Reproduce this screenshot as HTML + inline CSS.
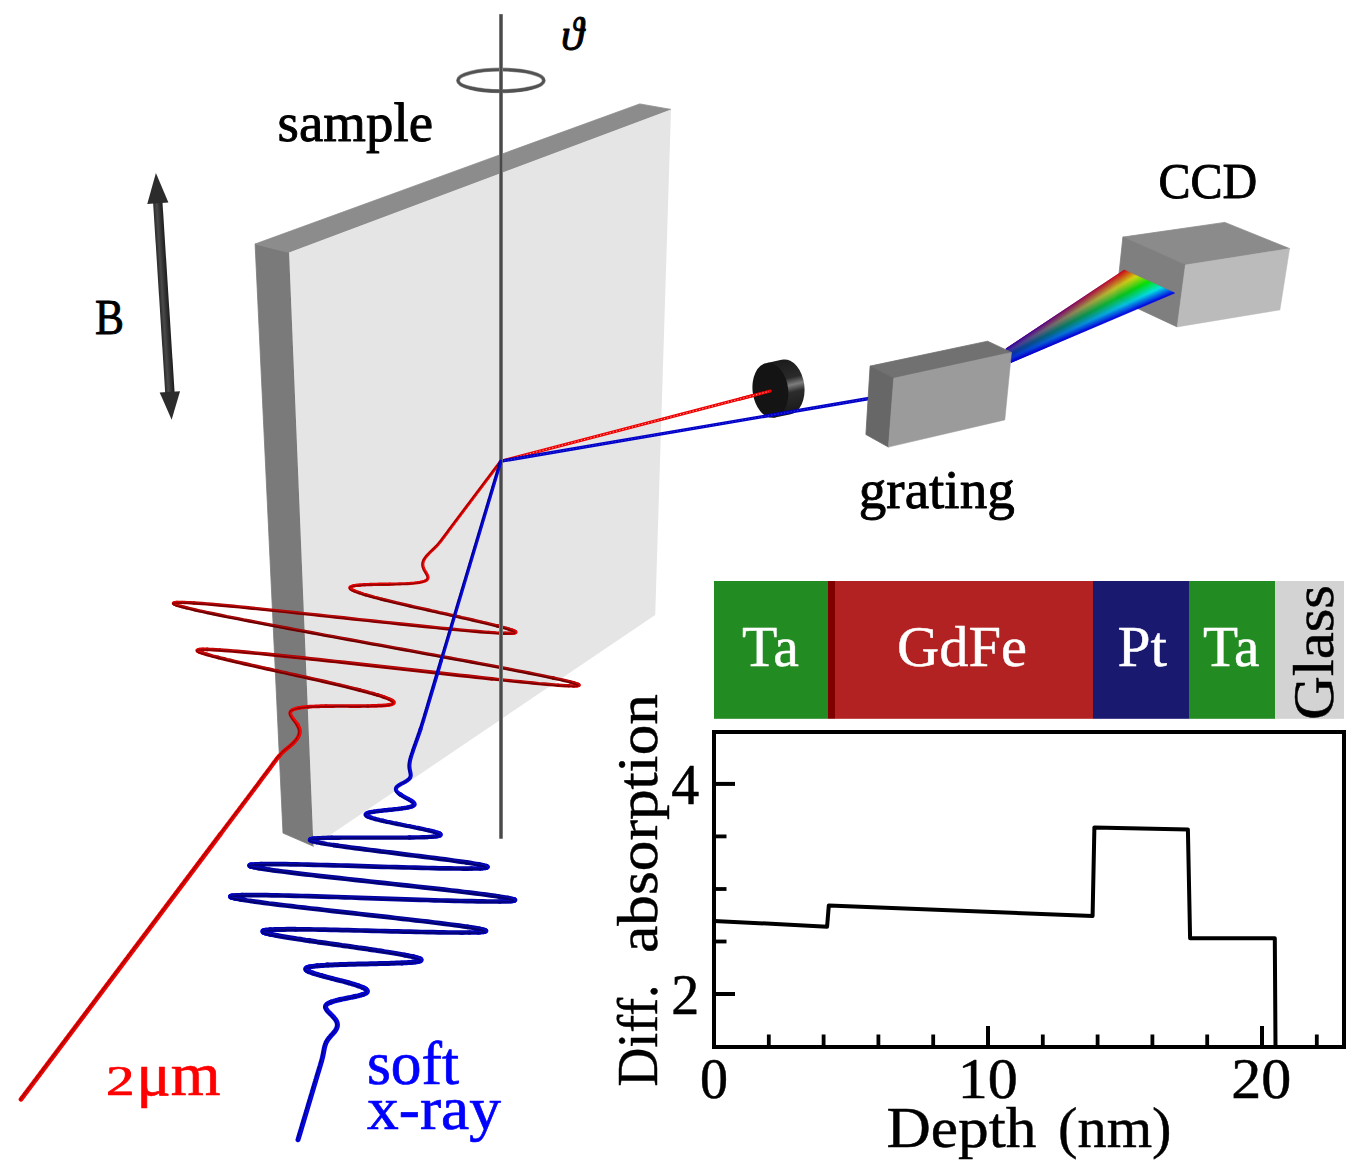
<!DOCTYPE html>
<html><head><meta charset="utf-8"><title>setup</title><style>html,body{margin:0;padding:0;background:#fff}svg{display:block}</style></head><body><svg width="1360" height="1168" viewBox="0 0 1360 1168" font-family="'Liberation Serif', serif">
<defs>
<linearGradient id="rbfade" gradientUnits="userSpaceOnUse" x1="1008" y1="355" x2="1150" y2="282">
<stop offset="0" stop-color="#0a00c8" stop-opacity="0.8"/><stop offset="1" stop-color="#0a00c8" stop-opacity="0"/></linearGradient>
<linearGradient id="rim" gradientUnits="userSpaceOnUse" x1="786" y1="360" x2="799" y2="415">
<stop offset="0" stop-color="#1c1c1c"/><stop offset="0.32" stop-color="#2a2a2a"/><stop offset="0.45" stop-color="#7c7c7c"/><stop offset="0.58" stop-color="#2c2c2c"/><stop offset="1" stop-color="#161616"/></linearGradient>
<linearGradient id="shaft" gradientUnits="userSpaceOnUse" x1="-4.6" y1="0" x2="4.6" y2="0">
<stop offset="0" stop-color="#2a2a2a"/><stop offset="0.35" stop-color="#4a4a4a"/><stop offset="0.7" stop-color="#303030"/><stop offset="1" stop-color="#1e1e1e"/></linearGradient>
<clipPath id="rimclip"><ellipse cx="786.6" cy="386.9" rx="17.8" ry="27.6" transform="rotate(-7 786.6 386.9)"/><polygon points="767,362.9 783.2,359.5 790.8,414.3 773.8,417.7"/></clipPath>
</defs>
<rect width="1360" height="1168" fill="#fff"/>
<polygon points="255.1,244 289.1,252.4 313.5,846.3 283,833.1" fill="#7a7a7a" stroke="#7a7a7a" stroke-width="0.8" stroke-linejoin="round"/>
<polygon points="255.1,244 639.7,103.9 671,109.4 289.1,252.4" fill="#8c8c8c" stroke="#8c8c8c" stroke-width="0.8" stroke-linejoin="round"/>
<polygon points="289.1,252.4 671,109.4 655.2,614.9 313.5,846.3" fill="#e5e5e5"/>
<g fill="none"><ellipse cx="500.9" cy="80.4" rx="42.9" ry="10.8" stroke="#9a9a9a" stroke-width="4"/><ellipse cx="500.9" cy="80.4" rx="42.9" ry="10.8" stroke="#525252" stroke-width="2.8"/></g>
<line x1="501" y1="461.2" x2="770.2" y2="391.1" stroke="#ee0000" stroke-width="3.1" stroke-linecap="round"/><line x1="501" y1="461.2" x2="740" y2="399" stroke="#fff" stroke-opacity="0.7" stroke-width="0.9" stroke-dasharray="1.3 2"/>
<g clip-path="url(#rimclip)"><rect x="740" y="350" width="80" height="80" fill="url(#rim)"/></g>
<ellipse cx="770.4" cy="390.3" rx="17.8" ry="27.6" transform="rotate(-7 770.4 390.3)" fill="#141414"/>
<line x1="740" y1="399" x2="770.2" y2="391.1" stroke="#ee0000" stroke-width="3.1" stroke-linecap="round"/><line x1="740" y1="399" x2="769" y2="391.4" stroke="#fff" stroke-opacity="0.7" stroke-width="0.9" stroke-dasharray="1.3 2"/>
<line x1="501" y1="461.2" x2="869" y2="398.5" stroke="#0000c6" stroke-width="3.3" stroke-linecap="round"/><line x1="501" y1="461.2" x2="869" y2="398.5" stroke="#6a6aff" stroke-opacity="0.55" stroke-width="0.9" stroke-dasharray="1.3 2"/>
<polygon points="1122.9,237.1 1224.8,222.4 1289.6,248.6 1185.4,264.9" fill="#8b8b8b" stroke="#8b8b8b" stroke-width="0.8" stroke-linejoin="round"/>
<polygon points="1122.9,237.1 1185.4,264.9 1177.2,326.9 1116.4,298.5" fill="#7f7f7f" stroke="#7f7f7f" stroke-width="0.8" stroke-linejoin="round"/>
<polygon points="1185.4,264.9 1289.6,248.6 1279.9,309.9 1177.2,326.9" fill="#bbbbbb" stroke="#bbbbbb" stroke-width="0.5" stroke-linejoin="round"/>
<g><polygon points="1005.9,348.8 1124.1,270.1 1125.2,270.6 1006,349.1" fill="#e60a00" stroke="#e60a00" stroke-width="0.6"/><polygon points="1006,349.1 1125.2,270.6 1126.2,271.1 1006.1,349.4" fill="#e61d00" stroke="#e61d00" stroke-width="0.6"/><polygon points="1006.1,349.4 1126.2,271.1 1127.3,271.5 1006.2,349.7" fill="#e63000" stroke="#e63000" stroke-width="0.6"/><polygon points="1006.2,349.7 1127.3,271.5 1128.3,272 1006.3,349.9" fill="#e64300" stroke="#e64300" stroke-width="0.6"/><polygon points="1006.3,349.9 1128.3,272 1129.4,272.5 1006.4,350.2" fill="#e65600" stroke="#e65600" stroke-width="0.6"/><polygon points="1006.4,350.2 1129.4,272.5 1130.4,273 1006.5,350.5" fill="#e66900" stroke="#e66900" stroke-width="0.6"/><polygon points="1006.5,350.5 1130.4,273 1131.5,273.5 1006.6,350.8" fill="#e67c00" stroke="#e67c00" stroke-width="0.6"/><polygon points="1006.6,350.8 1131.5,273.5 1132.5,273.9 1006.7,351.1" fill="#e68f00" stroke="#e68f00" stroke-width="0.6"/><polygon points="1006.7,351.1 1132.5,273.9 1133.6,274.4 1006.8,351.4" fill="#e6a300" stroke="#e6a300" stroke-width="0.6"/><polygon points="1006.8,351.4 1133.6,274.4 1134.6,274.9 1006.9,351.7" fill="#e6b600" stroke="#e6b600" stroke-width="0.6"/><polygon points="1006.9,351.7 1134.6,274.9 1135.7,275.4 1007,351.9" fill="#e6c900" stroke="#e6c900" stroke-width="0.6"/><polygon points="1007,351.9 1135.7,275.4 1136.7,275.9 1007.1,352.2" fill="#e6dc00" stroke="#e6dc00" stroke-width="0.6"/><polygon points="1007.1,352.2 1136.7,275.9 1137.8,276.3 1007.3,352.5" fill="#dce600" stroke="#dce600" stroke-width="0.6"/><polygon points="1007.3,352.5 1137.8,276.3 1138.8,276.8 1007.4,352.8" fill="#c9e600" stroke="#c9e600" stroke-width="0.6"/><polygon points="1007.4,352.8 1138.8,276.8 1139.9,277.3 1007.5,353.1" fill="#b6e600" stroke="#b6e600" stroke-width="0.6"/><polygon points="1007.5,353.1 1139.9,277.3 1140.9,277.8 1007.6,353.4" fill="#a3e600" stroke="#a3e600" stroke-width="0.6"/><polygon points="1007.6,353.4 1140.9,277.8 1142,278.2 1007.7,353.7" fill="#8fe600" stroke="#8fe600" stroke-width="0.6"/><polygon points="1007.7,353.7 1142,278.2 1143,278.7 1007.8,353.9" fill="#7ce600" stroke="#7ce600" stroke-width="0.6"/><polygon points="1007.8,353.9 1143,278.7 1144.1,279.2 1007.9,354.2" fill="#69e600" stroke="#69e600" stroke-width="0.6"/><polygon points="1007.9,354.2 1144.1,279.2 1145.1,279.7 1008,354.5" fill="#56e600" stroke="#56e600" stroke-width="0.6"/><polygon points="1008,354.5 1145.1,279.7 1146.2,280.2 1008.1,354.8" fill="#43e600" stroke="#43e600" stroke-width="0.6"/><polygon points="1008.1,354.8 1146.2,280.2 1147.2,280.6 1008.2,355.1" fill="#30e600" stroke="#30e600" stroke-width="0.6"/><polygon points="1008.2,355.1 1147.2,280.6 1148.3,281.1 1008.3,355.4" fill="#1de600" stroke="#1de600" stroke-width="0.6"/><polygon points="1008.3,355.4 1148.3,281.1 1149.3,281.6 1008.4,355.6" fill="#0ae600" stroke="#0ae600" stroke-width="0.6"/><polygon points="1008.4,355.6 1149.3,281.6 1150.4,282.1 1008.5,355.9" fill="#00e60a" stroke="#00e60a" stroke-width="0.6"/><polygon points="1008.5,355.9 1150.4,282.1 1151.5,282.6 1008.6,356.2" fill="#00e61d" stroke="#00e61d" stroke-width="0.6"/><polygon points="1008.6,356.2 1151.5,282.6 1152.5,283 1008.7,356.5" fill="#00e630" stroke="#00e630" stroke-width="0.6"/><polygon points="1008.7,356.5 1152.5,283 1153.6,283.5 1008.8,356.8" fill="#00e643" stroke="#00e643" stroke-width="0.6"/><polygon points="1008.8,356.8 1153.6,283.5 1154.6,284 1008.9,357.1" fill="#00e656" stroke="#00e656" stroke-width="0.6"/><polygon points="1008.9,357.1 1154.6,284 1155.7,284.5 1009,357.4" fill="#00e669" stroke="#00e669" stroke-width="0.6"/><polygon points="1009,357.4 1155.7,284.5 1156.7,285 1009.1,357.6" fill="#00e67c" stroke="#00e67c" stroke-width="0.6"/><polygon points="1009.1,357.6 1156.7,285 1157.8,285.4 1009.2,357.9" fill="#00e68f" stroke="#00e68f" stroke-width="0.6"/><polygon points="1009.2,357.9 1157.8,285.4 1158.8,285.9 1009.3,358.2" fill="#00e6a3" stroke="#00e6a3" stroke-width="0.6"/><polygon points="1009.3,358.2 1158.8,285.9 1159.9,286.4 1009.4,358.5" fill="#00e6b6" stroke="#00e6b6" stroke-width="0.6"/><polygon points="1009.4,358.5 1159.9,286.4 1160.9,286.9 1009.5,358.8" fill="#00e6c9" stroke="#00e6c9" stroke-width="0.6"/><polygon points="1009.5,358.8 1160.9,286.9 1162,287.4 1009.6,359.1" fill="#00e6dc" stroke="#00e6dc" stroke-width="0.6"/><polygon points="1009.6,359.1 1162,287.4 1163,287.8 1009.8,359.4" fill="#00dce6" stroke="#00dce6" stroke-width="0.6"/><polygon points="1009.8,359.4 1163,287.8 1164.1,288.3 1009.9,359.6" fill="#00c9e6" stroke="#00c9e6" stroke-width="0.6"/><polygon points="1009.9,359.6 1164.1,288.3 1165.1,288.8 1010,359.9" fill="#00b6e6" stroke="#00b6e6" stroke-width="0.6"/><polygon points="1010,359.9 1165.1,288.8 1166.2,289.3 1010.1,360.2" fill="#00a3e6" stroke="#00a3e6" stroke-width="0.6"/><polygon points="1010.1,360.2 1166.2,289.3 1167.2,289.7 1010.2,360.5" fill="#008fe6" stroke="#008fe6" stroke-width="0.6"/><polygon points="1010.2,360.5 1167.2,289.7 1168.3,290.2 1010.3,360.8" fill="#007ce6" stroke="#007ce6" stroke-width="0.6"/><polygon points="1010.3,360.8 1168.3,290.2 1169.3,290.7 1010.4,361.1" fill="#0069e6" stroke="#0069e6" stroke-width="0.6"/><polygon points="1010.4,361.1 1169.3,290.7 1170.4,291.2 1010.5,361.4" fill="#0056e6" stroke="#0056e6" stroke-width="0.6"/><polygon points="1010.5,361.4 1170.4,291.2 1171.4,291.7 1010.6,361.6" fill="#0043e6" stroke="#0043e6" stroke-width="0.6"/><polygon points="1010.6,361.6 1171.4,291.7 1172.5,292.1 1010.7,361.9" fill="#0030e6" stroke="#0030e6" stroke-width="0.6"/><polygon points="1010.7,361.9 1172.5,292.1 1173.5,292.6 1010.8,362.2" fill="#001de6" stroke="#001de6" stroke-width="0.6"/><polygon points="1010.8,362.2 1173.5,292.6 1174.6,293.1 1010.9,362.5" fill="#000ae6" stroke="#000ae6" stroke-width="0.6"/></g><polygon points="1005.9,348.8 1124.1,270.1 1174.6,293.1 1010.9,362.5" fill="url(#rbfade)" stroke="url(#rbfade)" stroke-width="0.9" stroke-linejoin="round"/>
<polygon points="870.1,366.1 987.6,341.2 1011.5,352.4 893.7,378.2" fill="#717171" stroke="#717171" stroke-width="0.8" stroke-linejoin="round"/>
<polygon points="870.1,366.1 893.7,378.2 888.4,447.1 865.9,434.5" fill="#676767" stroke="#676767" stroke-width="0.8" stroke-linejoin="round"/>
<polygon points="893.7,378.2 1011.5,352.4 1004.8,419.9 888.4,447.1" fill="#9b9b9b" stroke="#9b9b9b" stroke-width="0.5" stroke-linejoin="round"/>
<!--waves-->
<g fill="none" stroke-linecap="round" stroke-linejoin="round"><path d="M500.7 461.3 500.5 461.6 500.3 461.8 500.1 462.1 499.9 462.4 499.7 462.6 499.5 462.9 499.3 463.2 499.1 463.4 498.9 463.7 498.7 464 498.5 464.2 498.3 464.5 498.1 464.8 497.9 465 497.7 465.3 497.5 465.6 497.3 465.8 497.1 466.1 496.9 466.4 496.7 466.6 496.5 466.9 496.3 467.2 496.1 467.4 495.9 467.7 495.7 467.9 495.5 468.2 495.3 468.5 495.1 468.7 494.9 469 494.7 469.3 494.5 469.5 494.3 469.8 494.1 470.1 493.9 470.3 493.7 470.6 493.5 470.9 493.3 471.1 493.1 471.4 492.9 471.7 492.7 471.9 492.5 472.2 492.3 472.5 492.1 472.7 491.9 473 491.7 473.3 491.5 473.5 491.3 473.8 491.1 474.1 490.9 474.3 490.7 474.6 490.5 474.9 490.3 475.1 490.1 475.4 489.9 475.7 489.7 475.9 489.5 476.2 489.3 476.5 489.1 476.7 488.9 477 488.7 477.3 488.5 477.5 488.3 477.8 488.1 478.1 487.9 478.3 487.7 478.6 487.5 478.9 487.3 479.1 487.1 479.4 486.9 479.7 486.7 479.9 486.5 480.2 486.3 480.4 486.1 480.7 485.9 481 485.7 481.2 485.5 481.5 485.3 481.8 485.1 482 484.9 482.3 484.7 482.6 484.5 482.8 484.3 483.1 484.1 483.4 483.9 483.6 483.7 483.9 483.5 484.2 483.3 484.4 483.1 484.7 482.9 485 482.7 485.2 482.5 485.5 482.3 485.8 482.1 486 481.9 486.3 481.7 486.6 481.5 486.8 481.3 487.1 481.1 487.4 480.9 487.6 480.7 487.9 480.5 488.2 480.3 488.4 480.1 488.7 479.9 489 479.7 489.2 479.5 489.5 479.3 489.8 479.1 490 478.9 490.3 478.7 490.6 478.5 490.8 478.3 491.1 478.1 491.4 477.9 491.6 477.7 491.9 477.5 492.1 477.3 492.4 477.1 492.7 476.9 492.9 476.7 493.2 476.5 493.5 476.3 493.7 476.1 494 475.9 494.3 475.7 494.5 475.5 494.8 475.3 495.1 475.1 495.3 474.9 495.6 474.7 495.9 474.5 496.1 474.3 496.4 474.1 496.7 473.9 496.9 473.7 497.2 473.5 497.5 473.3 497.7 473.1 498 472.9 498.3 472.7 498.5 472.5 498.8 472.3 499.1 472.1 499.3 471.9 499.6 471.7 499.9 471.5 500.1 471.3 500.4 471.1 500.7 470.9 500.9 470.7 501.2 470.5 501.5 470.3 501.7 470.1 502 469.9 502.3 469.7 502.5 469.5 502.8 469.3 503.1 469.1 503.3 468.9 503.6 468.7 503.9 468.5 504.1 468.3 504.4 468.1 504.6 467.9 504.9 467.7 505.2 467.5 505.4 467.3 505.7 467.1 506 466.9 506.2 466.7 506.5 466.5 506.8 466.3 507 466.1 507.3 465.9 507.6 465.7 507.8 465.5 508.1 465.3 508.4 465.1 508.6 464.9 508.9 464.7 509.2 464.5 509.4 464.3 509.7 464.1 510 463.9 510.2 463.7 510.5 463.5 510.8 463.3 511 463.1 511.3 462.9 511.6 462.7 511.8 462.5 512.1 462.3 512.4 462.1 512.6 461.9 512.9 461.7 513.2 461.5 513.4 461.3 513.7 461.1 514 460.9 514.2 460.7 514.5 460.5 514.8 460.3 515 460.1 515.3 459.9 515.6 459.7 515.8 459.5 516.1 459.3 516.4 459.1 516.6 458.9 516.9 458.7 517.1 458.5 517.4 458.3 517.7 458.1 517.9 457.9 518.2 457.7 518.5 457.5 518.7 457.3 519 457.1 519.3 456.9 519.5 456.7 519.8 456.5 520.1 456.3 520.3 456.1 520.6 455.9 520.9 455.7 521.1 455.5 521.4 455.3 521.7 455.1 521.9 454.9 522.2 454.7 522.5 454.5 522.7 454.3 523 454.1 523.3 453.9 523.5 453.7 523.8 453.5 524.1 453.3 524.3 453.1 524.6 452.9 524.9 452.7 525.1 452.5 525.4 452.3 525.7 452.1 525.9 451.9 526.2 451.7 526.5 451.5 526.7 451.3 527 451.1 527.3 450.9 527.5 450.7 527.8 450.5 528.1 450.3 528.3 450.1 528.6 449.9 528.9 449.7 529.1 449.5 529.4 449.3 529.7 449.1 529.9 448.9 530.2 448.7 530.5 448.5 530.7 448.4 531 448.2 531.2 448 531.5 447.8 531.8 447.6 532 447.4 532.3 447.2 532.6 447 532.8 446.8 533.1 446.6 533.4 446.4 533.6 446.2 533.9 446 534.2 445.8 534.4 445.6 534.7 445.4 535 445.2 535.2 445 535.5 444.8 535.8 444.6 536 444.4 536.3 444.2 536.6 444 536.8 443.8 537.1 443.6 537.4 443.4 537.6 443.2 537.9 443 538.2 442.8 538.4 442.6 538.7 442.4 539 442.2 539.2 442 539.5 441.8 539.8 441.6 540 441.4 540.3 441.2 540.6 441 540.8 440.8 541.1 440.6 541.4 440.4 541.6 440.2 541.9 439.9 542.2 439.7 542.4 439.5 542.7 439.3 542.9 439.1 543.2 438.8 543.5 438.6 543.7 438.4 544 438.1 544.3 437.9 544.5 437.7 544.8 437.4 545 437.2 545.3 437 545.6 436.7 545.8 436.5 546.1 436.2 546.3 436 546.6 435.7 546.8 435.5 547.1 435.2 547.4 434.9 547.6 434.7 547.9 434.4 548.1 434.2 548.4 433.9 548.6 433.6 548.9 433.4 549.2 433.1 549.4 432.8 549.7 432.6 549.9 432.3 550.2 432 550.4 431.8 550.7 431.5 551 431.2 551.2 430.9 551.5 430.7 551.7 430.4 552 430.2 552.2 429.9 552.5 429.6 552.7 429.4 553 429.1 553.3 428.9 553.5 428.6 553.8 428.4 554 428.1 554.3 427.9 554.6 427.7 554.8 427.4 555.1 427.2 555.3 427 555.6 426.7 555.9 426.5 556.1 426.3 556.4 426.1 556.7 425.9 556.9 425.7 557.2 425.5 557.5 425.3 557.7 425.1 558 424.9 558.3 424.7 558.5 424.6 558.8 424.4 559.1 424.2 559.3 424.1 559.6 423.9 559.9 423.8 560.2 423.7 560.4 423.6 560.7 423.4 561 423.3 561.3 423.2 561.6 423.2 561.8 423.1 562.1 423 562.4 423 562.7 422.9 563 422.9 563.3 422.8 563.6 422.8 563.9 422.8 564.1 422.8 564.4 422.8 564.7 422.8 565 422.9 565.3 422.9 565.6 422.9 565.9 423 566.2 423.1 566.5 423.2 566.9 423.3 567.2 423.4 567.5 423.5 567.8 423.6 568.1 423.7 568.4 423.8 568.7 424 569 424.1 569.4 424.3 569.7 424.5 570 424.6 570.3 424.8 570.6 425 571 425.2 571.3 425.4 571.6 425.6 571.9 425.8 572.2 425.9 572.6 426.1 572.9 426.3 573.2 426.5 573.5 426.7 573.9 426.9 574.2 427 574.5 427.2 574.8 427.4 575.1 427.5 575.4 427.6 575.8 427.7 576.1 427.8 576.4 427.9 576.7 428 577 428 577.3 428 577.6 428 577.9 427.9 578.2 427.8 578.4 427.7 578.7 427.6 579 427.4 579.3 427.2 579.5 426.9 579.8 426.6 580 426.3 580.3 425.9 580.5 425.4 580.7 424.9 581 424.4 581.2 423.8 581.4 423.1 581.6 422.4 581.8 421.7 582 420.8 582.1 420 582.3 419 582.5" stroke="#f30000" stroke-width="3.1"/><path d="M354 585.7 353.2 585.9 352.4 586.1 351.8 586.3 351.2 586.5 350.8 586.7 350.4 587 350.2 587.2 350 587.5 350 587.8 350.1 588.1 350.3 588.4 350.6 588.8 351.1 589.1M515.5 631.8 515.8 632.2 515.8 632.5 515.5 632.7 514.9 632.9 514 633.1M174.2 602.8 173.7 603 173.5 603.2 173.6 603.6 174.1 603.9M578.9 684.9 579 685.3 578.7 685.5 578.1 685.7 577 685.9" stroke="#f30000" stroke-width="3.4"/><path d="M198.8 649.7 198 649.9 197.5 650.1 197.3 650.3 197.4 650.6 197.7 651M393.3 701.4 393.6 701.8 393.9 702.1 394 702.4 394 702.7 393.9 703 393.7 703.3 393.4 703.5 393 703.7 392.5 704 392 704.2 391.3 704.4 390.5 704.6 389.7 704.7 388.7 704.9M299.2 707.9 298.3 708 297.5 708.2 296.7 708.4 296 708.6 295.3 708.8 294.7 709 294.1 709.2 293.5 709.4 293.1 709.6 292.6 709.8 292.2 710.1 291.8 710.3 291.5 710.6 291.3 710.8 291 711.1 290.8 711.4 290.6 711.6 290.5 711.9 290.4 712.2 290.4 712.5 290.3 712.8 290.3 713.1 290.3 713.3 290.4 713.6 290.4 714 290.5 714.3 290.6 714.6 290.7 714.9 290.9 715.2 291 715.5 291.2 715.8 291.4 716.2 291.6 716.5 291.8 716.8 292 717.1 292.2 717.5 292.5 717.8 292.7 718.1 292.9 718.4 293.2 718.8 293.4 719.1 293.7 719.4 293.9 719.8 294.2 720.1 294.4 720.4 294.7 720.8 295 721.1 295.2 721.4 295.5 721.8 295.7 722.1 295.9 722.4 296.2 722.7 296.4 723.1 296.6 723.4 296.8 723.7 297.1 724.1 297.3 724.4" stroke="#f30000" stroke-width="3.7"/><path d="M297.3 724.4 297.5 724.7 297.7 725 297.8 725.3 298 725.7 298.2 726 298.3 726.3 298.5 726.6 298.6 726.9 298.8 727.3 298.9 727.6 299 727.9 299.1 728.2 299.2 728.5 299.3 728.8 299.4 729.1 299.5 729.4 299.5 729.7 299.6 730 299.6 730.3 299.6 730.6 299.7 730.9 299.7 731.2 299.7 731.5 299.7 731.8 299.7 732.1 299.6 732.4 299.6 732.7 299.6 733 299.5 733.3 299.5 733.5 299.4 733.8 299.3 734.1 299.2 734.4 299.2 734.7 299.1 735 299 735.2 298.8 735.5 298.7 735.8 298.6 736.1 298.5 736.4 298.3 736.6 298.2 736.9 298 737.2 297.9 737.4 297.7 737.7 297.5 738 297.3 738.3 297.2 738.5 297 738.8 296.8 739.1 296.6 739.3 296.4 739.6 296.2 739.9 295.9 740.1 295.7 740.4 295.5 740.6 295.3 740.9 295 741.2 294.8 741.4 294.6 741.7 294.3 741.9 294.1 742.2 293.8 742.5 293.6 742.7 293.3 743 293.1 743.2 292.8 743.5 292.5 743.7 292.3 744 292 744.3 291.7 744.5 291.4 744.8 291.1 745 290.8 745.3 290.6 745.5 290.3 745.8 290 746 289.7 746.3 289.4 746.5 289.1 746.8 288.8 747 288.5 747.3 288.2 747.5 287.9 747.8 287.6 748 287.3 748.3 287 748.5 286.7 748.8 286.4 749.1 286.1 749.3 285.8 749.6 285.5 749.8 285.2 750.1 284.9 750.3 284.6 750.6 284.3 750.8 284.1 751.1 283.8 751.3 283.5 751.6 283.2 751.8 283 752.1 282.7 752.3 282.4 752.6 282.2 752.9 281.9 753.1 281.6 753.4 281.4 753.6 281.1 753.9 280.9 754.2 280.6 754.4 280.4 754.7 280.1 754.9 279.9 755.2 279.7 755.5 279.4 755.7 279.2 756 279 756.2" stroke="#f30000" stroke-width="4.1"/><path d="M279 756.2 278.8 756.5 278.5 756.8 278.3 757 278.1 757.3 277.9 757.6 277.7 757.8 277.4 758.1 277.2 758.3 277 758.6 276.8 758.9 276.6 759.1 276.4 759.4 276.2 759.7 276 759.9 275.8 760.2 275.6 760.5 275.4 760.7 275.2 761 275 761.3 274.8 761.5 274.6 761.8 274.4 762.1 274.2 762.3 274 762.6 273.8 762.9 273.6 763.1 273.4 763.4 273.2 763.7 273 763.9 272.8 764.2 272.6 764.5 272.4 764.7 272.2 765 272 765.3 271.8 765.5 271.6 765.8 271.4 766.1 271.3 766.3 271.1 766.6 270.9 766.9 270.7 767.1 270.5 767.4 270.3 767.7 270.1 767.9 269.9 768.2 269.7 768.5 269.5 768.7 269.3 769 269.1 769.3 268.9 769.5 268.7 769.8 268.5 770.1 268.3 770.3 268.1 770.6 267.9 770.9 267.7 771.1 267.5 771.4 267.3 771.7 267.1 771.9 266.9 772.2 266.7 772.5 266.5 772.7 266.3 773 266.1 773.3 265.9 773.5 265.7 773.8 265.5 774 265.3 774.3 265.1 774.6 264.9 774.8 264.7 775.1 264.5 775.4 264.3 775.6 264.1 775.9 263.9 776.2 263.7 776.4 263.5 776.7 263.3 777 263.1 777.2 262.9 777.5 262.7 777.8 262.5 778 262.3 778.3 262.1 778.6 261.9 778.8 261.7 779.1 261.5 779.4 261.3 779.6 261.1 779.9 260.9 780.2 260.7 780.4 260.5 780.7 260.3 781 260.1 781.2 259.9 781.5 259.7 781.8 259.6 782 259.4 782.3 259.2 782.6 259 782.8 258.8 783.1 258.6 783.4 258.4 783.6 258.2 783.9 258 784.2 257.8 784.4 257.6 784.7 257.4 785 257.2 785.2 257 785.5 256.8 785.8 256.6 786 256.4 786.3 256.2 786.5 256 786.8 255.8 787.1 255.6 787.3 255.4 787.6 255.2 787.9 255 788.1 254.8 788.4 254.6 788.7 254.4 788.9 254.2 789.2 254 789.5 253.8 789.7 253.6 790 253.4 790.3 253.2 790.5 253 790.8 252.8 791.1 252.6 791.3 252.4 791.6 252.2 791.9 252 792.1 251.8 792.4 251.6 792.7 251.4 792.9 251.2 793.2 251 793.5 250.8 793.7 250.6 794 250.4 794.3 250.2 794.5 250 794.8 249.8 795.1 249.6 795.3 249.4 795.6 249.2 795.9 249 796.1 248.8 796.4 248.6 796.7 248.4 796.9 248.2 797.2 248 797.5 247.8 797.7 247.6 798 247.4 798.3 247.2 798.5 247 798.8 246.8 799 246.6 799.3 246.4 799.6 246.2 799.8 246 800.1 245.8 800.4 245.6 800.6 245.4 800.9 245.2 801.2 245 801.4 244.8 801.7 244.6 802 244.4 802.2 244.2 802.5 244 802.8 243.8 803 243.6 803.3 243.4 803.6 243.2 803.8 243 804.1 242.8 804.4 242.6 804.6 242.4 804.9 242.2 805.2 242 805.4 241.8 805.7 241.6 806 241.4 806.2 241.2 806.5 241 806.8 240.8 807 240.6 807.3 240.4 807.6 240.2 807.8 240 808.1 239.8 808.4 239.6 808.6 239.4 808.9 239.2 809.2 239 809.4 238.8 809.7 238.6 810 238.4 810.2 238.2 810.5 238 810.8 237.8 811 237.6 811.3 237.4 811.5 237.2 811.8 237 812.1 236.8 812.3 236.6 812.6 236.4 812.9 236.2 813.1 236 813.4 235.8 813.7 235.6 813.9 235.4 814.2 235.2 814.5 235 814.7 234.8 815 234.6 815.3 234.4 815.5 234.2 815.8 234 816.1 233.8 816.3 233.6 816.6 233.4 816.9 233.2 817.1 233 817.4 232.8 817.7 232.6 817.9 232.4 818.2 232.2 818.5 232 818.7 231.8 819 231.6 819.3 231.4 819.5 231.2 819.8 231 820.1 230.8 820.3 230.6 820.6 230.4 820.9 230.2 821.1 230 821.4 229.8 821.7 229.6 821.9 229.4 822.2 229.2 822.5 229 822.7 228.8 823 228.6 823.2 228.4 823.5 228.2 823.8 228 824 227.8 824.3 227.6 824.6 227.4 824.8 227.2 825.1 227 825.4 226.8 825.6 226.6 825.9 226.4 826.2 226.2 826.4 226 826.7 225.8 827 225.6 827.2 225.4 827.5 225.2 827.8 225 828 224.8 828.3 224.6 828.6 224.4 828.8 224.2 829.1 224 829.4 223.8 829.6 223.6 829.9 223.4 830.2 223.2 830.4 223 830.7 222.8 831 222.6 831.2 222.4 831.5 222.2 831.8 222 832 221.8 832.3 221.6 832.6 221.4 832.8 221.2 833.1 221 833.4 220.8 833.6 220.6 833.9 220.4 834.2 220.2 834.4" stroke="#f30000" stroke-width="4.4"/><path d="M220.2 834.4 220 834.7 219.8 835 219.6 835.2 219.4 835.5 219.2 835.7 219 836 218.8 836.3 218.6 836.5 218.4 836.8 218.2 837.1 218 837.3 217.8 837.6 217.6 837.9 217.4 838.1 217.2 838.4 217 838.7 216.8 838.9 216.6 839.2 216.4 839.5 216.2 839.7 216 840 215.8 840.3 215.6 840.5 215.4 840.8 215.2 841.1 215 841.3 214.8 841.6 214.6 841.9 214.4 842.1 214.2 842.4 214 842.7 213.8 842.9 213.6 843.2 213.4 843.5 213.2 843.7 213 844 212.8 844.3 212.6 844.5 212.4 844.8 212.2 845.1 212 845.3 211.8 845.6 211.6 845.9 211.4 846.1 211.2 846.4 211 846.7 210.8 846.9 210.6 847.2 210.4 847.5 210.2 847.7 210 848 209.8 848.2 209.6 848.5 209.4 848.8 209.2 849 209 849.3 208.8 849.6 208.6 849.8 208.4 850.1 208.2 850.4 208 850.6 207.8 850.9 207.6 851.2 207.4 851.4 207.2 851.7 207 852 206.8 852.2 206.6 852.5 206.4 852.8 206.2 853 206 853.3 205.8 853.6 205.6 853.8 205.4 854.1 205.2 854.4 205 854.6 204.8 854.9 204.6 855.2 204.4 855.4 204.2 855.7 204 856 203.8 856.2 203.6 856.5 203.4 856.8 203.2 857 203 857.3 202.8 857.6 202.6 857.8 202.4 858.1 202.2 858.4 202 858.6 201.8 858.9 201.6 859.2 201.4 859.4 201.2 859.7 201 860 200.8 860.2 200.6 860.5 200.4 860.7 200.2 861 200 861.3 199.8 861.5 199.6 861.8 199.4 862.1 199.2 862.3 199 862.6 198.8 862.9 198.6 863.1 198.4 863.4 198.2 863.7 198 863.9 197.8 864.2 197.6 864.5 197.4 864.7 197.2 865 197 865.3 196.8 865.5 196.6 865.8 196.4 866.1 196.2 866.3 196 866.6 195.8 866.9 195.6 867.1 195.4 867.4 195.2 867.7 195 867.9 194.8 868.2 194.6 868.5 194.4 868.7 194.2 869 194 869.3 193.8 869.5 193.6 869.8 193.4 870.1 193.2 870.3 193 870.6 192.8 870.9 192.6 871.1 192.4 871.4 192.2 871.7 192 871.9 191.8 872.2 191.6 872.4 191.4 872.7 191.2 873 191 873.2 190.8 873.5 190.6 873.8 190.4 874 190.2 874.3 190 874.6 189.8 874.8 189.6 875.1 189.4 875.4 189.2 875.6 189 875.9 188.8 876.2 188.6 876.4 188.4 876.7 188.2 877 188 877.2 187.8 877.5 187.6 877.8 187.4 878 187.2 878.3 187 878.6 186.8 878.8 186.6 879.1 186.4 879.4 186.2 879.6 186 879.9 185.8 880.2 185.6 880.4 185.4 880.7 185.2 881 185 881.2 184.8 881.5 184.6 881.8 184.4 882 184.2 882.3 184 882.6 183.8 882.8 183.6 883.1 183.4 883.4 183.2 883.6 183 883.9 182.8 884.2 182.6 884.4 182.4 884.7 182.2 884.9 182 885.2 181.8 885.5 181.6 885.7 181.4 886 181.2 886.3 181 886.5 180.8 886.8 180.6 887.1 180.4 887.3 180.2 887.6 180 887.9 179.8 888.1 179.6 888.4 179.4 888.7 179.2 888.9 179 889.2 178.8 889.5 178.6 889.7 178.4 890 178.2 890.3 178 890.5 177.8 890.8 177.6 891.1 177.4 891.3 177.2 891.6 177 891.9 176.8 892.1 176.6 892.4 176.4 892.7 176.2 892.9 176 893.2 175.8 893.5 175.6 893.7 175.4 894 175.2 894.3 175 894.5 174.8 894.8 174.6 895.1 174.4 895.3 174.2 895.6 174 895.9 173.8 896.1 173.6 896.4 173.4 896.7 173.2 896.9 173 897.2 172.8 897.4 172.6 897.7 172.4 898 172.2 898.2 172 898.5 171.8 898.8 171.6 899 171.4 899.3 171.2 899.6 171 899.8 170.8 900.1 170.6 900.4 170.4 900.6 170.2 900.9 170 901.2 169.8 901.4 169.6 901.7 169.4 902 169.2 902.2 169 902.5 168.8 902.8 168.6 903 168.4 903.3 168.2 903.6 168 903.8 167.8 904.1 167.6 904.4 167.4 904.6 167.2 904.9 167 905.2 166.8 905.4 166.6 905.7 166.4 906 166.2 906.2 166 906.5 165.8 906.8 165.6 907 165.4 907.3 165.2 907.6 165 907.8 164.8 908.1 164.6 908.4 164.4 908.6 164.2 908.9 164 909.1 163.8 909.4 163.6 909.7 163.4 909.9 163.2 910.2 163 910.5 162.8 910.7 162.6 911 162.4 911.3 162.2 911.5 162 911.8 161.8 912.1 161.6 912.3 161.4 912.6 161.2 912.9 161 913.1 160.8 913.4 160.6 913.7 160.4 913.9 160.2 914.2 160 914.5 159.8 914.7 159.6 915 159.4 915.3 159.2 915.5 159 915.8 158.8 916.1 158.6 916.3 158.4 916.6 158.2 916.9 158 917.1 157.8 917.4 157.6 917.7 157.4 917.9 157.2 918.2 157 918.5 156.8 918.7 156.6 919 156.4 919.3 156.2 919.5 156 919.8 155.8 920.1 155.6 920.3 155.4 920.6 155.2 920.9 155 921.1 154.8 921.4 154.6 921.6 154.4 921.9 154.2 922.2 154 922.4 153.8 922.7 153.6 923 153.4 923.2 153.2 923.5 153 923.8 152.8 924 152.6 924.3 152.4 924.6 152.2 924.8 152 925.1 151.8 925.4 151.6 925.6 151.4 925.9 151.2 926.2 151 926.4 150.8 926.7 150.6 927 150.4 927.2 150.2 927.5 150 927.8 149.8 928 149.6 928.3 149.4 928.6 149.2 928.8 149 929.1 148.8 929.4 148.6 929.6 148.4 929.9 148.2 930.2 148 930.4 147.8 930.7 147.6 931 147.4 931.2 147.2 931.5 147 931.8 146.8 932 146.6 932.3 146.4 932.6 146.2 932.8 146 933.1 145.8 933.4 145.6 933.6 145.4 933.9 145.2 934.1 145 934.4 144.8 934.7 144.6 934.9 144.4 935.2 144.2 935.5 144 935.7 143.8 936 143.6 936.3 143.4 936.5 143.2 936.8 143 937.1 142.8 937.3 142.6 937.6 142.4 937.9 142.2 938.1 142 938.4 141.8 938.7 141.6 938.9 141.4 939.2 141.2 939.5 141 939.7 140.8 940 140.6 940.3 140.4 940.5 140.2 940.8 140 941.1 139.8 941.3 139.6 941.6 139.4 941.9 139.2 942.1 139 942.4 138.8 942.7 138.6 942.9 138.4 943.2 138.2 943.5 138 943.7 137.8 944 137.6 944.3 137.4 944.5 137.2 944.8 137 945.1 136.8 945.3 136.6 945.6 136.4 945.9 136.2 946.1 136 946.4 135.8 946.6 135.6 946.9 135.4 947.2 135.2 947.4 135 947.7 134.8 948 134.6 948.2 134.4 948.5 134.2 948.8 134 949 133.8 949.3 133.6 949.6 133.4 949.8 133.2 950.1 133 950.4 132.8 950.6 132.6 950.9 132.4 951.2 132.2 951.4 132 951.7 131.8 952 131.6 952.2 131.4 952.5 131.2 952.8 131 953 130.8 953.3 130.6 953.6 130.4 953.8 130.2 954.1 130 954.4 129.8 954.6 129.6 954.9 129.4 955.2 129.2 955.4 129 955.7 128.8 956 128.6 956.2 128.4 956.5 128.2 956.8 128 957 127.8 957.3 127.6 957.6 127.4 957.8 127.2 958.1 127 958.3 126.8 958.6 126.6 958.9 126.4 959.1 126.2 959.4 126 959.7 125.8 959.9 125.6 960.2 125.4 960.5 125.2 960.7 125 961 124.8 961.3 124.6 961.5 124.4 961.8 124.2 962.1 124 962.3 123.8 962.6 123.6 962.9 123.4 963.1 123.2 963.4 123 963.7 122.8 963.9 122.6 964.2 122.4 964.5 122.2 964.7 122 965 121.8 965.3 121.6 965.5 121.4 965.8 121.2 966.1 121 966.3 120.8 966.6 120.6 966.9 120.4 967.1 120.2 967.4 120 967.7 119.8 967.9 119.6 968.2 119.4 968.5 119.2 968.7 119 969 118.8 969.3 118.6 969.5 118.4 969.8 118.2 970.1 118 970.3 117.8 970.6 117.6 970.8 117.4 971.1 117.2 971.4 117 971.6 116.8 971.9 116.6 972.2 116.4 972.4 116.2 972.7 116 973 115.8 973.2 115.6 973.5 115.4 973.8 115.2 974 115 974.3 114.8 974.6 114.6 974.8 114.4 975.1 114.2 975.4 114 975.6 113.8 975.9 113.6 976.2 113.4 976.4 113.2 976.7 113 977 112.8 977.2 112.6 977.5 112.4 977.8 112.2 978 112 978.3 111.8 978.6 111.6 978.8 111.4 979.1 111.2 979.4 111 979.6 110.8 979.9 110.6 980.2 110.4 980.4 110.2 980.7 110 981 109.8 981.2 109.6 981.5 109.4 981.8 109.2 982 109 982.3 108.8 982.6 108.6 982.8 108.4 983.1 108.2 983.3 108 983.6 107.8 983.9 107.6 984.1 107.4 984.4 107.2 984.7 107 984.9 106.8 985.2 106.6 985.5 106.4 985.7 106.2 986 106 986.3 105.8 986.5 105.6 986.8 105.4 987.1 105.2 987.3 105 987.6 104.8 987.9 104.6 988.1 104.4 988.4 104.2 988.7 104 988.9 103.8 989.2 103.6 989.5 103.4 989.7 103.2 990 103 990.3 102.8 990.5 102.6 990.8 102.4 991.1 102.2 991.3 102 991.6 101.8 991.9 101.6 992.1 101.4 992.4 101.2 992.7 101 992.9 100.8 993.2 100.6 993.5 100.4 993.7 100.2 994 100 994.3 99.8 994.5 99.6 994.8 99.4 995 99.2 995.3 99 995.6 98.8 995.8 98.6 996.1 98.4 996.4 98.2 996.6 98 996.9 97.8 997.2 97.6 997.4 97.4 997.7 97.2 998 97 998.2 96.8 998.5 96.6 998.8 96.4 999 96.2 999.3 96 999.6 95.8 999.8 95.6 1000.1 95.4 1000.4 95.2 1000.6 95 1000.9 94.8 1001.2 94.6 1001.4 94.4 1001.7 94.2 1002 94 1002.2 93.8 1002.5 93.6 1002.8 93.4 1003 93.2 1003.3 93 1003.6 92.8 1003.8 92.6 1004.1 92.4 1004.4 92.2 1004.6 92 1004.9 91.8 1005.2 91.6 1005.4 91.4 1005.7 91.2 1006 91 1006.2 90.8 1006.5 90.6 1006.8 90.4 1007 90.2 1007.3 90 1007.5 89.8 1007.8 89.6 1008.1 89.4 1008.3 89.2 1008.6 89 1008.9 88.8 1009.1 88.6 1009.4 88.4 1009.7 88.2 1009.9 88 1010.2 87.8 1010.5 87.6 1010.7 87.4 1011 87.2 1011.3 87 1011.5 86.8 1011.8 86.6 1012.1 86.4 1012.3 86.2 1012.6 86 1012.9 85.8 1013.1 85.6 1013.4 85.4 1013.7 85.2 1013.9 85 1014.2 84.8 1014.5 84.6 1014.7 84.4 1015 84.2 1015.3 84 1015.5 83.8 1015.8 83.6 1016.1 83.4 1016.3 83.2 1016.6 83 1016.9 82.8 1017.1 82.6 1017.4 82.4 1017.7 82.2 1017.9 82 1018.2 81.8 1018.5 81.6 1018.7 81.4 1019 81.2 1019.3 81 1019.5 80.8 1019.8 80.6 1020 80.4 1020.3 80.2 1020.6 80 1020.8 79.8 1021.1 79.6 1021.4 79.4 1021.6 79.2 1021.9 79 1022.2 78.8 1022.4 78.6 1022.7 78.4 1023 78.2 1023.2 78 1023.5 77.8 1023.8 77.6 1024 77.4 1024.3 77.2 1024.6 77 1024.8 76.8 1025.1 76.6 1025.4 76.4 1025.6 76.2 1025.9 76 1026.2 75.8 1026.4 75.6 1026.7 75.4 1027 75.2 1027.2 75 1027.5 74.8 1027.8 74.6 1028 74.4 1028.3 74.2 1028.6 74 1028.8 73.8 1029.1 73.6 1029.4 73.4 1029.6 73.2 1029.9 73 1030.2 72.8 1030.4 72.6 1030.7 72.4 1031 72.2 1031.2 72 1031.5 71.8 1031.8 71.6 1032 71.4 1032.3 71.2 1032.5 71 1032.8 70.8 1033.1 70.6 1033.3 70.4 1033.6 70.2 1033.9 70 1034.1 69.8 1034.4 69.6 1034.7 69.4 1034.9 69.2 1035.2 69 1035.5 68.8 1035.7 68.6 1036 68.4 1036.3 68.2 1036.5 68 1036.8 67.8 1037.1 67.6 1037.3 67.4 1037.6 67.2 1037.9 67 1038.1 66.8 1038.4 66.6 1038.7 66.4 1038.9 66.2 1039.2 66 1039.5 65.8 1039.7 65.6 1040 65.4 1040.3 65.2 1040.5 65 1040.8 64.8 1041.1 64.6 1041.3 64.4 1041.6 64.2 1041.9 64 1042.1 63.8 1042.4 63.6 1042.7 63.4 1042.9 63.2 1043.2 63 1043.5 62.8 1043.7 62.6 1044 62.4 1044.2 62.2 1044.5 62 1044.8 61.8 1045 61.6 1045.3 61.4 1045.6 61.2 1045.8 61 1046.1 60.8 1046.4 60.6 1046.6 60.4 1046.9 60.2 1047.2 60 1047.4 59.8 1047.7 59.6 1048 59.4 1048.2 59.2 1048.5 59 1048.8 58.8 1049 58.6 1049.3 58.4 1049.6 58.2 1049.8 58 1050.1 57.8 1050.4 57.6 1050.6 57.4 1050.9 57.2 1051.2 57 1051.4 56.8 1051.7 56.6 1052 56.4 1052.2 56.2 1052.5 56 1052.8 55.8 1053 55.6 1053.3 55.4 1053.6 55.2 1053.8 55 1054.1 54.8 1054.4 54.6 1054.6 54.4 1054.9 54.2 1055.2 54 1055.4 53.8 1055.7 53.6 1056 53.4 1056.2 53.2 1056.5 53 1056.7 52.8 1057 52.6 1057.3 52.4 1057.5 52.2 1057.8 52 1058.1 51.8 1058.3 51.6 1058.6 51.4 1058.9 51.2 1059.1 51 1059.4 50.8 1059.7 50.6 1059.9 50.4 1060.2 50.2 1060.5 50 1060.7 49.8 1061 49.6 1061.3 49.4 1061.5 49.2 1061.8 49 1062.1 48.8 1062.3 48.6 1062.6 48.4 1062.9 48.2 1063.1 48 1063.4 47.8 1063.7 47.6 1063.9 47.4 1064.2 47.2 1064.5 47 1064.7 46.8 1065 46.6 1065.3 46.4 1065.5 46.2 1065.8 46 1066.1 45.8 1066.3 45.6 1066.6 45.4 1066.9 45.2 1067.1 45 1067.4 44.8 1067.7 44.6 1067.9 44.4 1068.2 44.2 1068.5 44 1068.7 43.8 1069 43.6 1069.2 43.4 1069.5 43.2 1069.8 43 1070 42.8 1070.3 42.6 1070.6 42.4 1070.8 42.2 1071.1 42 1071.4 41.8 1071.6 41.6 1071.9 41.4 1072.2 41.2 1072.4 41 1072.7 40.8 1073 40.6 1073.2 40.4 1073.5 40.2 1073.8 40 1074 39.8 1074.3 39.6 1074.6 39.4 1074.8 39.2 1075.1 39 1075.4 38.8 1075.6 38.6 1075.9 38.4 1076.2 38.2 1076.4 38 1076.7 37.8 1077 37.6 1077.2 37.4 1077.5 37.2 1077.8 37 1078 36.8 1078.3 36.6 1078.6 36.4 1078.8 36.2 1079.1 36 1079.4 35.8 1079.6 35.6 1079.9 35.4 1080.2 35.2 1080.4 35 1080.7 34.8 1080.9 34.6 1081.2 34.4 1081.5 34.2 1081.7 34 1082 33.8 1082.3 33.6 1082.5 33.4 1082.8 33.2 1083.1 33 1083.3 32.8 1083.6 32.6 1083.9 32.4 1084.1 32.2 1084.4 32 1084.7 31.8 1084.9 31.6 1085.2 31.4 1085.5 31.2 1085.7 31 1086 30.8 1086.3 30.6 1086.5 30.4 1086.8 30.2 1087.1 30 1087.3 29.8 1087.6 29.6 1087.9 29.4 1088.1 29.2 1088.4 29 1088.7 28.8 1088.9 28.6 1089.2 28.4 1089.5 28.2 1089.7 28 1090 27.8 1090.3 27.6 1090.5 27.4 1090.8 27.2 1091.1 27 1091.3 26.8 1091.6 26.6 1091.9 26.4 1092.1 26.2 1092.4 26 1092.7 25.8 1092.9 25.6 1093.2 25.4 1093.4 25.2 1093.7 25 1094 24.8 1094.2 24.6 1094.5 24.4 1094.8 24.2 1095 24 1095.3 23.8 1095.6 23.6 1095.8 23.4 1096.1 23.2 1096.4 23 1096.6 22.8 1096.9 22.6 1097.2 22.4 1097.4 22.2 1097.7 22 1098 21.8 1098.2 21.6 1098.5 21.4 1098.8 21.2 1099 21 1099.3" stroke="#f30000" stroke-width="4.7"/><path d="M419 582.5 418 582.6 417 582.8 415.9 582.9 414.7 583 413.5 583.2 412.3 583.3 411 583.4 409.6 583.5" stroke="#e50000" stroke-width="3.1"/><path d="M359.5 585.1 358.2 585.2 357.1 585.3 356 585.4 354.9 585.6 354 585.7M351.1 589.1 351.6 589.5 352.3 589.9 353.1 590.3M515 631.5 515.5 631.8M514 633.1 512.9 633.2 511.4 633.3M176.3 602.5 175.1 602.6 174.2 602.8M174.1 603.9 174.9 604.3M578.3 684.6 578.9 684.9M577 685.9 575.5 685.9" stroke="#e50000" stroke-width="3.4"/><path d="M199.9 649.5 198.8 649.7M197.7 651 198.3 651.4 199.1 651.8M391.7 700.3 392.4 700.7 392.9 701.1 393.3 701.4M388.7 704.9 387.7 705 386.6 705.2 385.4 705.3 384.1 705.4 382.8 705.5M308.3 706.8 307 706.9 305.7 707 304.5 707.1 303.3 707.3 302.2 707.4 301.2 707.5 300.2 707.7 299.2 707.9" stroke="#e50000" stroke-width="3.7"/><path d="M409.6 583.5 408.2 583.6 406.7 583.6 405.2 583.7 403.6 583.8 402 583.8 400.4 583.9 398.7 583.9 397 584 395.2 584 393.5 584.1 391.7 584.1 389.9 584.1" stroke="#d80000" stroke-width="3.1"/><path d="M389.9 584.1 388 584.2 386.2 584.2 384.4 584.2 382.5 584.3 380.7 584.3 378.9 584.3 377.1 584.4 375.3 584.4 373.5 584.4 371.8 584.5 370.1 584.5 368.4 584.6 366.8 584.6 365.2 584.7 363.7 584.8 362.2 584.9 360.8 585 359.5 585.1M353.1 590.3 354.1 590.8 355.1 591.2M514.3 631.1 515 631.5M511.4 633.3 509.6 633.3M177.8 602.4 176.3 602.5M174.9 604.3 176 604.8M575.5 685.9 573.7 686" stroke="#d80000" stroke-width="3.4"/><path d="M202.9 649.4 201.2 649.4 199.9 649.5M199.1 651.8 200.1 652.2M389.2 699.1 390.1 699.5 391 699.9 391.7 700.3M382.8 705.5 381.4 705.6 379.9 705.7 378.3 705.7 376.7 705.8 375.1 705.9 373.3 705.9 371.6 705.9 369.7 706 367.9 706M326 706.1 324.2 706.2 322.4 706.2 320.6 706.2 318.9 706.3 317.3 706.3 315.6 706.4 314.1 706.5 312.5 706.5 311.1 706.6 309.6 706.7 308.3 706.8" stroke="#d80000" stroke-width="3.7"/><path d="M355.1 591.2 356.3 591.7 357.6 592.2 359 592.6M512 630.1 513.3 630.6 514.3 631.1M509.6 633.3 507.6 633.3 505.2 633.3M181.9 602.4 179.7 602.4 177.8 602.4M176 604.8 177.4 605.3M577.4 684.1 578.3 684.6M573.7 686 571.4 685.9 568.7 685.8" stroke="#ca0000" stroke-width="3.4"/><path d="M207.2 649.4 204.9 649.4 202.9 649.4M200.1 652.2 201.4 652.7 202.9 653.2M384.3 697.2 385.7 697.7 386.9 698.1 388.1 698.6 389.2 699.1M367.9 706 366 706 364.1 706 362.1 706 360.1 706.1 358.1 706.1 356.1 706.1 354 706.1 352 706.1 349.9 706.1 347.8 706 345.8 706 343.7 706 341.7 706 339.6 706 337.6 706 335.6 706 333.6 706.1 331.7 706.1 329.8 706.1 327.9 706.1 326 706.1" stroke="#ca0000" stroke-width="3.7"/><path d="M359 592.6 360.5 593.2 362.1 593.7 363.9 594.3 365.8 594.8M508.9 629.1 510.6 629.6 512 630.1M505.2 633.3 502.5 633.2 499.5 633.1 496.2 632.9 492.6 632.6 488.7 632.4M194 603 190.5 602.8 187.3 602.6 184.4 602.5 181.9 602.4M177.4 605.3 179.1 605.8 181.1 606.4M574.5 683.1 576.1 683.7 577.4 684.1M568.7 685.8 565.6 685.7 562.1 685.5 558.1 685.2" stroke="#bc0000" stroke-width="3.4"/><path d="M219.7 650 216.1 649.8 212.8 649.6 209.9 649.5 207.2 649.4M202.9 653.2 204.5 653.7 206.4 654.3M377.7 695 379.5 695.6 381.2 696.1 382.8 696.7 384.3 697.2" stroke="#bc0000" stroke-width="3.7"/><path d="M365.8 594.8 367.8 595.4 369.9 596 372.2 596.6 374.5 597.3 377 597.9 379.5 598.6 382.2 599.3M497.7 626 500.3 626.7 502.7 627.3 504.9 627.9 507 628.5 508.9 629.1M488.7 632.4 484.4 632.1 479.9 631.7 475.1 631.3 470 630.9 464.7 630.4 459.1 629.9 453.2 629.3 447.1 628.7 440.7 628.1 434.1 627.4 427.3 626.7 420.3 626 413.2 625.3 405.9 624.5 398.4 623.7 390.8 622.9 383.1 622.1 375.3 621.3 367.4 620.4 359.4 619.6 351.5 618.7 343.4 617.8 335.4 617 327.4 616.1 319.5 615.2 311.6 614.4 303.8 613.6 296 612.7 288.4 611.9 280.9 611.1 273.5 610.4 266.3 609.6 259.3 608.9 252.5 608.2 245.9 607.5 239.5 606.9 233.3 606.3 227.4 605.7 221.8 605.2 216.4 604.7 211.3 604.3 206.5 603.9 202.1 603.5 197.9 603.2 194 603M181.1 606.4 183.4 607 186 607.7M570.1 681.9 572.4 682.5 574.5 683.1M558.1 685.2 553.9 684.9 549.2 684.5 544.1 684 538.7 683.6 533 683 526.9 682.4 520.4 681.8 513.7 681.1 506.7 680.4 499.4 679.6 491.8 678.8" stroke="#ae0000" stroke-width="3.4"/><path d="M491.8 678.8 484 678 476 677.1 467.8 676.2 459.4 675.3 450.9 674.4 442.2 673.4 433.4 672.4 424.5 671.4 415.6 670.4 406.5 669.4 397.5 668.4 388.5 667.4 379.5 666.4 370.5 665.4 361.6 664.4 352.8 663.4 344 662.4 335.5 661.5 327 660.6 318.7 659.7 310.6 658.8 302.7 657.9 295 657.1 287.5 656.3 280.3 655.6 273.3 654.9 266.6 654.2 260.2 653.5 254.1 653 248.2 652.4 242.7 651.9 237.4 651.4 232.5 651 227.9 650.6 223.7 650.3 219.7 650M206.4 654.3 208.5 654.9 210.7 655.5 213.1 656.2 215.6 656.8 218.3 657.5M359.7 690.1 362.3 690.7 364.8 691.4 367.2 692 369.5 692.7 371.7 693.3 373.8 693.9 375.8 694.5 377.7 695" stroke="#ae0000" stroke-width="3.7"/><path d="M382.2 599.3 385 600 387.8 600.7 390.8 601.4 393.8 602.1 397 602.9 400.2 603.6 403.5 604.4 406.8 605.2 410.2 606 413.7 606.8 417.3 607.6 420.9 608.4 424.5 609.2 428.2 610 431.9 610.9 435.7 611.7 439.4 612.6 443.2 613.4 446.9 614.2 450.7 615.1 454.4 615.9 458.2 616.7 461.8 617.6 465.5 618.4 469.1 619.2 472.6 620 476.1 620.8 479.5 621.6 482.8 622.4 486 623.1 489.1 623.9 492.1 624.6 495 625.3 497.7 626M186 607.7 188.9 608.4 192.1 609.2 195.5 610 199.2 610.8 203.2 611.7 207.4 612.6M553.2 678 557.2 678.9 560.9 679.7 564.3 680.5 567.4 681.2 570.1 681.9" stroke="#a10000" stroke-width="3.4"/><path d="M218.3 657.5 221.1 658.2 224.1 658.9 227.1 659.7 230.3 660.4 233.6 661.2 236.9 662 240.4 662.8 243.9 663.6 247.5 664.4 251.1 665.2 254.8 666 258.5 666.9 262.3 667.7 266.1 668.6 269.9 669.4 273.7 670.3 277.6 671.1 281.4 672 285.3 672.8 289.1 673.7 292.9 674.5 296.7 675.4 300.5 676.2 304.3 677 308 677.9 311.7 678.7 315.3 679.5 318.9 680.3 322.5 681.1 325.9 681.9 329.4 682.7 332.7 683.5 336 684.3 339.3 685 342.4 685.8 345.5 686.5 348.5 687.3 351.4 688 354.3 688.7 357 689.4 359.7 690.1" stroke="#a10000" stroke-width="3.7"/><path d="M207.4 612.6 211.9 613.5 216.6 614.5 221.5 615.5 226.7 616.6 232.1 617.6 237.7 618.7 243.5 619.9 249.5 621 255.6 622.2 262 623.4 268.5 624.7 275.2 625.9 282 627.2 289 628.5 296 629.8 303.3 631.2 310.6 632.5 318 633.9 325.5 635.3 333.1 636.7 340.8 638.1 348.5 639.5 356.3 640.9 364.1 642.3 371.9 643.8 379.8 645.2 387.7 646.6 395.5 648.1 403.4 649.5 411.2 650.9 419 652.4 426.8 653.8 434.4 655.2 442 656.6 449.6 658 457 659.3 464.3 660.7 471.5 662 478.6 663.3 485.5 664.6 492.3 665.9 498.9 667.2 505.3 668.4 511.6 669.6 517.6 670.8 523.5 671.9 529 673 534.4 674.1 539.5 675.1 544.4 676.1 548.9 677.1 553.2 678" stroke="#930000" stroke-width="3.4"/><path d="M500.7 461.3 500.3 461.8 499.9 462.4 499.5 462.9 499.1 463.4 498.7 464 498.3 464.5 497.9 465 497.5 465.6 497.1 466.1 496.7 466.6 496.3 467.2 495.9 467.7 495.5 468.2 495.1 468.7 494.7 469.3 494.3 469.8 493.9 470.3 493.5 470.9 493.1 471.4 492.7 471.9 492.3 472.5 491.9 473 491.5 473.5 491.1 474.1 490.7 474.6 490.3 475.1 489.9 475.7 489.5 476.2 489.1 476.7 488.7 477.3 488.3 477.8 487.9 478.3 487.5 478.9 487.1 479.4 486.7 479.9 486.3 480.4 485.9 481 485.5 481.5 485.1 482 484.7 482.6 484.3 483.1 483.9 483.6 483.5 484.2 483.1 484.7 482.7 485.2 482.3 485.8 481.9 486.3 481.5 486.8 481.1 487.4 480.7 487.9 480.3 488.4 479.9 489 479.5 489.5 479.1 490 478.7 490.6 478.3 491.1 477.9 491.6 477.5 492.1 477.1 492.7 476.7 493.2 476.3 493.7 475.9 494.3 475.5 494.8 475.1 495.3 474.7 495.9 474.3 496.4 473.9 496.9 473.5 497.5 473.1 498 472.7 498.5 472.3 499.1 471.9 499.6 471.5 500.1 471.1 500.7 470.7 501.2 470.3 501.7 469.9 502.3 469.5 502.8 469.1 503.3 468.7 503.9 468.3 504.4 467.9 504.9 467.5 505.4 467.1 506 466.7 506.5 466.3 507 465.9 507.6 465.5 508.1 465.1 508.6 464.7 509.2 464.3 509.7 463.9 510.2 463.5 510.8 463.1 511.3 462.7 511.8 462.3 512.4 461.9 512.9 461.5 513.4 461.1 514 460.7 514.5 460.3 515 459.9 515.6 459.5 516.1 459.1 516.6 458.7 517.1 458.3 517.7 457.9 518.2 457.5 518.7 457.1 519.3 456.7 519.8 456.3 520.3 455.9 520.9 455.5 521.4 455.1 521.9 454.7 522.5 454.3 523 453.9 523.5 453.5 524.1 453.1 524.6 452.7 525.1 452.3 525.7 451.9 526.2 451.5 526.7 451.1 527.3 450.7 527.8 450.3 528.3 449.9 528.9 449.5 529.4 449.1 529.9 448.7 530.5 448.4 531 448 531.5 447.6 532 447.2 532.6 446.8 533.1 446.4 533.6 446 534.2 445.6 534.7 445.2 535.2 444.8 535.8 444.4 536.3 444 536.8 443.6 537.4 443.2 537.9 442.8 538.4 442.4 539 442 539.5 441.6 540 441.2 540.6 440.8 541.1 440.4 541.6 439.9 542.2 439.5 542.7 439.1 543.2 438.6 543.7 438.1 544.3 437.7 544.8 437.2 545.3 436.7 545.8 436.2 546.3 435.7 546.8 435.2 547.4 434.7 547.9 434.2 548.4 433.6 548.9 433.1 549.4 432.6 549.9 432 550.4 431.5 551 430.9 551.5 430.4 552 429.9 552.5 429.4 553 428.9 553.5 428.4 554 427.9 554.6 427.4 555.1 427 555.6 426.5 556.1 426.1 556.7 425.7 557.2 425.3 557.7 424.9 558.3 424.6 558.8 424.2 559.3 423.9 559.9 423.7 560.4 423.4 561 423.2 561.6 423.1 562.1 423 562.7 422.9 563.3 422.8 563.9 422.8 564.4 422.8 565 422.9 565.6 423 566.2 423.2 566.9 423.4 567.5 423.6 568.1 423.8 568.7 424.1 569.4 424.5 570 424.8 570.6 425.2 571.3 425.6 571.9 425.9 572.6 426.3 573.2 426.7 573.9 427 574.5 427.4 575.1 427.6 575.8 427.8 576.4 428 577 428 577.6 427.9 578.2 427.7 578.7 427.4 579.3 426.9 579.8 426.3 580.3 425.4 580.7 424.4 581.2 423.1 581.6 421.7 582 420 582.3 418 582.6 415.9 582.9 413.5 583.2 411 583.4 408.2 583.6 405.2 583.7 402 583.8 398.7 583.9 395.2 584 391.7 584.1 388 584.2 384.4 584.2 380.7 584.3 377.1 584.4 373.5 584.4 370.1 584.5 366.8 584.6 363.7 584.8 360.8 585 358.2 585.2 356 585.4 354 585.7 352.4 586.1 351.2 586.5 350.4 587 350 587.5 350.1 588.1 350.6 588.8 351.6 589.5 353.1 590.3 355.1 591.2 357.6 592.2 360.5 593.2 363.9 594.3 367.8 595.4 372.2 596.6 377 597.9 382.2 599.3 387.8 600.7 393.8 602.1 400.2 603.6 406.8 605.2 413.7 606.8 420.9 608.4 428.2 610 435.7 611.7 443.2 613.4 450.7 615.1 458.2 616.7 465.5 618.4 472.6 620 479.5 621.6 486 623.1 492.1 624.6 497.7 626 502.7 627.3 507 628.5 510.6 629.6 513.3 630.6 515 631.5 515.8 632.2 515.5 632.7 514 633.1 511.4 633.3 507.6 633.3 502.5 633.2 496.2 632.9 488.7 632.4 479.9 631.7 470 630.9 459.1 629.9 447.1 628.7 434.1 627.4 420.3 626 405.9 624.5 390.8 622.9 375.3 621.3 359.4 619.6 343.4 617.8 327.4 616.1 311.6 614.4 296 612.7 280.9 611.1 266.3 609.6 252.5 608.2 239.5 606.9 227.4 605.7 216.4 604.7 206.5 603.9 197.9 603.2 190.5 602.8 184.4 602.5 179.7 602.4 176.3 602.5 174.2 602.8 173.5 603.2 174.1 603.9 176 604.8 179.1 605.8 183.4 607 188.9 608.4 195.5 610 203.2 611.7 211.9 613.5 221.5 615.5 232.1 617.6 243.5 619.9 255.6 622.2 268.5 624.7 282 627.2 296 629.8 310.6 632.5 325.5 635.3 340.8 638.1 356.3 640.9 371.9 643.8 387.7 646.6 403.4 649.5 419 652.4 434.4 655.2 449.6 658 464.3 660.7 478.6 663.3 492.3 665.9 505.3 668.4 517.6 670.8 529 673 539.5 675.1 548.9 677.1 557.2 678.9 564.3 680.5 570.1 681.9 574.5 683.1 577.4 684.1 578.9 684.9 578.7 685.5 577 685.9 573.7 686 568.7 685.8 562.1 685.5 553.9 684.9 544.1 684 533 683 520.4 681.8 506.7 680.4 491.8 678.8 476 677.1 459.4 675.3 442.2 673.4 424.5 671.4 406.5 669.4 388.5 667.4 370.5 665.4 352.8 663.4 335.5 661.5 318.7 659.7 302.7 657.9 287.5 656.3 273.3 654.9 260.2 653.5 248.2 652.4 237.4 651.4 227.9 650.6 219.7 650 212.8 649.6 207.2 649.4 202.9 649.4 199.9 649.5 198 649.9 197.3 650.3 197.7 651 199.1 651.8 201.4 652.7 204.5 653.7 208.5 654.9 213.1 656.2 218.3 657.5 224.1 658.9 230.3 660.4 236.9 662 243.9 663.6 251.1 665.2 258.5 666.9 266.1 668.6 273.7 670.3 281.4 672 289.1 673.7 296.7 675.4 304.3 677 311.7 678.7 318.9 680.3 325.9 681.9 332.7 683.5 339.3 685 345.5 686.5 351.4 688 357 689.4 362.3 690.7 367.2 692 371.7 693.3 375.8 694.5 379.5 695.6 382.8 696.7 385.7 697.7 388.1 698.6 390.1 699.5 391.7 700.3 392.9 701.1 393.6 701.8 394 702.4 393.9 703 393.4 703.5 392.5 704 391.3 704.4 389.7 704.7 387.7 705 385.4 705.3 382.8 705.5 379.9 705.7 376.7 705.8 373.3 705.9 369.7 706 366 706 362.1 706 358.1 706.1 354 706.1 349.9 706.1 345.8 706 341.7 706 337.6 706 333.6 706.1 329.8 706.1 326 706.1 322.4 706.2 318.9 706.3 315.6 706.4 312.5 706.5 309.6 706.7 307 706.9 304.5 707.1 302.2 707.4 300.2 707.7 298.3 708 296.7 708.4 295.3 708.8 294.1 709.2 293.1 709.6 292.2 710.1 291.5 710.6 291 711.1 290.6 711.6 290.4 712.2 290.3 712.8 290.3 713.3 290.4 714 290.6 714.6 290.9 715.2 291.2 715.8 291.6 716.5 292 717.1 292.5 717.8 292.9 718.4 293.4 719.1 293.9 719.8 294.4 720.4 295 721.1 295.5 721.8 295.9 722.4 296.4 723.1 296.8 723.7 297.3 724.4 297.7 725 298 725.7 298.3 726.3 298.6 726.9 298.9 727.6 299.1 728.2 299.3 728.8 299.5 729.4 299.6 730 299.6 730.6 299.7 731.2 299.7 731.8 299.6 732.4 299.6 733 299.5 733.5 299.3 734.1 299.2 734.7 299 735.2 298.7 735.8 298.5 736.4 298.2 736.9 297.9 737.4 297.5 738 297.2 738.5 296.8 739.1 296.4 739.6 295.9 740.1 295.5 740.6 295 741.2 294.6 741.7 294.1 742.2 293.6 742.7 293.1 743.2 292.5 743.7 292 744.3 291.4 744.8 290.8 745.3 290.3 745.8 289.7 746.3 289.1 746.8 288.5 747.3 287.9 747.8 287.3 748.3 286.7 748.8 286.1 749.3 285.5 749.8 284.9 750.3 284.3 750.8 283.8 751.3 283.2 751.8 282.7 752.3 282.2 752.9 281.6 753.4 281.1 753.9 280.6 754.4 280.1 754.9 279.7 755.5 279.2 756 278.8 756.5 278.3 757 277.9 757.6 277.4 758.1 277 758.6 276.6 759.1 276.2 759.7 275.8 760.2 275.4 760.7 275 761.3 274.6 761.8 274.2 762.3 273.8 762.9 273.4 763.4 273 763.9 272.6 764.5 272.2 765 271.8 765.5 271.4 766.1 271.1 766.6 270.7 767.1 270.3 767.7 269.9 768.2 269.5 768.7 269.1 769.3 268.7 769.8 268.3 770.3 267.9 770.9 267.5 771.4 267.1 771.9 266.7 772.5 266.3 773 265.9 773.5 265.5 774 265.1 774.6 264.7 775.1 264.3 775.6 263.9 776.2 263.5 776.7 263.1 777.2 262.7 777.8 262.3 778.3 261.9 778.8 261.5 779.4 261.1 779.9 260.7 780.4 260.3 781 259.9 781.5 259.6 782 259.2 782.6 258.8 783.1 258.4 783.6 258 784.2 257.6 784.7 257.2 785.2 256.8 785.8 256.4 786.3 256 786.8 255.6 787.3 255.2 787.9 254.8 788.4 254.4 788.9 254 789.5 253.6 790 253.2 790.5 252.8 791.1 252.4 791.6 252 792.1 251.6 792.7 251.2 793.2 250.8 793.7 250.4 794.3 250 794.8 249.6 795.3 249.2 795.9 248.8 796.4 248.4 796.9 248 797.5 247.6 798 247.2 798.5 246.8 799 246.4 799.6 246 800.1 245.6 800.6 245.2 801.2 244.8 801.7 244.4 802.2 244 802.8 243.6 803.3 243.2 803.8 242.8 804.4 242.4 804.9 242 805.4 241.6 806 241.2 806.5 240.8 807 240.4 807.6 240 808.1 239.6 808.6 239.2 809.2 238.8 809.7 238.4 810.2 238 810.8 237.6 811.3 237.2 811.8 236.8 812.3 236.4 812.9 236 813.4 235.6 813.9 235.2 814.5 234.8 815 234.4 815.5 234 816.1 233.6 816.6 233.2 817.1 232.8 817.7 232.4 818.2 232 818.7 231.6 819.3 231.2 819.8 230.8 820.3 230.4 820.9 230 821.4 229.6 821.9 229.2 822.5 228.8 823 228.4 823.5 228 824 227.6 824.6 227.2 825.1 226.8 825.6 226.4 826.2 226 826.7 225.6 827.2 225.2 827.8 224.8 828.3 224.4 828.8 224 829.4 223.6 829.9 223.2 830.4 222.8 831 222.4 831.5 222 832 221.6 832.6 221.2 833.1 220.8 833.6 220.4 834.2 220 834.7 219.6 835.2 219.2 835.7 218.8 836.3 218.4 836.8 218 837.3 217.6 837.9 217.2 838.4 216.8 838.9 216.4 839.5 216 840 215.6 840.5 215.2 841.1 214.8 841.6 214.4 842.1 214 842.7 213.6 843.2 213.2 843.7 212.8 844.3 212.4 844.8 212 845.3 211.6 845.9 211.2 846.4 210.8 846.9 210.4 847.5 210 848 209.6 848.5 209.2 849 208.8 849.6 208.4 850.1 208 850.6 207.6 851.2 207.2 851.7 206.8 852.2 206.4 852.8 206 853.3 205.6 853.8 205.2 854.4 204.8 854.9 204.4 855.4 204 856 203.6 856.5 203.2 857 202.8 857.6 202.4 858.1 202 858.6 201.6 859.2 201.2 859.7 200.8 860.2 200.4 860.7 200 861.3 199.6 861.8 199.2 862.3 198.8 862.9 198.4 863.4 198 863.9 197.6 864.5 197.2 865 196.8 865.5 196.4 866.1 196 866.6 195.6 867.1 195.2 867.7 194.8 868.2 194.4 868.7 194 869.3 193.6 869.8 193.2 870.3 192.8 870.9 192.4 871.4 192 871.9 191.6 872.4 191.2 873 190.8 873.5 190.4 874 190 874.6 189.6 875.1 189.2 875.6 188.8 876.2 188.4 876.7 188 877.2 187.6 877.8 187.2 878.3 186.8 878.8 186.4 879.4 186 879.9 185.6 880.4 185.2 881 184.8 881.5 184.4 882 184 882.6 183.6 883.1 183.2 883.6 182.8 884.2 182.4 884.7 182 885.2 181.6 885.7 181.2 886.3 180.8 886.8 180.4 887.3 180 887.9 179.6 888.4 179.2 888.9 178.8 889.5 178.4 890 178 890.5 177.6 891.1 177.2 891.6 176.8 892.1 176.4 892.7 176 893.2 175.6 893.7 175.2 894.3 174.8 894.8 174.4 895.3 174 895.9 173.6 896.4 173.2 896.9 172.8 897.4 172.4 898 172 898.5 171.6 899 171.2 899.6 170.8 900.1 170.4 900.6 170 901.2 169.6 901.7 169.2 902.2 168.8 902.8 168.4 903.3 168 903.8 167.6 904.4 167.2 904.9 166.8 905.4 166.4 906 166 906.5 165.6 907 165.2 907.6 164.8 908.1 164.4 908.6 164 909.1 163.6 909.7 163.2 910.2 162.8 910.7 162.4 911.3 162 911.8 161.6 912.3 161.2 912.9 160.8 913.4 160.4 913.9 160 914.5 159.6 915 159.2 915.5 158.8 916.1 158.4 916.6 158 917.1 157.6 917.7 157.2 918.2 156.8 918.7 156.4 919.3 156 919.8 155.6 920.3 155.2 920.9 154.8 921.4 154.4 921.9 154 922.4 153.6 923 153.2 923.5 152.8 924 152.4 924.6 152 925.1 151.6 925.6 151.2 926.2 150.8 926.7 150.4 927.2 150 927.8 149.6 928.3 149.2 928.8 148.8 929.4 148.4 929.9 148 930.4 147.6 931 147.2 931.5 146.8 932 146.4 932.6 146 933.1 145.6 933.6 145.2 934.1 144.8 934.7 144.4 935.2 144 935.7 143.6 936.3 143.2 936.8 142.8 937.3 142.4 937.9 142 938.4 141.6 938.9 141.2 939.5 140.8 940 140.4 940.5 140 941.1 139.6 941.6 139.2 942.1 138.8 942.7 138.4 943.2 138 943.7 137.6 944.3 137.2 944.8 136.8 945.3 136.4 945.9 136 946.4 135.6 946.9 135.2 947.4 134.8 948 134.4 948.5 134 949 133.6 949.6 133.2 950.1 132.8 950.6 132.4 951.2 132 951.7 131.6 952.2 131.2 952.8 130.8 953.3 130.4 953.8 130 954.4 129.6 954.9 129.2 955.4 128.8 956 128.4 956.5 128 957 127.6 957.6 127.2 958.1 126.8 958.6 126.4 959.1 126 959.7 125.6 960.2 125.2 960.7 124.8 961.3 124.4 961.8 124 962.3 123.6 962.9 123.2 963.4 122.8 963.9 122.4 964.5 122 965 121.6 965.5 121.2 966.1 120.8 966.6 120.4 967.1 120 967.7 119.6 968.2 119.2 968.7 118.8 969.3 118.4 969.8 118 970.3 117.6 970.8 117.2 971.4 116.8 971.9 116.4 972.4 116 973 115.6 973.5 115.2 974 114.8 974.6 114.4 975.1 114 975.6 113.6 976.2 113.2 976.7 112.8 977.2 112.4 977.8 112 978.3 111.6 978.8 111.2 979.4 110.8 979.9 110.4 980.4 110 981 109.6 981.5 109.2 982 108.8 982.6 108.4 983.1 108 983.6 107.6 984.1 107.2 984.7 106.8 985.2 106.4 985.7 106 986.3 105.6 986.8 105.2 987.3 104.8 987.9 104.4 988.4 104 988.9 103.6 989.5 103.2 990 102.8 990.5 102.4 991.1 102 991.6 101.6 992.1 101.2 992.7 100.8 993.2 100.4 993.7 100 994.3 99.6 994.8 99.2 995.3 98.8 995.8 98.4 996.4 98 996.9 97.6 997.4 97.2 998 96.8 998.5 96.4 999 96 999.6 95.6 1000.1 95.2 1000.6 94.8 1001.2 94.4 1001.7 94 1002.2 93.6 1002.8 93.2 1003.3 92.8 1003.8 92.4 1004.4 92 1004.9 91.6 1005.4 91.2 1006 90.8 1006.5 90.4 1007 90 1007.5 89.6 1008.1 89.2 1008.6 88.8 1009.1 88.4 1009.7 88 1010.2 87.6 1010.7 87.2 1011.3 86.8 1011.8 86.4 1012.3 86 1012.9 85.6 1013.4 85.2 1013.9 84.8 1014.5 84.4 1015 84 1015.5 83.6 1016.1 83.2 1016.6 82.8 1017.1 82.4 1017.7 82 1018.2 81.6 1018.7 81.2 1019.3 80.8 1019.8 80.4 1020.3 80 1020.8 79.6 1021.4 79.2 1021.9 78.8 1022.4 78.4 1023 78 1023.5 77.6 1024 77.2 1024.6 76.8 1025.1 76.4 1025.6 76 1026.2 75.6 1026.7 75.2 1027.2 74.8 1027.8 74.4 1028.3 74 1028.8 73.6 1029.4 73.2 1029.9 72.8 1030.4 72.4 1031 72 1031.5 71.6 1032 71.2 1032.5 70.8 1033.1 70.4 1033.6 70 1034.1 69.6 1034.7 69.2 1035.2 68.8 1035.7 68.4 1036.3 68 1036.8 67.6 1037.3 67.2 1037.9 66.8 1038.4 66.4 1038.9 66 1039.5 65.6 1040 65.2 1040.5 64.8 1041.1 64.4 1041.6 64 1042.1 63.6 1042.7 63.2 1043.2 62.8 1043.7 62.4 1044.2 62 1044.8 61.6 1045.3 61.2 1045.8 60.8 1046.4 60.4 1046.9 60 1047.4 59.6 1048 59.2 1048.5 58.8 1049 58.4 1049.6 58 1050.1 57.6 1050.6 57.2 1051.2 56.8 1051.7 56.4 1052.2 56 1052.8 55.6 1053.3 55.2 1053.8 54.8 1054.4 54.4 1054.9 54 1055.4 53.6 1056 53.2 1056.5 52.8 1057 52.4 1057.5 52 1058.1 51.6 1058.6 51.2 1059.1 50.8 1059.7 50.4 1060.2 50 1060.7 49.6 1061.3 49.2 1061.8 48.8 1062.3 48.4 1062.9 48 1063.4 47.6 1063.9 47.2 1064.5 46.8 1065 46.4 1065.5 46 1066.1 45.6 1066.6 45.2 1067.1 44.8 1067.7 44.4 1068.2 44 1068.7 43.6 1069.2 43.2 1069.8 42.8 1070.3 42.4 1070.8 42 1071.4 41.6 1071.9 41.2 1072.4 40.8 1073 40.4 1073.5 40 1074 39.6 1074.6 39.2 1075.1 38.8 1075.6 38.4 1076.2 38 1076.7 37.6 1077.2 37.2 1077.8 36.8 1078.3 36.4 1078.8 36 1079.4 35.6 1079.9 35.2 1080.4 34.8 1080.9 34.4 1081.5 34 1082 33.6 1082.5 33.2 1083.1 32.8 1083.6 32.4 1084.1 32 1084.7 31.6 1085.2 31.2 1085.7 30.8 1086.3 30.4 1086.8 30 1087.3 29.6 1087.9 29.2 1088.4 28.8 1088.9 28.4 1089.5 28 1090 27.6 1090.5 27.2 1091.1 26.8 1091.6 26.4 1092.1 26 1092.7 25.6 1093.2 25.2 1093.7 24.8 1094.2 24.4 1094.8 24 1095.3 23.6 1095.8 23.2 1096.4 22.8 1096.9 22.4 1097.4 22 1098 21.6 1098.5 21.2 1099" stroke="#ff2a2a" stroke-opacity="0.22" stroke-width="1.5" transform="translate(0.7,-0.4)"/><path d="M500.7 461.3 500.3 461.8 499.9 462.4 499.5 462.9 499.1 463.4 498.7 464 498.3 464.5 497.9 465 497.5 465.6 497.1 466.1 496.7 466.6 496.3 467.2 495.9 467.7 495.5 468.2 495.1 468.7 494.7 469.3 494.3 469.8 493.9 470.3 493.5 470.9 493.1 471.4 492.7 471.9 492.3 472.5 491.9 473 491.5 473.5 491.1 474.1 490.7 474.6 490.3 475.1 489.9 475.7 489.5 476.2 489.1 476.7 488.7 477.3 488.3 477.8 487.9 478.3 487.5 478.9 487.1 479.4 486.7 479.9 486.3 480.4 485.9 481 485.5 481.5 485.1 482 484.7 482.6 484.3 483.1 483.9 483.6 483.5 484.2 483.1 484.7 482.7 485.2 482.3 485.8 481.9 486.3 481.5 486.8 481.1 487.4 480.7 487.9 480.3 488.4 479.9 489 479.5 489.5 479.1 490 478.7 490.6 478.3 491.1 477.9 491.6 477.5 492.1 477.1 492.7 476.7 493.2 476.3 493.7 475.9 494.3 475.5 494.8 475.1 495.3 474.7 495.9 474.3 496.4 473.9 496.9 473.5 497.5 473.1 498 472.7 498.5 472.3 499.1 471.9 499.6 471.5 500.1 471.1 500.7 470.7 501.2 470.3 501.7 469.9 502.3 469.5 502.8 469.1 503.3 468.7 503.9 468.3 504.4 467.9 504.9 467.5 505.4 467.1 506 466.7 506.5 466.3 507 465.9 507.6 465.5 508.1 465.1 508.6 464.7 509.2 464.3 509.7 463.9 510.2 463.5 510.8 463.1 511.3 462.7 511.8 462.3 512.4 461.9 512.9 461.5 513.4 461.1 514 460.7 514.5 460.3 515 459.9 515.6 459.5 516.1 459.1 516.6 458.7 517.1 458.3 517.7 457.9 518.2 457.5 518.7 457.1 519.3 456.7 519.8 456.3 520.3 455.9 520.9 455.5 521.4 455.1 521.9 454.7 522.5 454.3 523 453.9 523.5 453.5 524.1 453.1 524.6 452.7 525.1 452.3 525.7 451.9 526.2 451.5 526.7 451.1 527.3 450.7 527.8 450.3 528.3 449.9 528.9 449.5 529.4 449.1 529.9 448.7 530.5 448.4 531 448 531.5 447.6 532 447.2 532.6 446.8 533.1 446.4 533.6 446 534.2 445.6 534.7 445.2 535.2 444.8 535.8 444.4 536.3 444 536.8 443.6 537.4 443.2 537.9 442.8 538.4 442.4 539 442 539.5 441.6 540 441.2 540.6 440.8 541.1 440.4 541.6 439.9 542.2 439.5 542.7 439.1 543.2 438.6 543.7 438.1 544.3 437.7 544.8 437.2 545.3 436.7 545.8 436.2 546.3 435.7 546.8 435.2 547.4 434.7 547.9 434.2 548.4 433.6 548.9 433.1 549.4 432.6 549.9 432 550.4 431.5 551 430.9 551.5 430.4 552 429.9 552.5 429.4 553 428.9 553.5 428.4 554 427.9 554.6 427.4 555.1 427 555.6 426.5 556.1 426.1 556.7 425.7 557.2 425.3 557.7 424.9 558.3 424.6 558.8 424.2 559.3 423.9 559.9 423.7 560.4 423.4 561 423.2 561.6 423.1 562.1 423 562.7 422.9 563.3 422.8 563.9 422.8 564.4 422.8 565 422.9 565.6 423 566.2 423.2 566.9 423.4 567.5 423.6 568.1 423.8 568.7 424.1 569.4 424.5 570 424.8 570.6 425.2 571.3 425.6 571.9 425.9 572.6 426.3 573.2 426.7 573.9 427 574.5 427.4 575.1 427.6 575.8 427.8 576.4 428 577 428 577.6 427.9 578.2 427.7 578.7 427.4 579.3 426.9 579.8 426.3 580.3 425.4 580.7 424.4 581.2 423.1 581.6 421.7 582 420 582.3 418 582.6 415.9 582.9 413.5 583.2 411 583.4 408.2 583.6 405.2 583.7 402 583.8 398.7 583.9 395.2 584 391.7 584.1 388 584.2 384.4 584.2 380.7 584.3 377.1 584.4 373.5 584.4 370.1 584.5 366.8 584.6 363.7 584.8 360.8 585 358.2 585.2 356 585.4 354 585.7 352.4 586.1 351.2 586.5 350.4 587 350 587.5 350.1 588.1 350.6 588.8 351.6 589.5 353.1 590.3 355.1 591.2 357.6 592.2 360.5 593.2 363.9 594.3 367.8 595.4 372.2 596.6 377 597.9 382.2 599.3 387.8 600.7 393.8 602.1 400.2 603.6 406.8 605.2 413.7 606.8 420.9 608.4 428.2 610 435.7 611.7 443.2 613.4 450.7 615.1 458.2 616.7 465.5 618.4 472.6 620 479.5 621.6 486 623.1 492.1 624.6 497.7 626 502.7 627.3 507 628.5 510.6 629.6 513.3 630.6 515 631.5 515.8 632.2 515.5 632.7 514 633.1 511.4 633.3 507.6 633.3 502.5 633.2 496.2 632.9 488.7 632.4 479.9 631.7 470 630.9 459.1 629.9 447.1 628.7 434.1 627.4 420.3 626 405.9 624.5 390.8 622.9 375.3 621.3 359.4 619.6 343.4 617.8 327.4 616.1 311.6 614.4 296 612.7 280.9 611.1 266.3 609.6 252.5 608.2 239.5 606.9 227.4 605.7 216.4 604.7 206.5 603.9 197.9 603.2 190.5 602.8 184.4 602.5 179.7 602.4 176.3 602.5 174.2 602.8 173.5 603.2 174.1 603.9 176 604.8 179.1 605.8 183.4 607 188.9 608.4 195.5 610 203.2 611.7 211.9 613.5 221.5 615.5 232.1 617.6 243.5 619.9 255.6 622.2 268.5 624.7 282 627.2 296 629.8 310.6 632.5 325.5 635.3 340.8 638.1 356.3 640.9 371.9 643.8 387.7 646.6 403.4 649.5 419 652.4 434.4 655.2 449.6 658 464.3 660.7 478.6 663.3 492.3 665.9 505.3 668.4 517.6 670.8 529 673 539.5 675.1 548.9 677.1 557.2 678.9 564.3 680.5 570.1 681.9 574.5 683.1 577.4 684.1 578.9 684.9 578.7 685.5 577 685.9 573.7 686 568.7 685.8 562.1 685.5 553.9 684.9 544.1 684 533 683 520.4 681.8 506.7 680.4 491.8 678.8 476 677.1 459.4 675.3 442.2 673.4 424.5 671.4 406.5 669.4 388.5 667.4 370.5 665.4 352.8 663.4 335.5 661.5 318.7 659.7 302.7 657.9 287.5 656.3 273.3 654.9 260.2 653.5 248.2 652.4 237.4 651.4 227.9 650.6 219.7 650 212.8 649.6 207.2 649.4 202.9 649.4 199.9 649.5 198 649.9 197.3 650.3 197.7 651 199.1 651.8 201.4 652.7 204.5 653.7 208.5 654.9 213.1 656.2 218.3 657.5 224.1 658.9 230.3 660.4 236.9 662 243.9 663.6 251.1 665.2 258.5 666.9 266.1 668.6 273.7 670.3 281.4 672 289.1 673.7 296.7 675.4 304.3 677 311.7 678.7 318.9 680.3 325.9 681.9 332.7 683.5 339.3 685 345.5 686.5 351.4 688 357 689.4 362.3 690.7 367.2 692 371.7 693.3 375.8 694.5 379.5 695.6 382.8 696.7 385.7 697.7 388.1 698.6 390.1 699.5 391.7 700.3 392.9 701.1 393.6 701.8 394 702.4 393.9 703 393.4 703.5 392.5 704 391.3 704.4 389.7 704.7 387.7 705 385.4 705.3 382.8 705.5 379.9 705.7 376.7 705.8 373.3 705.9 369.7 706 366 706 362.1 706 358.1 706.1 354 706.1 349.9 706.1 345.8 706 341.7 706 337.6 706 333.6 706.1 329.8 706.1 326 706.1 322.4 706.2 318.9 706.3 315.6 706.4 312.5 706.5 309.6 706.7 307 706.9 304.5 707.1 302.2 707.4 300.2 707.7 298.3 708 296.7 708.4 295.3 708.8 294.1 709.2 293.1 709.6 292.2 710.1 291.5 710.6 291 711.1 290.6 711.6 290.4 712.2 290.3 712.8 290.3 713.3 290.4 714 290.6 714.6 290.9 715.2 291.2 715.8 291.6 716.5 292 717.1 292.5 717.8 292.9 718.4 293.4 719.1 293.9 719.8 294.4 720.4 295 721.1 295.5 721.8 295.9 722.4 296.4 723.1 296.8 723.7 297.3 724.4 297.7 725 298 725.7 298.3 726.3 298.6 726.9 298.9 727.6 299.1 728.2 299.3 728.8 299.5 729.4 299.6 730 299.6 730.6 299.7 731.2 299.7 731.8 299.6 732.4 299.6 733 299.5 733.5 299.3 734.1 299.2 734.7 299 735.2 298.7 735.8 298.5 736.4 298.2 736.9 297.9 737.4 297.5 738 297.2 738.5 296.8 739.1 296.4 739.6 295.9 740.1 295.5 740.6 295 741.2 294.6 741.7 294.1 742.2 293.6 742.7 293.1 743.2 292.5 743.7 292 744.3 291.4 744.8 290.8 745.3 290.3 745.8 289.7 746.3 289.1 746.8 288.5 747.3 287.9 747.8 287.3 748.3 286.7 748.8 286.1 749.3 285.5 749.8 284.9 750.3 284.3 750.8 283.8 751.3 283.2 751.8 282.7 752.3 282.2 752.9 281.6 753.4 281.1 753.9 280.6 754.4 280.1 754.9 279.7 755.5 279.2 756 278.8 756.5 278.3 757 277.9 757.6 277.4 758.1 277 758.6 276.6 759.1 276.2 759.7 275.8 760.2 275.4 760.7 275 761.3 274.6 761.8 274.2 762.3 273.8 762.9 273.4 763.4 273 763.9 272.6 764.5 272.2 765 271.8 765.5 271.4 766.1 271.1 766.6 270.7 767.1 270.3 767.7 269.9 768.2 269.5 768.7 269.1 769.3 268.7 769.8 268.3 770.3 267.9 770.9 267.5 771.4 267.1 771.9 266.7 772.5 266.3 773 265.9 773.5 265.5 774 265.1 774.6 264.7 775.1 264.3 775.6 263.9 776.2 263.5 776.7 263.1 777.2 262.7 777.8 262.3 778.3 261.9 778.8 261.5 779.4 261.1 779.9 260.7 780.4 260.3 781 259.9 781.5 259.6 782 259.2 782.6 258.8 783.1 258.4 783.6 258 784.2 257.6 784.7 257.2 785.2 256.8 785.8 256.4 786.3 256 786.8 255.6 787.3 255.2 787.9 254.8 788.4 254.4 788.9 254 789.5 253.6 790 253.2 790.5 252.8 791.1 252.4 791.6 252 792.1 251.6 792.7 251.2 793.2 250.8 793.7 250.4 794.3 250 794.8 249.6 795.3 249.2 795.9 248.8 796.4 248.4 796.9 248 797.5 247.6 798 247.2 798.5 246.8 799 246.4 799.6 246 800.1 245.6 800.6 245.2 801.2 244.8 801.7 244.4 802.2 244 802.8 243.6 803.3 243.2 803.8 242.8 804.4 242.4 804.9 242 805.4 241.6 806 241.2 806.5 240.8 807 240.4 807.6 240 808.1 239.6 808.6 239.2 809.2 238.8 809.7 238.4 810.2 238 810.8 237.6 811.3 237.2 811.8 236.8 812.3 236.4 812.9 236 813.4 235.6 813.9 235.2 814.5 234.8 815 234.4 815.5 234 816.1 233.6 816.6 233.2 817.1 232.8 817.7 232.4 818.2 232 818.7 231.6 819.3 231.2 819.8 230.8 820.3 230.4 820.9 230 821.4 229.6 821.9 229.2 822.5 228.8 823 228.4 823.5 228 824 227.6 824.6 227.2 825.1 226.8 825.6 226.4 826.2 226 826.7 225.6 827.2 225.2 827.8 224.8 828.3 224.4 828.8 224 829.4 223.6 829.9 223.2 830.4 222.8 831 222.4 831.5 222 832 221.6 832.6 221.2 833.1 220.8 833.6 220.4 834.2 220 834.7 219.6 835.2 219.2 835.7 218.8 836.3 218.4 836.8 218 837.3 217.6 837.9 217.2 838.4 216.8 838.9 216.4 839.5 216 840 215.6 840.5 215.2 841.1 214.8 841.6 214.4 842.1 214 842.7 213.6 843.2 213.2 843.7 212.8 844.3 212.4 844.8 212 845.3 211.6 845.9 211.2 846.4 210.8 846.9 210.4 847.5 210 848 209.6 848.5 209.2 849 208.8 849.6 208.4 850.1 208 850.6 207.6 851.2 207.2 851.7 206.8 852.2 206.4 852.8 206 853.3 205.6 853.8 205.2 854.4 204.8 854.9 204.4 855.4 204 856 203.6 856.5 203.2 857 202.8 857.6 202.4 858.1 202 858.6 201.6 859.2 201.2 859.7 200.8 860.2 200.4 860.7 200 861.3 199.6 861.8 199.2 862.3 198.8 862.9 198.4 863.4 198 863.9 197.6 864.5 197.2 865 196.8 865.5 196.4 866.1 196 866.6 195.6 867.1 195.2 867.7 194.8 868.2 194.4 868.7 194 869.3 193.6 869.8 193.2 870.3 192.8 870.9 192.4 871.4 192 871.9 191.6 872.4 191.2 873 190.8 873.5 190.4 874 190 874.6 189.6 875.1 189.2 875.6 188.8 876.2 188.4 876.7 188 877.2 187.6 877.8 187.2 878.3 186.8 878.8 186.4 879.4 186 879.9 185.6 880.4 185.2 881 184.8 881.5 184.4 882 184 882.6 183.6 883.1 183.2 883.6 182.8 884.2 182.4 884.7 182 885.2 181.6 885.7 181.2 886.3 180.8 886.8 180.4 887.3 180 887.9 179.6 888.4 179.2 888.9 178.8 889.5 178.4 890 178 890.5 177.6 891.1 177.2 891.6 176.8 892.1 176.4 892.7 176 893.2 175.6 893.7 175.2 894.3 174.8 894.8 174.4 895.3 174 895.9 173.6 896.4 173.2 896.9 172.8 897.4 172.4 898 172 898.5 171.6 899 171.2 899.6 170.8 900.1 170.4 900.6 170 901.2 169.6 901.7 169.2 902.2 168.8 902.8 168.4 903.3 168 903.8 167.6 904.4 167.2 904.9 166.8 905.4 166.4 906 166 906.5 165.6 907 165.2 907.6 164.8 908.1 164.4 908.6 164 909.1 163.6 909.7 163.2 910.2 162.8 910.7 162.4 911.3 162 911.8 161.6 912.3 161.2 912.9 160.8 913.4 160.4 913.9 160 914.5 159.6 915 159.2 915.5 158.8 916.1 158.4 916.6 158 917.1 157.6 917.7 157.2 918.2 156.8 918.7 156.4 919.3 156 919.8 155.6 920.3 155.2 920.9 154.8 921.4 154.4 921.9 154 922.4 153.6 923 153.2 923.5 152.8 924 152.4 924.6 152 925.1 151.6 925.6 151.2 926.2 150.8 926.7 150.4 927.2 150 927.8 149.6 928.3 149.2 928.8 148.8 929.4 148.4 929.9 148 930.4 147.6 931 147.2 931.5 146.8 932 146.4 932.6 146 933.1 145.6 933.6 145.2 934.1 144.8 934.7 144.4 935.2 144 935.7 143.6 936.3 143.2 936.8 142.8 937.3 142.4 937.9 142 938.4 141.6 938.9 141.2 939.5 140.8 940 140.4 940.5 140 941.1 139.6 941.6 139.2 942.1 138.8 942.7 138.4 943.2 138 943.7 137.6 944.3 137.2 944.8 136.8 945.3 136.4 945.9 136 946.4 135.6 946.9 135.2 947.4 134.8 948 134.4 948.5 134 949 133.6 949.6 133.2 950.1 132.8 950.6 132.4 951.2 132 951.7 131.6 952.2 131.2 952.8 130.8 953.3 130.4 953.8 130 954.4 129.6 954.9 129.2 955.4 128.8 956 128.4 956.5 128 957 127.6 957.6 127.2 958.1 126.8 958.6 126.4 959.1 126 959.7 125.6 960.2 125.2 960.7 124.8 961.3 124.4 961.8 124 962.3 123.6 962.9 123.2 963.4 122.8 963.9 122.4 964.5 122 965 121.6 965.5 121.2 966.1 120.8 966.6 120.4 967.1 120 967.7 119.6 968.2 119.2 968.7 118.8 969.3 118.4 969.8 118 970.3 117.6 970.8 117.2 971.4 116.8 971.9 116.4 972.4 116 973 115.6 973.5 115.2 974 114.8 974.6 114.4 975.1 114 975.6 113.6 976.2 113.2 976.7 112.8 977.2 112.4 977.8 112 978.3 111.6 978.8 111.2 979.4 110.8 979.9 110.4 980.4 110 981 109.6 981.5 109.2 982 108.8 982.6 108.4 983.1 108 983.6 107.6 984.1 107.2 984.7 106.8 985.2 106.4 985.7 106 986.3 105.6 986.8 105.2 987.3 104.8 987.9 104.4 988.4 104 988.9 103.6 989.5 103.2 990 102.8 990.5 102.4 991.1 102 991.6 101.6 992.1 101.2 992.7 100.8 993.2 100.4 993.7 100 994.3 99.6 994.8 99.2 995.3 98.8 995.8 98.4 996.4 98 996.9 97.6 997.4 97.2 998 96.8 998.5 96.4 999 96 999.6 95.6 1000.1 95.2 1000.6 94.8 1001.2 94.4 1001.7 94 1002.2 93.6 1002.8 93.2 1003.3 92.8 1003.8 92.4 1004.4 92 1004.9 91.6 1005.4 91.2 1006 90.8 1006.5 90.4 1007 90 1007.5 89.6 1008.1 89.2 1008.6 88.8 1009.1 88.4 1009.7 88 1010.2 87.6 1010.7 87.2 1011.3 86.8 1011.8 86.4 1012.3 86 1012.9 85.6 1013.4 85.2 1013.9 84.8 1014.5 84.4 1015 84 1015.5 83.6 1016.1 83.2 1016.6 82.8 1017.1 82.4 1017.7 82 1018.2 81.6 1018.7 81.2 1019.3 80.8 1019.8 80.4 1020.3 80 1020.8 79.6 1021.4 79.2 1021.9 78.8 1022.4 78.4 1023 78 1023.5 77.6 1024 77.2 1024.6 76.8 1025.1 76.4 1025.6 76 1026.2 75.6 1026.7 75.2 1027.2 74.8 1027.8 74.4 1028.3 74 1028.8 73.6 1029.4 73.2 1029.9 72.8 1030.4 72.4 1031 72 1031.5 71.6 1032 71.2 1032.5 70.8 1033.1 70.4 1033.6 70 1034.1 69.6 1034.7 69.2 1035.2 68.8 1035.7 68.4 1036.3 68 1036.8 67.6 1037.3 67.2 1037.9 66.8 1038.4 66.4 1038.9 66 1039.5 65.6 1040 65.2 1040.5 64.8 1041.1 64.4 1041.6 64 1042.1 63.6 1042.7 63.2 1043.2 62.8 1043.7 62.4 1044.2 62 1044.8 61.6 1045.3 61.2 1045.8 60.8 1046.4 60.4 1046.9 60 1047.4 59.6 1048 59.2 1048.5 58.8 1049 58.4 1049.6 58 1050.1 57.6 1050.6 57.2 1051.2 56.8 1051.7 56.4 1052.2 56 1052.8 55.6 1053.3 55.2 1053.8 54.8 1054.4 54.4 1054.9 54 1055.4 53.6 1056 53.2 1056.5 52.8 1057 52.4 1057.5 52 1058.1 51.6 1058.6 51.2 1059.1 50.8 1059.7 50.4 1060.2 50 1060.7 49.6 1061.3 49.2 1061.8 48.8 1062.3 48.4 1062.9 48 1063.4 47.6 1063.9 47.2 1064.5 46.8 1065 46.4 1065.5 46 1066.1 45.6 1066.6 45.2 1067.1 44.8 1067.7 44.4 1068.2 44 1068.7 43.6 1069.2 43.2 1069.8 42.8 1070.3 42.4 1070.8 42 1071.4 41.6 1071.9 41.2 1072.4 40.8 1073 40.4 1073.5 40 1074 39.6 1074.6 39.2 1075.1 38.8 1075.6 38.4 1076.2 38 1076.7 37.6 1077.2 37.2 1077.8 36.8 1078.3 36.4 1078.8 36 1079.4 35.6 1079.9 35.2 1080.4 34.8 1080.9 34.4 1081.5 34 1082 33.6 1082.5 33.2 1083.1 32.8 1083.6 32.4 1084.1 32 1084.7 31.6 1085.2 31.2 1085.7 30.8 1086.3 30.4 1086.8 30 1087.3 29.6 1087.9 29.2 1088.4 28.8 1088.9 28.4 1089.5 28 1090 27.6 1090.5 27.2 1091.1 26.8 1091.6 26.4 1092.1 26 1092.7 25.6 1093.2 25.2 1093.7 24.8 1094.2 24.4 1094.8 24 1095.3 23.6 1095.8 23.2 1096.4 22.8 1096.9 22.4 1097.4 22 1098 21.6 1098.5 21.2 1099" stroke="#000" stroke-opacity="0.36" stroke-width="1.4" transform="translate(-0.9,0.5)"/></g>
<line x1="501" y1="14" x2="501" y2="838.8" stroke="#909090" stroke-width="4"/><line x1="501" y1="14.4" x2="501" y2="838.4" stroke="#494949" stroke-width="2.6"/>
<path d="M470,87.9 A42.9,10.8 0 0 0 531.8,87.9" fill="none" stroke="#525252" stroke-width="2.8"/>
<g fill="none" stroke-linecap="round" stroke-linejoin="round"><path d="M500.7 461.3 500.6 461.6 500.5 461.9 500.4 462.1 500.4 462.4 500.3 462.7 500.2 463 500.1 463.3 500 463.6 499.9 463.8 499.9 464.1 499.8 464.4 499.7 464.7 499.6 465 499.5 465.3 499.4 465.5 499.3 465.8 499.3 466.1 499.2 466.4 499.1 466.7 499 467 498.9 467.2 498.8 467.5 498.8 467.8 498.7 468.1 498.6 468.4 498.5 468.7 498.4 468.9 498.3 469.2 498.2 469.5 498.2 469.8 498.1 470.1 498 470.4 497.9 470.6 497.8 470.9 497.7 471.2 497.7 471.5 497.6 471.8 497.5 472 497.4 472.3 497.3 472.6 497.2 472.9 497.2 473.2 497.1 473.5 497 473.7 496.9 474 496.8 474.3 496.7 474.6 496.6 474.9 496.6 475.2 496.5 475.4 496.4 475.7 496.3 476 496.2 476.3 496.1 476.6 496.1 476.9 496 477.1 495.9 477.4 495.8 477.7 495.7 478 495.6 478.3 495.5 478.6 495.5 478.8 495.4 479.1 495.3 479.4 495.2 479.7 495.1 480 495 480.2 495 480.5 494.9 480.8 494.8 481.1 494.7 481.4 494.6 481.7 494.5 481.9 494.4 482.2 494.4 482.5 494.3 482.8 494.2 483.1 494.1 483.4 494 483.6 493.9 483.9 493.9 484.2 493.8 484.5 493.7 484.8 493.6 485.1 493.5 485.3 493.4 485.6 493.3 485.9 493.3 486.2 493.2 486.5 493.1 486.8 493 487 492.9 487.3 492.8 487.6 492.8 487.9 492.7 488.2 492.6 488.5 492.5 488.7 492.4 489 492.3 489.3 492.3 489.6 492.2 489.9 492.1 490.1 492 490.4 491.9 490.7 491.8 491 491.7 491.3 491.7 491.6 491.6 491.8 491.5 492.1 491.4 492.4 491.3 492.7 491.2 493 491.2 493.3 491.1 493.5 491 493.8 490.9 494.1 490.8 494.4 490.7 494.7 490.6 495 490.6 495.2 490.5 495.5 490.4 495.8 490.3 496.1 490.2 496.4 490.1 496.7 490.1 496.9 490 497.2 489.9 497.5 489.8 497.8 489.7 498.1 489.6 498.4 489.5 498.6 489.5 498.9 489.4 499.2 489.3 499.5 489.2 499.8 489.1 500 489 500.3 489 500.6 488.9 500.9 488.8 501.2 488.7 501.5 488.6 501.7 488.5 502 488.4 502.3 488.4 502.6 488.3 502.9 488.2 503.2 488.1 503.4 488 503.7 487.9 504 487.9 504.3 487.8 504.6 487.7 504.9 487.6 505.1 487.5 505.4 487.4 505.7 487.4 506 487.3 506.3 487.2 506.6 487.1 506.8 487 507.1 486.9 507.4 486.8 507.7 486.8 508 486.7 508.2 486.6 508.5 486.5 508.8 486.4 509.1 486.3 509.4 486.3 509.7 486.2 509.9 486.1 510.2 486 510.5 485.9 510.8 485.8 511.1 485.7 511.4 485.7 511.6 485.6 511.9 485.5 512.2 485.4 512.5 485.3 512.8 485.2 513.1 485.2 513.3 485.1 513.6 485 513.9 484.9 514.2 484.8 514.5 484.7 514.8 484.6 515 484.6 515.3 484.5 515.6 484.4 515.9 484.3 516.2 484.2 516.5 484.1 516.7 484.1 517 484 517.3 483.9 517.6 483.8 517.9 483.7 518.1 483.6 518.4 483.5 518.7 483.5 519 483.4 519.3 483.3 519.6 483.2 519.8 483.1 520.1 483 520.4 483 520.7 482.9 521 482.8 521.3 482.7 521.5 482.6 521.8 482.5 522.1 482.4 522.4 482.4 522.7 482.3 523 482.2 523.2 482.1 523.5 482 523.8 481.9 524.1 481.9 524.4 481.8 524.7 481.7 524.9 481.6 525.2 481.5 525.5 481.4 525.8 481.4 526.1 481.3 526.4 481.2 526.6 481.1 526.9 481 527.2 480.9 527.5 480.8 527.8 480.8 528 480.7 528.3 480.6 528.6 480.5 528.9 480.4 529.2 480.3 529.5 480.3 529.7 480.2 530 480.1 530.3 480 530.6 479.9 530.9 479.8 531.2 479.7 531.4 479.7 531.7 479.6 532 479.5 532.3 479.4 532.6 479.3 532.9 479.2 533.1 479.2 533.4 479.1 533.7 479 534 478.9 534.3 478.8 534.6 478.7 534.8 478.6 535.1 478.6 535.4 478.5 535.7 478.4 536 478.3 536.2 478.2 536.5 478.1 536.8 478.1 537.1 478 537.4 477.9 537.7 477.8 537.9 477.7 538.2 477.6 538.5 477.5 538.8 477.5 539.1 477.4 539.4 477.3 539.6 477.2 539.9 477.1 540.2 477 540.5 477 540.8 476.9 541.1 476.8 541.3 476.7 541.6 476.6 541.9 476.5 542.2 476.5 542.5 476.4 542.8 476.3 543 476.2 543.3 476.1 543.6 476 543.9 475.9 544.2 475.9 544.5 475.8 544.7 475.7 545 475.6 545.3 475.5 545.6 475.4 545.9 475.4 546.1 475.3 546.4 475.2 546.7 475.1 547 475 547.3 474.9 547.6 474.8 547.8 474.8 548.1 474.7 548.4 474.6 548.7 474.5 549 474.4 549.3 474.3 549.5 474.3 549.8 474.2 550.1 474.1 550.4 474 550.7 473.9 551 473.8 551.2 473.7 551.5 473.7 551.8 473.6 552.1 473.5 552.4 473.4 552.7 473.3 552.9 473.2 553.2 473.2 553.5 473.1 553.8 473 554.1 472.9 554.3 472.8 554.6 472.7 554.9 472.6 555.2 472.6 555.5 472.5 555.8 472.4 556 472.3 556.3 472.2 556.6 472.1 556.9 472.1 557.2 472 557.5 471.9 557.7 471.8 558 471.7 558.3 471.6 558.6 471.5 558.9 471.5 559.2 471.4 559.4 471.3 559.7 471.2 560 471.1 560.3 471 560.6 471 560.9 470.9 561.1 470.8 561.4 470.7 561.7 470.6 562 470.5 562.3 470.5 562.6 470.4 562.8 470.3 563.1 470.2 563.4 470.1 563.7 470 564 469.9 564.2 469.9 564.5 469.8 564.8 469.7 565.1 469.6 565.4 469.5 565.7 469.4 565.9 469.4 566.2 469.3 566.5 469.2 566.8 469.1 567.1 469 567.4 468.9 567.6 468.8 567.9 468.8 568.2 468.7 568.5 468.6 568.8 468.5 569.1 468.4 569.3 468.3 569.6 468.3 569.9 468.2 570.2 468.1 570.5 468 570.8 467.9 571 467.8 571.3 467.7 571.6 467.7 571.9 467.6 572.2 467.5 572.5 467.4 572.7 467.3 573 467.2 573.3 467.2 573.6 467.1 573.9 467 574.1 466.9 574.4 466.8 574.7 466.7 575 466.6 575.3 466.6 575.6 466.5 575.8 466.4 576.1 466.3 576.4 466.2 576.7 466.1 577 466.1 577.3 466 577.5 465.9 577.8 465.8 578.1 465.7 578.4 465.6 578.7 465.6 579 465.5 579.2 465.4 579.5 465.3 579.8 465.2 580.1 465.1 580.4 465 580.7 465 580.9 464.9 581.2 464.8 581.5 464.7 581.8 464.6 582.1 464.5 582.3 464.5 582.6 464.4 582.9 464.3 583.2 464.2 583.5 464.1 583.8 464 584 463.9 584.3 463.9 584.6 463.8 584.9 463.7 585.2 463.6 585.5 463.5 585.7 463.4 586 463.4 586.3 463.3 586.6 463.2 586.9 463.1 587.2 463 587.4 462.9 587.7 462.8 588 462.8 588.3 462.7 588.6 462.6 588.9 462.5 589.1 462.4 589.4 462.3 589.7 462.3 590 462.2 590.3 462.1 590.6 462 590.8 461.9 591.1 461.8 591.4 461.7 591.7 461.7 592 461.6 592.2 461.5 592.5 461.4 592.8 461.3 593.1 461.2 593.4 461.2 593.7 461.1 593.9 461 594.2 460.9 594.5 460.8 594.8 460.7 595.1 460.7 595.4 460.6 595.6 460.5 595.9 460.4 596.2 460.3 596.5 460.2 596.8 460.1 597.1 460.1 597.3 460 597.6 459.9 597.9 459.8 598.2 459.7 598.5 459.6 598.8 459.6 599 459.5 599.3 459.4 599.6 459.3 599.9 459.2 600.2 459.1 600.5 459 600.7 459 601 458.9 601.3 458.8 601.6 458.7 601.9 458.6 602.1 458.5 602.4 458.5 602.7 458.4 603 458.3 603.3 458.2 603.6 458.1 603.8 458 604.1 457.9 604.4 457.9 604.7 457.8 605 457.7 605.3 457.6 605.5 457.5 605.8 457.4 606.1 457.4 606.4 457.3 606.7 457.2 607 457.1 607.2 457 607.5 456.9 607.8 456.8 608.1 456.8 608.4 456.7 608.7 456.6 608.9 456.5 609.2 456.4 609.5 456.3 609.8 456.3 610.1 456.2 610.3 456.1 610.6 456 610.9 455.9 611.2 455.8 611.5 455.7 611.8 455.7 612 455.6 612.3 455.5 612.6 455.4 612.9 455.3 613.2 455.2 613.5 455.2 613.7 455.1 614 455 614.3 454.9 614.6 454.8 614.9 454.7 615.2 454.7 615.4 454.6 615.7 454.5 616 454.4 616.3 454.3 616.6 454.2 616.9 454.1 617.1 454.1 617.4 454 617.7 453.9 618 453.8 618.3 453.7 618.6 453.6 618.8 453.6 619.1 453.5 619.4 453.4 619.7 453.3 620 453.2 620.2 453.1 620.5 453 620.8 453 621.1 452.9 621.4 452.8 621.7 452.7 621.9 452.6 622.2 452.5 622.5 452.5 622.8 452.4 623.1 452.3 623.4 452.2 623.6 452.1 623.9 452 624.2 451.9 624.5 451.9 624.8 451.8 625.1 451.7 625.3 451.6 625.6 451.5 625.9 451.4 626.2 451.4 626.5 451.3 626.8 451.2 627 451.1 627.3 451 627.6 450.9 627.9 450.8 628.2 450.8 628.5 450.7 628.7 450.6 629 450.5 629.3 450.4 629.6 450.3 629.9 450.3 630.1 450.2 630.4 450.1 630.7 450 631 449.9 631.3 449.8 631.6 449.8 631.8 449.7 632.1 449.6 632.4 449.5 632.7 449.4 633 449.3 633.3 449.2 633.5 449.2 633.8 449.1 634.1 449 634.4 448.9 634.7 448.8 635 448.7 635.2 448.7 635.5 448.6 635.8 448.5 636.1 448.4 636.4 448.3 636.7 448.2 636.9 448.1 637.2 448.1 637.5 448 637.8 447.9 638.1 447.8 638.3 447.7 638.6 447.6 638.9 447.6 639.2 447.5 639.5 447.4 639.8 447.3 640 447.2 640.3 447.1 640.6 447 640.9 447 641.2 446.9 641.5 446.8 641.7 446.7 642 446.6 642.3 446.5 642.6 446.5 642.9 446.4 643.2 446.3 643.4 446.2 643.7 446.1 644 446 644.3 445.9 644.6 445.9 644.9 445.8 645.1 445.7 645.4 445.6 645.7 445.5 646 445.4 646.3 445.4 646.6 445.3 646.8 445.2 647.1 445.1 647.4 445 647.7 444.9 648 444.8 648.2 444.8 648.5 444.7 648.8 444.6 649.1 444.5 649.4 444.4 649.7 444.3 649.9 444.3 650.2 444.2 650.5 444.1 650.8 444 651.1 443.9 651.4 443.8 651.6 443.8 651.9 443.7 652.2 443.6 652.5 443.5 652.8 443.4 653.1 443.3 653.3 443.2 653.6 443.2 653.9 443.1 654.2 443 654.5 442.9 654.8 442.8 655 442.7 655.3 442.7 655.6 442.6 655.9 442.5 656.2 442.4 656.5 442.3 656.7 442.2 657 442.1 657.3 442.1 657.6 442 657.9 441.9 658.1 441.8 658.4 441.7 658.7 441.6 659 441.6 659.3 441.5 659.6 441.4 659.8 441.3 660.1" stroke="#0000e2" stroke-width="3.4"/><path d="M441.3 660.1 441.2 660.4 441.1 660.7 441 661 441 661.3 440.9 661.5 440.8 661.8 440.7 662.1 440.6 662.4 440.5 662.7 440.5 663 440.4 663.2 440.3 663.5 440.2 663.8 440.1 664.1 440 664.4 439.9 664.7 439.9 664.9 439.8 665.2 439.7 665.5 439.6 665.8 439.5 666.1 439.4 666.3 439.4 666.6 439.3 666.9 439.2 667.2 439.1 667.5 439 667.8 438.9 668 438.9 668.3 438.8 668.6 438.7 668.9 438.6 669.2 438.5 669.5 438.4 669.7 438.3 670 438.3 670.3 438.2 670.6 438.1 670.9 438 671.2 437.9 671.4 437.8 671.7 437.8 672 437.7 672.3 437.6 672.6 437.5 672.9 437.4 673.1 437.3 673.4 437.2 673.7 437.2 674 437.1 674.3 437 674.6 436.9 674.8 436.8 675.1 436.7 675.4 436.7 675.7 436.6 676 436.5 676.2 436.4 676.5 436.3 676.8 436.2 677.1 436.1 677.4 436.1 677.7 436 677.9 435.9 678.2 435.8 678.5 435.7 678.8 435.6 679.1 435.6 679.4 435.5 679.6 435.4 679.9 435.3 680.2 435.2 680.5 435.1 680.8 435 681.1 435 681.3 434.9 681.6 434.8 681.9 434.7 682.2 434.6 682.5 434.5 682.8 434.5 683 434.4 683.3 434.3 683.6 434.2 683.9 434.1 684.2 434 684.4 434 684.7 433.9 685 433.8 685.3 433.7 685.6 433.6 685.9 433.5 686.1 433.4 686.4 433.4 686.7 433.3 687 433.2 687.3 433.1 687.6 433 687.8 432.9 688.1 432.9 688.4 432.8 688.7 432.7 689 432.6 689.3 432.5 689.5 432.4 689.8 432.3 690.1 432.3 690.4 432.2 690.7 432.1 691 432 691.2 431.9 691.5 431.8 691.8 431.8 692.1 431.7 692.4 431.6 692.7 431.5 692.9 431.4 693.2 431.3 693.5 431.2 693.8 431.2 694.1 431.1 694.3 431 694.6 430.9 694.9 430.8 695.2 430.7 695.5 430.7 695.8 430.6 696 430.5 696.3 430.4 696.6 430.3 696.9 430.2 697.2 430.1 697.5 430.1 697.7 430 698 429.9 698.3 429.8 698.6 429.7 698.9 429.6 699.2 429.6 699.4 429.5 699.7 429.4 700 429.3 700.3 429.2 700.6 429.1 700.9 429 701.1 429 701.4 428.9 701.7 428.8 702 428.7 702.3 428.6 702.6 428.5 702.8 428.5 703.1 428.4 703.4 428.3 703.7 428.2 704 428.1 704.2 428 704.5 428 704.8 427.9 705.1 427.8 705.4 427.7 705.7 427.6 705.9 427.5 706.2 427.4 706.5 427.4 706.8 427.3 707.1 427.2 707.4 427.1 707.6 427 707.9 426.9 708.2 426.9 708.5 426.8 708.8 426.7 709.1 426.6 709.3 426.5 709.6 426.4 709.9 426.3 710.2 426.3 710.5 426.2 710.8 426.1 711 426 711.3 425.9 711.6 425.8 711.9 425.8 712.2 425.7 712.4 425.6 712.7 425.5 713 425.4 713.3 425.3 713.6 425.2 713.9 425.2 714.1 425.1 714.4 425 714.7 424.9 715 424.8 715.3 424.7 715.6 424.7 715.8 424.6 716.1 424.5 716.4 424.4 716.7 424.3 717 424.2 717.3 424.1 717.5 424.1 717.8 424 718.1 423.9 718.4 423.8 718.7 423.7 719 423.6 719.2 423.5 719.5 423.5 719.8 423.4 720.1 423.3 720.4 423.2 720.7 423.1 720.9 423 721.2 422.9 721.5 422.9 721.8 422.8 722.1 422.7 722.3 422.6 722.6 422.5 722.9 422.4 723.2 422.3 723.5 422.2 723.8 422.2 724 422.1 724.3 422 724.6 421.9 724.9 421.8 725.2 421.7 725.5 421.6 725.7 421.5 726 421.4 726.3 421.4 726.6 421.3 726.9 421.2 727.1 421.1 727.4 421 727.7 420.9 728 420.8 728.3 420.7 728.6 420.6 728.8 420.5 729.1" stroke="#0000e2" stroke-width="3.7"/><path d="M420.5 729.1 420.4 729.4 420.4 729.7 420.3 730 420.2 730.3 420.1 730.5 420 730.8 419.9 731.1 419.8 731.4 419.7 731.7 419.6 731.9 419.5 732.2 419.4 732.5 419.3 732.8 419.2 733.1 419.1 733.4 419 733.6 418.9 733.9 418.8 734.2 418.7 734.5 418.6 734.8 418.5 735 418.4 735.3 418.3 735.6 418.2 735.9 418.1 736.2 418 736.5 417.9 736.7 417.8 737 417.7 737.3 417.6 737.6 417.5 737.9 417.4 738.1 417.3 738.4 417.2 738.7 417.1 739 417 739.3 416.9 739.6 416.8 739.8 416.7 740.1 416.6 740.4 416.5 740.7 416.4 741 416.3 741.2 416.2 741.5 416.1 741.8 416 742.1 415.9 742.4 415.8 742.7 415.7 742.9 415.6 743.2 415.5 743.5 415.4 743.8 415.3 744.1 415.2 744.3 415.1 744.6 415 744.9 414.9 745.2 414.8 745.5 414.7 745.8 414.6 746 414.5 746.3 414.4 746.6 414.3 746.9 414.2 747.2 414.1 747.4 414 747.7 413.9 748 413.8 748.3 413.7 748.6 413.6 748.9 413.5 749.1 413.4 749.4 413.3 749.7 413.2 750 413.1 750.3 413 750.5 412.9 750.8 412.9 751.1 412.8 751.4 412.7 751.7 412.6 752 412.5 752.2 412.4 752.5 412.3 752.8 412.2 753.1 412.1 753.4 412 753.6 411.9 753.9 411.8 754.2 411.7 754.5 411.6 754.8 411.5 755.1 411.4 755.3 411.4 755.6 411.3 755.9 411.2 756.2 411.1 756.5 411 756.8 410.9 757 410.8 757.3 410.8 757.6 410.7 757.9 410.6 758.2 410.5 758.5 410.5 758.7 410.4 759 410.3 759.3 410.2 759.6 410.2 759.9 410.1 760.2 410 760.4 410 760.7 409.9 761 409.9 761.3 409.8 761.6 409.8 761.9 409.7 762.1 409.7 762.4 409.6 762.7 409.6 763 409.6 763.3 409.5 763.6 409.5 763.9 409.5 764.2 409.5 764.4 409.4 764.7 409.4 765 409.4 765.3 409.4 765.6 409.4 765.9 409.4 766.2 409.4 766.5 409.4 766.8 409.5 767 409.5 767.3 409.5 767.6 409.5 767.9 409.6 768.2 409.6 768.5 409.6 768.8 409.7 769.1 409.7 769.4 409.8 769.7 409.8 770 409.9 770.3 410 770.5 410 770.8 410.1 771.1 410.2 771.4 410.2 771.7 410.3 772 410.3 772.3 410.4 772.6 410.5 772.9 410.5 773.2 410.6 773.5 410.6 773.8 410.6 774.1 410.7 774.3 410.7 774.6 410.7 774.9 410.7 775.2 410.7 775.5 410.7 775.8 410.6 776.1 410.6 776.4 410.5 776.6 410.4 776.9 410.3 777.2 410.2 777.5 410 777.8 409.8 778 409.6 778.3 409.4 778.6 409.2 778.9 408.9 779.1 408.6 779.4 408.3 779.7 408 779.9 407.6 780.2 407.3 780.5 406.9 780.7 406.5 781 406.1 781.2 405.6 781.5 405.2 781.8 404.7 782 404.2 782.3 403.7 782.5 403.3 782.8 402.8 783 402.3 783.3 401.8 783.5 401.3 783.8 400.9 784 400.4 784.3 400 784.6 399.5 784.8 399.1 785.1 398.7 785.3 398.3 785.6 398 785.9 397.7 786.1 397.3 786.4 397.1 786.7 396.8 786.9 396.6 787.2 396.4 787.5 396.3 787.8 396.1 788 396 788.3 395.9 788.6 395.9 788.9 395.9 789.2 395.9 789.5 396 789.8 396.1 790.1 396.2 790.4 396.3 790.7 396.5 791 396.7 791.3 396.9 791.6 397.2 791.9 397.5 792.2 397.8 792.5 398.1 792.8 398.5 793.1 398.9 793.4 399.3 793.8 399.7 794.1" stroke="#0000e2" stroke-width="4"/><path d="M399.7 794.1 400.2 794.4M412 801.3 412.5 801.6 412.9 801.9 413.3 802.3 413.6 802.6 413.9 802.9 414.1 803.2 414.3 803.5 414.4 803.8 414.5 804.1 414.5 804.4 414.4 804.7 414.3 804.9 414 805.2 413.7 805.5 413.3 805.7 412.8 806 412.3 806.2 411.6 806.5M367.4 813.1 366.8 813.4 366.4 813.6 366 813.9 365.8 814.2 365.7 814.5 365.7 814.8 365.9 815.1 366.1 815.4 366.5 815.7 367 816M440.1 833.9 440.5 834.3 440.7 834.6 440.7 834.8 440.5 835.1 440.1 835.4 439.5 835.6M310.2 839.4 309.9 839.7 309.9 839.9 310.3 840.3" stroke="#0000e2" stroke-width="4.4"/><path d="M487.3 866.8 487.4 867.1 487.1 867.3 486.5 867.6M249.9 865.1 249.5 865.4 249.6 865.7 250 866M514.8 899.9 514.9 900.2 514.5 900.5 513.7 900.7M230.4 896.4 230.3 896.7 230.6 897M485.8 930.8 485.9 931.1 485.6 931.4 484.9 931.6" stroke="#0000e2" stroke-width="4.7"/><path d="M263.4 930.8 262.9 931 262.7 931.3 262.8 931.6 263.1 931.9 263.7 932.3M420.8 959.4 421.1 959.7 421.2 960 421.1 960.3 420.9 960.5 420.4 960.8 419.8 961M307 967.7 306.5 968 306.1 968.2 305.8 968.5 305.6 968.8 305.6 969 305.7 969.3 305.8 969.6 306.1 970 306.5 970.3 307 970.6M365.9 989.2 366.3 989.6 366.7 989.9 366.9 990.2 367.2 990.5 367.3 990.8 367.4 991.1 367.4 991.4 367.3 991.7 367.2 991.9 367.1 992.2 366.8 992.5 366.5 992.8 366.2 993 365.7 993.3 365.3 993.5 364.7 993.8 364.2 994 363.5 994.3 362.8 994.5M331.1 1002.1 330.5 1002.3 329.9 1002.6 329.3 1002.8 328.8 1003.1 328.4 1003.3 327.9 1003.6 327.5 1003.8 327.2 1004.1 326.8 1004.4 326.5 1004.6 326.3 1004.9 326.1 1005.2 325.9 1005.5 325.8 1005.7 325.6 1006 325.6 1006.3 325.5 1006.6 325.5 1006.9 325.5 1007.2 325.5 1007.4 325.6 1007.7 325.7 1008 325.8 1008.3 326 1008.6 326.1 1008.9 326.3 1009.2 326.5 1009.5 326.7 1009.8 326.9 1010.1 327.2 1010.5 327.4 1010.8 327.7 1011.1 327.9 1011.4 328.2 1011.7 328.5 1012 328.8 1012.3 329.1 1012.6 329.4 1012.9 329.7 1013.2 330.1 1013.5 330.4 1013.9 330.7 1014.2 331 1014.5 331.3 1014.8 331.6 1015.1 331.9 1015.4 332.2 1015.7 332.5 1016 332.8 1016.3 333.1 1016.7 333.4 1017 333.7 1017.3 334 1017.6 334.2 1017.9 334.5 1018.2 334.7 1018.5 335 1018.8 335.2 1019.1 335.4 1019.4 335.6 1019.7 335.8 1020 336 1020.3 336.2 1020.6 336.3 1020.9 336.5 1021.2 336.6 1021.5 336.8 1021.8 336.9 1022.1 337 1022.4 337.1 1022.7 337.2 1023 337.2 1023.3 337.3 1023.6 337.3 1023.9 337.4 1024.2 337.4 1024.5 337.4 1024.8 337.4 1025 337.4 1025.3 337.4 1025.6 337.3 1025.9 337.3 1026.2 337.2 1026.5 337.2 1026.8 337.1 1027 337 1027.3 336.9 1027.6 336.8 1027.9 336.7 1028.2 336.6 1028.5 336.4 1028.7 336.3 1029 336.2 1029.3 336 1029.6 335.8 1029.8 335.7 1030.1 335.5 1030.4 335.3 1030.7 335.1 1030.9 334.9 1031.2 334.7 1031.5 334.5 1031.8 334.2 1032 334 1032.3 333.8 1032.6 333.5 1032.9 333.3 1033.1 333.1 1033.4 332.8 1033.7 332.6 1033.9 332.3 1034.2 332.1 1034.5 331.8 1034.8 331.6 1035 331.3 1035.3 331.1 1035.6 330.8 1035.8 330.6 1036.1 330.4 1036.4 330.1 1036.7 329.9 1036.9 329.7 1037.2 329.4 1037.5 329.2 1037.8 329 1038 328.8 1038.3 328.6 1038.6 328.4 1038.8 328.2 1039.1 328 1039.4 327.8 1039.7 327.6 1039.9 327.4 1040.2 327.3 1040.5 327.1 1040.8 326.9 1041.1 326.8 1041.3 326.6 1041.6 326.5 1041.9 326.3 1042.2 326.2 1042.4 326.1 1042.7 325.9 1043 325.8 1043.3 325.7 1043.6 325.6 1043.8 325.5 1044.1 325.4 1044.4 325.3 1044.7 325.2 1045 325.1 1045.3 325 1045.5 324.9 1045.8 324.9 1046.1 324.8 1046.4 324.7 1046.7 324.6 1047 324.6 1047.2 324.5 1047.5 324.4 1047.8 324.4 1048.1 324.3 1048.4 324.3 1048.7 324.2 1048.9 324.1 1049.2 324.1 1049.5 324 1049.8 324 1050.1 323.9 1050.4 323.9 1050.7 323.8 1050.9 323.8 1051.2 323.7 1051.5 323.7 1051.8 323.6 1052.1 323.5 1052.4 323.5 1052.7 323.4 1052.9 323.4 1053.2 323.3 1053.5 323.3 1053.8 323.2 1054.1 323.2 1054.4 323.1 1054.6 323 1054.9 323 1055.2 322.9 1055.5 322.9 1055.8 322.8 1056.1 322.7 1056.4 322.7 1056.6 322.6 1056.9 322.5 1057.2 322.5 1057.5 322.4 1057.8 322.3 1058.1 322.2 1058.3 322.2 1058.6 322.1 1058.9 322 1059.2 322 1059.5 321.9 1059.8 321.8 1060 321.7 1060.3 321.7 1060.6 321.6 1060.9 321.5 1061.2 321.4 1061.5 321.3 1061.7 321.3 1062 321.2 1062.3 321.1 1062.6 321 1062.9 320.9 1063.2 320.8 1063.4 320.8 1063.7 320.7 1064 320.6 1064.3 320.5 1064.6 320.4 1064.9 320.3 1065.1 320.3 1065.4 320.2 1065.7 320.1 1066 320 1066.3 319.9 1066.6 319.8 1066.8 319.8 1067.1 319.7 1067.4 319.6 1067.7 319.5 1068 319.4 1068.2 319.3 1068.5 319.2 1068.8 319.2 1069.1 319.1 1069.4 319 1069.7 318.9 1069.9 318.8 1070.2 318.7 1070.5 318.6 1070.8 318.6 1071.1 318.5 1071.4 318.4 1071.6 318.3 1071.9 318.2 1072.2 318.1 1072.5 318 1072.8 318 1073.1 317.9 1073.3 317.8 1073.6 317.7 1073.9 317.6 1074.2 317.5 1074.5 317.4 1074.8 317.4 1075 317.3 1075.3 317.2 1075.6 317.1 1075.9 317 1076.2 316.9 1076.4 316.8 1076.7 316.8 1077 316.7 1077.3 316.6 1077.6 316.5 1077.9 316.4 1078.1 316.3 1078.4 316.3 1078.7 316.2 1079 316.1 1079.3 316 1079.6 315.9 1079.8 315.8 1080.1 315.7 1080.4 315.7 1080.7 315.6 1081 315.5 1081.3 315.4 1081.5 315.3 1081.8 315.2 1082.1 315.2 1082.4 315.1 1082.7 315 1083 314.9 1083.2 314.8 1083.5 314.7 1083.8 314.6 1084.1 314.6 1084.4 314.5 1084.6 314.4 1084.9 314.3 1085.2 314.2 1085.5 314.1 1085.8 314.1 1086.1 314 1086.3 313.9 1086.6 313.8 1086.9 313.7 1087.2 313.6 1087.5 313.5 1087.8 313.5 1088 313.4 1088.3 313.3 1088.6 313.2 1088.9 313.1 1089.2 313 1089.5 313 1089.7 312.9 1090 312.8 1090.3 312.7 1090.6 312.6 1090.9 312.5 1091.2 312.4 1091.4 312.4 1091.7 312.3 1092 312.2 1092.3 312.1 1092.6 312 1092.9 311.9 1093.1 311.9 1093.4 311.8 1093.7 311.7 1094 311.6 1094.3 311.5 1094.5 311.4 1094.8 311.3 1095.1 311.3 1095.4 311.2 1095.7 311.1 1096 311 1096.2 310.9 1096.5 310.8 1096.8 310.8 1097.1 310.7 1097.4 310.6 1097.7 310.5 1097.9 310.4 1098.2 310.3 1098.5 310.3 1098.8 310.2 1099.1 310.1 1099.4 310 1099.6 309.9 1099.9 309.8 1100.2 309.7 1100.5 309.7 1100.8 309.6 1101.1 309.5 1101.3 309.4 1101.6 309.3 1101.9 309.2 1102.2 309.2 1102.5 309.1 1102.7 309 1103 308.9 1103.3 308.8 1103.6 308.7 1103.9 308.6 1104.2 308.6 1104.4 308.5 1104.7 308.4 1105 308.3 1105.3 308.2 1105.6 308.1 1105.9 308.1 1106.1 308 1106.4 307.9 1106.7 307.8 1107 307.7 1107.3 307.6 1107.6 307.5 1107.8 307.5 1108.1 307.4 1108.4 307.3 1108.7 307.2 1109 307.1 1109.3 307 1109.5 307 1109.8 306.9 1110.1 306.8 1110.4 306.7 1110.7 306.6 1111 306.5 1111.2 306.4 1111.5 306.4 1111.8 306.3 1112.1 306.2 1112.4 306.1 1112.6 306 1112.9 305.9 1113.2 305.9 1113.5 305.8 1113.8 305.7 1114.1 305.6 1114.3 305.5 1114.6 305.4 1114.9 305.4 1115.2 305.3 1115.5 305.2 1115.8 305.1 1116 305 1116.3 304.9 1116.6 304.8 1116.9 304.8 1117.2 304.7 1117.5 304.6 1117.7 304.5 1118 304.4 1118.3 304.3 1118.6 304.3 1118.9 304.2 1119.2 304.1 1119.4 304 1119.7 303.9 1120 303.8 1120.3 303.7 1120.6 303.7 1120.9 303.6 1121.1 303.5 1121.4 303.4 1121.7 303.3 1122 303.2 1122.3 303.2 1122.5 303.1 1122.8 303 1123.1 302.9 1123.4 302.8 1123.7 302.7 1124 302.6 1124.2 302.6 1124.5 302.5 1124.8 302.4 1125.1 302.3 1125.4 302.2 1125.7 302.1 1125.9 302.1 1126.2 302 1126.5 301.9 1126.8 301.8 1127.1 301.7 1127.4 301.6 1127.6 301.5 1127.9 301.5 1128.2 301.4 1128.5 301.3 1128.8 301.2 1129.1 301.1 1129.3 301 1129.6 301 1129.9 300.9 1130.2 300.8 1130.5 300.7 1130.7 300.6 1131 300.5 1131.3 300.5 1131.6 300.4 1131.9 300.3 1132.2 300.2 1132.4 300.1 1132.7 300 1133 299.9 1133.3 299.9 1133.6 299.8 1133.9 299.7 1134.1 299.6 1134.4 299.5 1134.7 299.4 1135 299.4 1135.3 299.3 1135.6 299.2 1135.8 299.1 1136.1 299 1136.4 298.9 1136.7 298.8 1137 298.8 1137.3 298.7 1137.5 298.6 1137.8 298.5 1138.1 298.4 1138.4 298.3 1138.7 298.3 1139 298.2 1139.2 298.1 1139.5 298 1139.8" stroke="#0000e2" stroke-width="5"/><path d="M400.2 794.4 400.7 794.7 401.2 795 401.7 795.4 402.2 795.7 402.8 796 403.4 796.4 403.9 796.7 404.5 797 405.1 797.4 405.7 797.7 406.3 798 407 798.3 407.6 798.7 408.2 799 408.8 799.3 409.3 799.7 409.9 800 410.5 800.3 411 800.7 411.5 801 412 801.3M411.6 806.5 410.9 806.7 410.1 806.9 409.2 807.2 408.2 807.4M369.8 812.4 368.9 812.7 368.1 812.9 367.4 813.1M367 816 367.6 816.3 368.3 816.7M439.6 833.6 440.1 833.9M439.5 835.6 438.7 835.9 437.7 836.1M310.8 839.1 310.2 839.4M310.3 840.3 310.9 840.6" stroke="#0000d7" stroke-width="4.4"/><path d="M486.8 866.4 487.3 866.8M486.5 867.6 485.5 867.8M250 866 250.9 866.4M514.3 899.6 514.8 899.9M230.9 896.1 230.4 896.4M230.6 897 231.3 897.3M485.3 930.5 485.8 930.8M484.9 931.6 483.8 931.8" stroke="#0000d7" stroke-width="4.7"/><path d="M264.2 930.6 263.4 930.8M263.7 932.3 264.5 932.6M420.3 959 420.8 959.4M419.8 961 419 961.3 418 961.5M309.3 967 308.4 967.2 307.7 967.5 307 967.7M307 970.6 307.6 970.9 308.2 971.3 309 971.6M362.9 987.6 363.7 987.9 364.3 988.3 364.9 988.6 365.4 988.9 365.9 989.2M362.8 994.5 362.1 994.7 361.3 995 360.5 995.2 359.7 995.4 358.8 995.7 357.9 995.9 356.9 996.1 355.9 996.3 354.9 996.5M340.3 999.5 339.3 999.8 338.4 1000 337.4 1000.2 336.5 1000.4 335.7 1000.7 334.8 1000.9 334 1001.1 333.2 1001.4 332.5 1001.6 331.8 1001.8 331.1 1002.1" stroke="#0000d7" stroke-width="5"/><path d="M408.2 807.4 407.1 807.6 406 807.8 404.8 808 403.5 808.2 402.1 808.4M374.3 811.6 373 811.8 371.9 812 370.8 812.2 369.8 812.4M368.3 816.7 369.2 817 370.1 817.4 371.2 817.7M438 832.9 438.8 833.3 439.6 833.6M437.7 836.1 436.4 836.3M312.9 838.7 311.7 838.9 310.8 839.1M310.9 840.6 311.8 841" stroke="#0000cc" stroke-width="4.4"/><path d="M485.5 867.8 484.1 868M250.8 864.9 249.9 865.1M513.7 900.7 512.4 900.9M231.8 895.9 230.9 896.1M231.3 897.3 232.4 897.7M483.8 931.8 482.3 932" stroke="#0000cc" stroke-width="4.7"/><path d="M265.3 930.3 264.2 930.6M264.5 932.6 265.6 933M418.7 958.3 419.6 958.7 420.3 959M418 961.5 416.8 961.7 415.4 961.9M311.5 966.6 310.4 966.8 309.3 967M309 971.6 309.8 971.9 310.7 972.3 311.7 972.7 312.7 973M358.4 985.8 359.5 986.2 360.4 986.5 361.3 986.9 362.1 987.2 362.9 987.6M354.9 996.5 353.9 996.8 352.9 997 351.8 997.2 350.8 997.4 349.7 997.6 348.6 997.8 347.6 998 346.5 998.3 345.4 998.5 344.4 998.7 343.3 998.9 342.3 999.1 341.3 999.3 340.3 999.5" stroke="#0000cc" stroke-width="5"/><path d="M402.1 808.4 400.7 808.6 399.2 808.8 397.7 809 396.2 809.1 394.6 809.3 393 809.5 391.3 809.7 389.7 809.8 388 810 386.4 810.2 384.7 810.3 383.1 810.5 381.5 810.7 380 810.9 378.5 811 377 811.2 375.6 811.4 374.3 811.6M371.2 817.7 372.3 818.1 373.6 818.5 375 818.9M434.4 831.8 435.8 832.2 436.9 832.6 438 832.9M436.4 836.3 435 836.5 433.3 836.6M314.4 838.5 312.9 838.7M311.8 841 313.1 841.3" stroke="#0000c1" stroke-width="4.4"/><path d="M485.9 866.1 486.8 866.4M484.1 868 482.3 868.1M252 864.7 250.8 864.9M250.9 866.4 252.3 866.7M513.4 899.3 514.3 899.6M512.4 900.9 510.7 901.1M233.1 895.7 231.8 895.9M232.4 897.7 233.9 898.1M484.5 930.1 485.3 930.5M482.3 932 480.4 932.1" stroke="#0000c1" stroke-width="4.7"/><path d="M266.6 930.2 265.3 930.3M265.6 933 266.9 933.4M416.3 957.6 417.6 958 418.7 958.3M415.4 961.9 413.9 962.1 412.3 962.2M317.4 965.8 315.7 966 314.2 966.2 312.8 966.4 311.5 966.6M312.7 973 313.8 973.4 315 973.8 316.2 974.1 317.5 974.5 318.8 974.9 320.2 975.3 321.6 975.7M348.7 982.8 350 983.2 351.4 983.6 352.7 984 353.9 984.3 355.1 984.7 356.3 985.1 357.4 985.5 358.4 985.8" stroke="#0000c1" stroke-width="5"/><path d="M375 818.9 376.5 819.3 378.1 819.7 379.7 820.1 381.5 820.5 383.3 820.9M428 830.2 429.8 830.6 431.4 831 433 831.4 434.4 831.8M433.3 836.6 431.5 836.8 429.4 836.9 427.2 837.1M318.1 838.2 316.1 838.4 314.4 838.5M313.1 841.3 314.7 841.7 316.5 842.2" stroke="#0000b5" stroke-width="4.4"/><path d="M483 865.3 484.6 865.7 485.9 866.1M482.3 868.1 480.1 868.3M255.7 864.4 253.7 864.5 252 864.7M252.3 866.7 254 867.2M512 898.9 513.4 899.3M510.7 901.1 508.6 901.2M236.8 895.4 234.8 895.5 233.1 895.7M233.9 898.1 235.8 898.5M483.2 929.7 484.5 930.1M480.4 932.1 478.2 932.3" stroke="#0000b5" stroke-width="4.7"/><path d="M270.2 929.8 268.3 930 266.6 930.2M266.9 933.4 268.5 933.8 270.2 934.2M413.2 956.8 414.9 957.2 416.3 957.6M412.3 962.2 410.4 962.4 408.5 962.5 406.4 962.7 404.1 962.8 401.8 962.9M327.5 965.1 325.2 965.3 323.1 965.4 321.1 965.5 319.2 965.7 317.4 965.8M321.6 975.7 323.1 976.1 324.5 976.5 326 976.9 327.5 977.3 329 977.7 330.6 978.1 332.1 978.5 333.7 978.9 335.2 979.3 336.8 979.7 338.3 980.1 339.9 980.5 341.4 980.8 342.9 981.2 344.4 981.6 345.8 982 347.3 982.4 348.7 982.8" stroke="#0000b5" stroke-width="5"/><path d="M383.3 820.9 385.2 821.3 387.1 821.8 389.2 822.2 391.3 822.6 393.4 823.1 395.6 823.5 397.8 824 400 824.4 402.3 824.9 404.5 825.3 406.8 825.8 409.1 826.2 411.4 826.7 413.6 827.1 415.8 827.6 418 828 420.1 828.5 422.2 828.9 424.2 829.3 426.2 829.8 428 830.2M427.2 837.1 424.7 837.2 422 837.3 419.2 837.4 416.2 837.4 413 837.5 409.6 837.5M331.7 837.7 328.6 837.8 325.6 837.9 322.9 838 320.4 838.1 318.1 838.2M316.5 842.2 318.7 842.6 321.2 843.1" stroke="#0000aa" stroke-width="4.4"/><path d="M478.8 864.4 481.1 864.9 483 865.3M480.1 868.3 477.6 868.4 474.6 868.5 471.4 868.5M261.1 864.2 258.2 864.3 255.7 864.4M254 867.2 256.2 867.6 258.8 868.1M508 898 510.2 898.4 512 898.9M508.6 901.2 506.1 901.3 503.1 901.4 499.8 901.5M242.1 895.2 239.3 895.3 236.8 895.4M235.8 898.5 238.1 898.9 240.7 899.4M479.5 928.9 481.5 929.3 483.2 929.7M478.2 932.3 475.6 932.4 472.7 932.5 469.4 932.5" stroke="#0000aa" stroke-width="4.7"/><path d="M280.7 929.4 277.7 929.5 274.9 929.6 272.4 929.7 270.2 929.8M270.2 934.2 272.2 934.6 274.4 935 276.8 935.5M404.9 955.1 407.2 955.5 409.4 956 411.4 956.4 413.2 956.8M401.8 962.9 399.3 963 396.7 963.1 394 963.2 391.3 963.3 388.4 963.4 385.5 963.5 382.5 963.6 379.5 963.6 376.4 963.7 373.4 963.8 370.2 963.8 367.1 963.9 364 964 360.9 964 357.8 964.1 354.8 964.2 351.7 964.3 348.8 964.3 345.8 964.4 343 964.5 340.2 964.6 337.5 964.7 334.8 964.8 332.3 964.9 329.8 965 327.5 965.1" stroke="#0000aa" stroke-width="5"/><path d="M409.6 837.5 406.1 837.6 402.5 837.6 398.8 837.6 394.9 837.6 390.9 837.6 386.9 837.6 382.8 837.6 378.7 837.6 374.5 837.6 370.3 837.6 366.1 837.6 362 837.6 357.8 837.6 353.8 837.6 349.8 837.6 345.9 837.6 342.1 837.6 338.5 837.7 335 837.7 331.7 837.7M321.2 843.1 323.9 843.5 327 844.1 330.3 844.6 333.8 845.1" stroke="#00009f" stroke-width="4.4"/><path d="M333.8 845.1 337.7 845.7M466.4 862.4 470 862.9 473.2 863.5 476.2 864 478.8 864.4M471.4 868.5 467.8 868.6 463.8 868.6 459.6 868.5 455 868.5 450.1 868.4 444.9 868.4 439.5 868.3 433.8 868.2 427.9 868 421.8 867.9 415.5 867.7 409.1 867.5 402.5 867.4 395.8 867.2 388.9 867 382 866.8 375.1 866.6 368.1 866.3 361.1 866.1 354.2 865.9 347.3 865.7 340.4 865.5 333.6 865.3 327 865.1 320.5 865 314.2 864.8 308 864.7 302.1 864.5 296.3 864.4 290.9 864.3 285.7 864.2 280.7 864.2 276.1 864.1 271.8 864.1 267.9 864.1 264.3 864.1 261.1 864.2M258.8 868.1 261.8 868.6 265.2 869.1 269 869.7M498.7 896.5 502.2 897 505.3 897.5 508 898M499.8 901.5 496.1 901.5 492 901.5 487.6 901.5 482.8 901.4 477.7 901.3 472.3 901.2 466.6 901.1 460.6 901 454.4 900.8 447.9 900.6 441.2 900.5 434.3 900.3 427.3 900 420.1 899.8 412.7 899.6 405.3 899.3 397.8 899.1 390.1 898.8 382.5 898.6 374.8 898.3 367.2 898.1 359.5 897.8 351.9 897.5 344.4 897.3 336.9 897 329.6 896.8 322.4 896.6 315.3 896.4 308.4 896.2 301.7 896 295.2 895.8 289 895.6 283 895.5 277.2 895.4 271.7 895.3 266.5 895.2 261.6 895.1 257 895.1 252.8 895.1 248.9 895.1 245.3 895.1 242.1 895.2M240.7 899.4 243.7 899.9 247.1 900.5 250.8 901M467.5 926.9 471.1 927.4 474.2 927.9 477 928.4 479.5 928.9M469.4 932.5 465.8 932.5 462 932.6 457.8 932.5 453.3 932.5 448.6 932.5 443.7 932.4 438.5 932.3 433.1 932.2 427.5 932.1 421.8 932 415.9 931.9 409.9 931.7 403.9 931.6 397.7 931.4 391.5 931.3 385.2 931.1 378.9 931 372.6 930.8 366.4 930.6 360.2 930.5 354 930.3 348 930.2 342 930.1 336.2 929.9 330.4 929.8 324.9 929.7 319.5 929.6 314.3 929.5 309.3 929.4 304.5 929.4 299.9 929.4 295.6 929.3" stroke="#00009f" stroke-width="4.7"/><path d="M295.6 929.3 291.5 929.3 287.6 929.3 284 929.4 280.7 929.4M276.8 935.5 279.4 936 282.2 936.5 285.1 937 288.2 937.5 291.5 938 294.8 938.5 298.3 939.1 302 939.6 305.7 940.2 309.5 940.7M369.9 949.4 373.6 949.9 377.3 950.5 380.9 951 384.3 951.6 387.7 952.1 390.9 952.6 394 953.1 396.9 953.6 399.7 954.1 402.4 954.6 404.9 955.1" stroke="#00009f" stroke-width="5"/><path d="M337.7 845.7 341.7 846.3 346 846.9 350.5 847.5 355.1 848.1 360 848.7 365 849.4 370.1 850 375.4 850.7 380.7 851.4 386.2 852 391.7 852.7 397.2 853.4 402.7 854.1 408.3 854.8 413.8 855.5 419.3 856.1 424.7 856.8 430 857.5 435.1 858.1 440.2 858.8 445.1 859.4 449.8 860 454.3 860.7 458.6 861.3 462.6 861.8 466.4 862.4M269 869.7 273.2 870.3 277.7 870.9 282.6 871.5 287.9 872.2 293.4 872.9 299.3 873.6 305.5 874.3 311.9 875 318.5 875.8 325.4 876.6 332.4 877.4 339.7 878.2 347.1 879 354.6 879.8 362.2 880.7 369.8 881.5 377.6 882.3 385.3 883.2 393 884 400.7 884.8 408.3 885.7 415.9 886.5 423.3 887.3 430.6 888.1 437.7 888.9 444.6 889.7 451.3 890.5 457.8 891.2 464 892 470 892.7 475.6 893.4 480.9 894 485.9 894.7 490.6 895.3 494.8 895.9 498.7 896.5M250.8 901 254.9 901.6 259.3 902.2 264 902.8 269 903.5 274.2 904.1 279.8 904.8 285.6 905.5 291.6 906.2 297.8 907 304.2 907.7 310.8 908.5 317.6 909.2 324.5 910 331.4 910.8 338.5 911.6 345.6 912.4 352.8 913.2 360 914 367.2 914.8 374.4 915.6 381.5 916.4 388.5 917.2 395.4 918 402.3 918.8 409 919.5 415.5 920.3 421.8 921 427.9 921.7 433.9 922.5 439.5 923.2 444.9 923.8 450.1 924.5 454.9 925.1 459.4 925.7 463.7 926.3 467.5 926.9" stroke="#000094" stroke-width="4.7"/><path d="M309.5 940.7 313.4 941.3 317.3 941.9 321.3 942.4 325.4 943 329.5 943.6 333.6 944.2 337.7 944.8 341.8 945.4 346 945.9 350.1 946.5 354.1 947.1 358.1 947.7 362.1 948.2 366 948.8 369.9 949.4" stroke="#000094" stroke-width="5"/><path d="M500.7 461.3 500.5 461.9 500.4 462.4 500.2 463 500 463.6 499.9 464.1 499.7 464.7 499.5 465.3 499.3 465.8 499.2 466.4 499 467 498.8 467.5 498.7 468.1 498.5 468.7 498.3 469.2 498.2 469.8 498 470.4 497.8 470.9 497.7 471.5 497.5 472 497.3 472.6 497.2 473.2 497 473.7 496.8 474.3 496.6 474.9 496.5 475.4 496.3 476 496.1 476.6 496 477.1 495.8 477.7 495.6 478.3 495.5 478.8 495.3 479.4 495.1 480 495 480.5 494.8 481.1 494.6 481.7 494.4 482.2 494.3 482.8 494.1 483.4 493.9 483.9 493.8 484.5 493.6 485.1 493.4 485.6 493.3 486.2 493.1 486.8 492.9 487.3 492.8 487.9 492.6 488.5 492.4 489 492.3 489.6 492.1 490.1 491.9 490.7 491.7 491.3 491.6 491.8 491.4 492.4 491.2 493 491.1 493.5 490.9 494.1 490.7 494.7 490.6 495.2 490.4 495.8 490.2 496.4 490.1 496.9 489.9 497.5 489.7 498.1 489.5 498.6 489.4 499.2 489.2 499.8 489 500.3 488.9 500.9 488.7 501.5 488.5 502 488.4 502.6 488.2 503.2 488 503.7 487.9 504.3 487.7 504.9 487.5 505.4 487.4 506 487.2 506.6 487 507.1 486.8 507.7 486.7 508.2 486.5 508.8 486.3 509.4 486.2 509.9 486 510.5 485.8 511.1 485.7 511.6 485.5 512.2 485.3 512.8 485.2 513.3 485 513.9 484.8 514.5 484.6 515 484.5 515.6 484.3 516.2 484.1 516.7 484 517.3 483.8 517.9 483.6 518.4 483.5 519 483.3 519.6 483.1 520.1 483 520.7 482.8 521.3 482.6 521.8 482.4 522.4 482.3 523 482.1 523.5 481.9 524.1 481.8 524.7 481.6 525.2 481.4 525.8 481.3 526.4 481.1 526.9 480.9 527.5 480.8 528 480.6 528.6 480.4 529.2 480.3 529.7 480.1 530.3 479.9 530.9 479.7 531.4 479.6 532 479.4 532.6 479.2 533.1 479.1 533.7 478.9 534.3 478.7 534.8 478.6 535.4 478.4 536 478.2 536.5 478.1 537.1 477.9 537.7 477.7 538.2 477.5 538.8 477.4 539.4 477.2 539.9 477 540.5 476.9 541.1 476.7 541.6 476.5 542.2 476.4 542.8 476.2 543.3 476 543.9 475.9 544.5 475.7 545 475.5 545.6 475.4 546.1 475.2 546.7 475 547.3 474.8 547.8 474.7 548.4 474.5 549 474.3 549.5 474.2 550.1 474 550.7 473.8 551.2 473.7 551.8 473.5 552.4 473.3 552.9 473.2 553.5 473 554.1 472.8 554.6 472.6 555.2 472.5 555.8 472.3 556.3 472.1 556.9 472 557.5 471.8 558 471.6 558.6 471.5 559.2 471.3 559.7 471.1 560.3 471 560.9 470.8 561.4 470.6 562 470.5 562.6 470.3 563.1 470.1 563.7 469.9 564.2 469.8 564.8 469.6 565.4 469.4 565.9 469.3 566.5 469.1 567.1 468.9 567.6 468.8 568.2 468.6 568.8 468.4 569.3 468.3 569.9 468.1 570.5 467.9 571 467.7 571.6 467.6 572.2 467.4 572.7 467.2 573.3 467.1 573.9 466.9 574.4 466.7 575 466.6 575.6 466.4 576.1 466.2 576.7 466.1 577.3 465.9 577.8 465.7 578.4 465.6 579 465.4 579.5 465.2 580.1 465 580.7 464.9 581.2 464.7 581.8 464.5 582.3 464.4 582.9 464.2 583.5 464 584 463.9 584.6 463.7 585.2 463.5 585.7 463.4 586.3 463.2 586.9 463 587.4 462.8 588 462.7 588.6 462.5 589.1 462.3 589.7 462.2 590.3 462 590.8 461.8 591.4 461.7 592 461.5 592.5 461.3 593.1 461.2 593.7 461 594.2 460.8 594.8 460.7 595.4 460.5 595.9 460.3 596.5 460.1 597.1 460 597.6 459.8 598.2 459.6 598.8 459.5 599.3 459.3 599.9 459.1 600.5 459 601 458.8 601.6 458.6 602.1 458.5 602.7 458.3 603.3 458.1 603.8 457.9 604.4 457.8 605 457.6 605.5 457.4 606.1 457.3 606.7 457.1 607.2 456.9 607.8 456.8 608.4 456.6 608.9 456.4 609.5 456.3 610.1 456.1 610.6 455.9 611.2 455.7 611.8 455.6 612.3 455.4 612.9 455.2 613.5 455.1 614 454.9 614.6 454.7 615.2 454.6 615.7 454.4 616.3 454.2 616.9 454.1 617.4 453.9 618 453.7 618.6 453.6 619.1 453.4 619.7 453.2 620.2 453 620.8 452.9 621.4 452.7 621.9 452.5 622.5 452.4 623.1 452.2 623.6 452 624.2 451.9 624.8 451.7 625.3 451.5 625.9 451.4 626.5 451.2 627 451 627.6 450.8 628.2 450.7 628.7 450.5 629.3 450.3 629.9 450.2 630.4 450 631 449.8 631.6 449.7 632.1 449.5 632.7 449.3 633.3 449.2 633.8 449 634.4 448.8 635 448.7 635.5 448.5 636.1 448.3 636.7 448.1 637.2 448 637.8 447.8 638.3 447.6 638.9 447.5 639.5 447.3 640 447.1 640.6 447 641.2 446.8 641.7 446.6 642.3 446.5 642.9 446.3 643.4 446.1 644 445.9 644.6 445.8 645.1 445.6 645.7 445.4 646.3 445.3 646.8 445.1 647.4 444.9 648 444.8 648.5 444.6 649.1 444.4 649.7 444.3 650.2 444.1 650.8 443.9 651.4 443.8 651.9 443.6 652.5 443.4 653.1 443.2 653.6 443.1 654.2 442.9 654.8 442.7 655.3 442.6 655.9 442.4 656.5 442.2 657 442.1 657.6 441.9 658.1 441.7 658.7 441.6 659.3 441.4 659.8 441.2 660.4 441 661 440.9 661.5 440.7 662.1 440.5 662.7 440.4 663.2 440.2 663.8 440 664.4 439.9 664.9 439.7 665.5 439.5 666.1 439.4 666.6 439.2 667.2 439 667.8 438.9 668.3 438.7 668.9 438.5 669.5 438.3 670 438.2 670.6 438 671.2 437.8 671.7 437.7 672.3 437.5 672.9 437.3 673.4 437.2 674 437 674.6 436.8 675.1 436.7 675.7 436.5 676.2 436.3 676.8 436.1 677.4 436 677.9 435.8 678.5 435.6 679.1 435.5 679.6 435.3 680.2 435.1 680.8 435 681.3 434.8 681.9 434.6 682.5 434.5 683 434.3 683.6 434.1 684.2 434 684.7 433.8 685.3 433.6 685.9 433.4 686.4 433.3 687 433.1 687.6 432.9 688.1 432.8 688.7 432.6 689.3 432.4 689.8 432.3 690.4 432.1 691 431.9 691.5 431.8 692.1 431.6 692.7 431.4 693.2 431.2 693.8 431.1 694.3 430.9 694.9 430.7 695.5 430.6 696 430.4 696.6 430.2 697.2 430.1 697.7 429.9 698.3 429.7 698.9 429.6 699.4 429.4 700 429.2 700.6 429 701.1 428.9 701.7 428.7 702.3 428.5 702.8 428.4 703.4 428.2 704 428 704.5 427.9 705.1 427.7 705.7 427.5 706.2 427.4 706.8 427.2 707.4 427 707.9 426.9 708.5 426.7 709.1 426.5 709.6 426.3 710.2 426.2 710.8 426 711.3 425.8 711.9 425.7 712.4 425.5 713 425.3 713.6 425.2 714.1 425 714.7 424.8 715.3 424.7 715.8 424.5 716.4 424.3 717 424.1 717.5 424 718.1 423.8 718.7 423.6 719.2 423.5 719.8 423.3 720.4 423.1 720.9 422.9 721.5 422.8 722.1 422.6 722.6 422.4 723.2 422.2 723.8 422.1 724.3 421.9 724.9 421.7 725.5 421.5 726 421.4 726.6 421.2 727.1 421 727.7 420.8 728.3 420.6 728.8 420.4 729.4 420.3 730 420.1 730.5 419.9 731.1 419.7 731.7 419.5 732.2 419.3 732.8 419.1 733.4 418.9 733.9 418.7 734.5 418.5 735 418.3 735.6 418.1 736.2 417.9 736.7 417.7 737.3 417.5 737.9 417.3 738.4 417.1 739 416.9 739.6 416.7 740.1 416.5 740.7 416.3 741.2 416.1 741.8 415.9 742.4 415.7 742.9 415.5 743.5 415.3 744.1 415.1 744.6 414.9 745.2 414.7 745.8 414.5 746.3 414.3 746.9 414.1 747.4 413.9 748 413.7 748.6 413.5 749.1 413.3 749.7 413.1 750.3 412.9 750.8 412.8 751.4 412.6 752 412.4 752.5 412.2 753.1 412 753.6 411.8 754.2 411.6 754.8 411.4 755.3 411.3 755.9 411.1 756.5 410.9 757 410.8 757.6 410.6 758.2 410.5 758.7 410.3 759.3 410.2 759.9 410 760.4 409.9 761 409.8 761.6 409.7 762.1 409.6 762.7 409.6 763.3 409.5 763.9 409.5 764.4 409.4 765 409.4 765.6 409.4 766.2 409.4 766.8 409.5 767.3 409.5 767.9 409.6 768.5 409.7 769.1 409.8 769.7 409.9 770.3 410 770.8 410.2 771.4 410.3 772 410.4 772.6 410.5 773.2 410.6 773.8 410.7 774.3 410.7 774.9 410.7 775.5 410.6 776.1 410.5 776.6 410.3 777.2 410 777.8 409.6 778.3 409.2 778.9 408.6 779.4 408 779.9 407.3 780.5 406.5 781 405.6 781.5 404.7 782 403.7 782.5 402.8 783 401.8 783.5 400.9 784 400 784.6 399.1 785.1 398.3 785.6 397.7 786.1 397.1 786.7 396.6 787.2 396.3 787.8 396 788.3 395.9 788.9 395.9 789.5 396.1 790.1 396.3 790.7 396.7 791.3 397.2 791.9 397.8 792.5 398.5 793.1 399.3 793.8 400.2 794.4 401.2 795 402.2 795.7 403.4 796.4 404.5 797 405.7 797.7 407 798.3 408.2 799 409.3 799.7 410.5 800.3 411.5 801 412.5 801.6 413.3 802.3 413.9 802.9 414.3 803.5 414.5 804.1 414.4 804.7 414 805.2 413.3 805.7 412.3 806.2 410.9 806.7 409.2 807.2 407.1 807.6 404.8 808 402.1 808.4 399.2 808.8 396.2 809.1 393 809.5 389.7 809.8 386.4 810.2 383.1 810.5 380 810.9 377 811.2 374.3 811.6 371.9 812 369.8 812.4 368.1 812.9 366.8 813.4 366 813.9 365.7 814.5 365.9 815.1 366.5 815.7 367.6 816.3 369.2 817 371.2 817.7 373.6 818.5 376.5 819.3 379.7 820.1 383.3 820.9 387.1 821.8 391.3 822.6 395.6 823.5 400 824.4 404.5 825.3 409.1 826.2 413.6 827.1 418 828 422.2 828.9 426.2 829.8 429.8 830.6 433 831.4 435.8 832.2 438 832.9 439.6 833.6 440.5 834.3 440.7 834.8 440.1 835.4 438.7 835.9 436.4 836.3 433.3 836.6 429.4 836.9 424.7 837.2 419.2 837.4 413 837.5 406.1 837.6 398.8 837.6 390.9 837.6 382.8 837.6 374.5 837.6 366.1 837.6 357.8 837.6 349.8 837.6 342.1 837.6 335 837.7 328.6 837.8 322.9 838 318.1 838.2 314.4 838.5 311.7 838.9 310.2 839.4 309.9 839.9 310.9 840.6 313.1 841.3 316.5 842.2 321.2 843.1 327 844.1 333.8 845.1 341.7 846.3 350.5 847.5 360 848.7 370.1 850 380.7 851.4 391.7 852.7 402.7 854.1 413.8 855.5 424.7 856.8 435.1 858.1 445.1 859.4 454.3 860.7 462.6 861.8 470 862.9 476.2 864 481.1 864.9 484.6 865.7 486.8 866.4 487.4 867.1 486.5 867.6 484.1 868 480.1 868.3 474.6 868.5 467.8 868.6 459.6 868.5 450.1 868.4 439.5 868.3 427.9 868 415.5 867.7 402.5 867.4 388.9 867 375.1 866.6 361.1 866.1 347.3 865.7 333.6 865.3 320.5 865 308 864.7 296.3 864.4 285.7 864.2 276.1 864.1 267.9 864.1 261.1 864.2 255.7 864.4 252 864.7 249.9 865.1 249.6 865.7 250.9 866.4 254 867.2 258.8 868.1 265.2 869.1 273.2 870.3 282.6 871.5 293.4 872.9 305.5 874.3 318.5 875.8 332.4 877.4 347.1 879 362.2 880.7 377.6 882.3 393 884 408.3 885.7 423.3 887.3 437.7 888.9 451.3 890.5 464 892 475.6 893.4 485.9 894.7 494.8 895.9 502.2 897 508 898 512 898.9 514.3 899.6 514.9 900.2 513.7 900.7 510.7 901.1 506.1 901.3 499.8 901.5 492 901.5 482.8 901.4 472.3 901.2 460.6 901 447.9 900.6 434.3 900.3 420.1 899.8 405.3 899.3 390.1 898.8 374.8 898.3 359.5 897.8 344.4 897.3 329.6 896.8 315.3 896.4 301.7 896 289 895.6 277.2 895.4 266.5 895.2 257 895.1 248.9 895.1 242.1 895.2 236.8 895.4 233.1 895.7 230.9 896.1 230.3 896.7 231.3 897.3 233.9 898.1 238.1 898.9 243.7 899.9 250.8 901 259.3 902.2 269 903.5 279.8 904.8 291.6 906.2 304.2 907.7 317.6 909.2 331.4 910.8 345.6 912.4 360 914 374.4 915.6 388.5 917.2 402.3 918.8 415.5 920.3 427.9 921.7 439.5 923.2 450.1 924.5 459.4 925.7 467.5 926.9 474.2 927.9 479.5 928.9 483.2 929.7 485.3 930.5 485.9 931.1 484.9 931.6 482.3 932 478.2 932.3 472.7 932.5 465.8 932.5 457.8 932.5 448.6 932.5 438.5 932.3 427.5 932.1 415.9 931.9 403.9 931.6 391.5 931.3 378.9 931 366.4 930.6 354 930.3 342 930.1 330.4 929.8 319.5 929.6 309.3 929.4 299.9 929.4 291.5 929.3 284 929.4 277.7 929.5 272.4 929.7 268.3 930 265.3 930.3 263.4 930.8 262.7 931.3 263.1 931.9 264.5 932.6 266.9 933.4 270.2 934.2 274.4 935 279.4 936 285.1 937 291.5 938 298.3 939.1 305.7 940.2 313.4 941.3 321.3 942.4 329.5 943.6 337.7 944.8 346 945.9 354.1 947.1 362.1 948.2 369.9 949.4 377.3 950.5 384.3 951.6 390.9 952.6 396.9 953.6 402.4 954.6 407.2 955.5 411.4 956.4 414.9 957.2 417.6 958 419.6 958.7 420.8 959.4 421.2 960 420.9 960.5 419.8 961 418 961.5 415.4 961.9 412.3 962.2 408.5 962.5 404.1 962.8 399.3 963 394 963.2 388.4 963.4 382.5 963.6 376.4 963.7 370.2 963.8 364 964 357.8 964.1 351.7 964.3 345.8 964.4 340.2 964.6 334.8 964.8 329.8 965 325.2 965.3 321.1 965.5 317.4 965.8 314.2 966.2 311.5 966.6 309.3 967 307.7 967.5 306.5 968 305.8 968.5 305.6 969 305.8 969.6 306.5 970.3 307.6 970.9 309 971.6 310.7 972.3 312.7 973 315 973.8 317.5 974.5 320.2 975.3 323.1 976.1 326 976.9 329 977.7 332.1 978.5 335.2 979.3 338.3 980.1 341.4 980.8 344.4 981.6 347.3 982.4 350 983.2 352.7 984 355.1 984.7 357.4 985.5 359.5 986.2 361.3 986.9 362.9 987.6 364.3 988.3 365.4 988.9 366.3 989.6 366.9 990.2 367.3 990.8 367.4 991.4 367.2 991.9 366.8 992.5 366.2 993 365.3 993.5 364.2 994 362.8 994.5 361.3 995 359.7 995.4 357.9 995.9 355.9 996.3 353.9 996.8 351.8 997.2 349.7 997.6 347.6 998 345.4 998.5 343.3 998.9 341.3 999.3 339.3 999.8 337.4 1000.2 335.7 1000.7 334 1001.1 332.5 1001.6 331.1 1002.1 329.9 1002.6 328.8 1003.1 327.9 1003.6 327.2 1004.1 326.5 1004.6 326.1 1005.2 325.8 1005.7 325.6 1006.3 325.5 1006.9 325.5 1007.4 325.7 1008 326 1008.6 326.3 1009.2 326.7 1009.8 327.2 1010.5 327.7 1011.1 328.2 1011.7 328.8 1012.3 329.4 1012.9 330.1 1013.5 330.7 1014.2 331.3 1014.8 331.9 1015.4 332.5 1016 333.1 1016.7 333.7 1017.3 334.2 1017.9 334.7 1018.5 335.2 1019.1 335.6 1019.7 336 1020.3 336.3 1020.9 336.6 1021.5 336.9 1022.1 337.1 1022.7 337.2 1023.3 337.3 1023.9 337.4 1024.5 337.4 1025 337.4 1025.6 337.3 1026.2 337.2 1026.8 337 1027.3 336.8 1027.9 336.6 1028.5 336.3 1029 336 1029.6 335.7 1030.1 335.3 1030.7 334.9 1031.2 334.5 1031.8 334 1032.3 333.5 1032.9 333.1 1033.4 332.6 1033.9 332.1 1034.5 331.6 1035 331.1 1035.6 330.6 1036.1 330.1 1036.7 329.7 1037.2 329.2 1037.8 328.8 1038.3 328.4 1038.8 328 1039.4 327.6 1039.9 327.3 1040.5 326.9 1041.1 326.6 1041.6 326.3 1042.2 326.1 1042.7 325.8 1043.3 325.6 1043.8 325.4 1044.4 325.2 1045 325 1045.5 324.9 1046.1 324.7 1046.7 324.6 1047.2 324.4 1047.8 324.3 1048.4 324.2 1048.9 324.1 1049.5 324 1050.1 323.9 1050.7 323.8 1051.2 323.7 1051.8 323.5 1052.4 323.4 1052.9 323.3 1053.5 323.2 1054.1 323.1 1054.6 323 1055.2 322.9 1055.8 322.7 1056.4 322.6 1056.9 322.5 1057.5 322.3 1058.1 322.2 1058.6 322 1059.2 321.9 1059.8 321.7 1060.3 321.6 1060.9 321.4 1061.5 321.3 1062 321.1 1062.6 320.9 1063.2 320.8 1063.7 320.6 1064.3 320.4 1064.9 320.3 1065.4 320.1 1066 319.9 1066.6 319.8 1067.1 319.6 1067.7 319.4 1068.2 319.2 1068.8 319.1 1069.4 318.9 1069.9 318.7 1070.5 318.6 1071.1 318.4 1071.6 318.2 1072.2 318 1072.8 317.9 1073.3 317.7 1073.9 317.5 1074.5 317.4 1075 317.2 1075.6 317 1076.2 316.8 1076.7 316.7 1077.3 316.5 1077.9 316.3 1078.4 316.2 1079 316 1079.6 315.8 1080.1 315.7 1080.7 315.5 1081.3 315.3 1081.8 315.2 1082.4 315 1083 314.8 1083.5 314.6 1084.1 314.5 1084.6 314.3 1085.2 314.1 1085.8 314 1086.3 313.8 1086.9 313.6 1087.5 313.5 1088 313.3 1088.6 313.1 1089.2 313 1089.7 312.8 1090.3 312.6 1090.9 312.4 1091.4 312.3 1092 312.1 1092.6 311.9 1093.1 311.8 1093.7 311.6 1094.3 311.4 1094.8 311.3 1095.4 311.1 1096 310.9 1096.5 310.8 1097.1 310.6 1097.7 310.4 1098.2 310.3 1098.8 310.1 1099.4 309.9 1099.9 309.7 1100.5 309.6 1101.1 309.4 1101.6 309.2 1102.2 309.1 1102.7 308.9 1103.3 308.7 1103.9 308.6 1104.4 308.4 1105 308.2 1105.6 308.1 1106.1 307.9 1106.7 307.7 1107.3 307.5 1107.8 307.4 1108.4 307.2 1109 307 1109.5 306.9 1110.1 306.7 1110.7 306.5 1111.2 306.4 1111.8 306.2 1112.4 306 1112.9 305.9 1113.5 305.7 1114.1 305.5 1114.6 305.4 1115.2 305.2 1115.8 305 1116.3 304.8 1116.9 304.7 1117.5 304.5 1118 304.3 1118.6 304.2 1119.2 304 1119.7 303.8 1120.3 303.7 1120.9 303.5 1121.4 303.3 1122 303.2 1122.5 303 1123.1 302.8 1123.7 302.6 1124.2 302.5 1124.8 302.3 1125.4 302.1 1125.9 302 1126.5 301.8 1127.1 301.6 1127.6 301.5 1128.2 301.3 1128.8 301.1 1129.3 301 1129.9 300.8 1130.5 300.6 1131 300.5 1131.6 300.3 1132.2 300.1 1132.7 299.9 1133.3 299.8 1133.9 299.6 1134.4 299.4 1135 299.3 1135.6 299.1 1136.1 298.9 1136.7 298.8 1137.3 298.6 1137.8 298.4 1138.4 298.3 1139 298.1 1139.5" stroke="#2a2aff" stroke-opacity="0.22" stroke-width="1.7" transform="translate(0.7,-0.4)"/><path d="M500.7 461.3 500.5 461.9 500.4 462.4 500.2 463 500 463.6 499.9 464.1 499.7 464.7 499.5 465.3 499.3 465.8 499.2 466.4 499 467 498.8 467.5 498.7 468.1 498.5 468.7 498.3 469.2 498.2 469.8 498 470.4 497.8 470.9 497.7 471.5 497.5 472 497.3 472.6 497.2 473.2 497 473.7 496.8 474.3 496.6 474.9 496.5 475.4 496.3 476 496.1 476.6 496 477.1 495.8 477.7 495.6 478.3 495.5 478.8 495.3 479.4 495.1 480 495 480.5 494.8 481.1 494.6 481.7 494.4 482.2 494.3 482.8 494.1 483.4 493.9 483.9 493.8 484.5 493.6 485.1 493.4 485.6 493.3 486.2 493.1 486.8 492.9 487.3 492.8 487.9 492.6 488.5 492.4 489 492.3 489.6 492.1 490.1 491.9 490.7 491.7 491.3 491.6 491.8 491.4 492.4 491.2 493 491.1 493.5 490.9 494.1 490.7 494.7 490.6 495.2 490.4 495.8 490.2 496.4 490.1 496.9 489.9 497.5 489.7 498.1 489.5 498.6 489.4 499.2 489.2 499.8 489 500.3 488.9 500.9 488.7 501.5 488.5 502 488.4 502.6 488.2 503.2 488 503.7 487.9 504.3 487.7 504.9 487.5 505.4 487.4 506 487.2 506.6 487 507.1 486.8 507.7 486.7 508.2 486.5 508.8 486.3 509.4 486.2 509.9 486 510.5 485.8 511.1 485.7 511.6 485.5 512.2 485.3 512.8 485.2 513.3 485 513.9 484.8 514.5 484.6 515 484.5 515.6 484.3 516.2 484.1 516.7 484 517.3 483.8 517.9 483.6 518.4 483.5 519 483.3 519.6 483.1 520.1 483 520.7 482.8 521.3 482.6 521.8 482.4 522.4 482.3 523 482.1 523.5 481.9 524.1 481.8 524.7 481.6 525.2 481.4 525.8 481.3 526.4 481.1 526.9 480.9 527.5 480.8 528 480.6 528.6 480.4 529.2 480.3 529.7 480.1 530.3 479.9 530.9 479.7 531.4 479.6 532 479.4 532.6 479.2 533.1 479.1 533.7 478.9 534.3 478.7 534.8 478.6 535.4 478.4 536 478.2 536.5 478.1 537.1 477.9 537.7 477.7 538.2 477.5 538.8 477.4 539.4 477.2 539.9 477 540.5 476.9 541.1 476.7 541.6 476.5 542.2 476.4 542.8 476.2 543.3 476 543.9 475.9 544.5 475.7 545 475.5 545.6 475.4 546.1 475.2 546.7 475 547.3 474.8 547.8 474.7 548.4 474.5 549 474.3 549.5 474.2 550.1 474 550.7 473.8 551.2 473.7 551.8 473.5 552.4 473.3 552.9 473.2 553.5 473 554.1 472.8 554.6 472.6 555.2 472.5 555.8 472.3 556.3 472.1 556.9 472 557.5 471.8 558 471.6 558.6 471.5 559.2 471.3 559.7 471.1 560.3 471 560.9 470.8 561.4 470.6 562 470.5 562.6 470.3 563.1 470.1 563.7 469.9 564.2 469.8 564.8 469.6 565.4 469.4 565.9 469.3 566.5 469.1 567.1 468.9 567.6 468.8 568.2 468.6 568.8 468.4 569.3 468.3 569.9 468.1 570.5 467.9 571 467.7 571.6 467.6 572.2 467.4 572.7 467.2 573.3 467.1 573.9 466.9 574.4 466.7 575 466.6 575.6 466.4 576.1 466.2 576.7 466.1 577.3 465.9 577.8 465.7 578.4 465.6 579 465.4 579.5 465.2 580.1 465 580.7 464.9 581.2 464.7 581.8 464.5 582.3 464.4 582.9 464.2 583.5 464 584 463.9 584.6 463.7 585.2 463.5 585.7 463.4 586.3 463.2 586.9 463 587.4 462.8 588 462.7 588.6 462.5 589.1 462.3 589.7 462.2 590.3 462 590.8 461.8 591.4 461.7 592 461.5 592.5 461.3 593.1 461.2 593.7 461 594.2 460.8 594.8 460.7 595.4 460.5 595.9 460.3 596.5 460.1 597.1 460 597.6 459.8 598.2 459.6 598.8 459.5 599.3 459.3 599.9 459.1 600.5 459 601 458.8 601.6 458.6 602.1 458.5 602.7 458.3 603.3 458.1 603.8 457.9 604.4 457.8 605 457.6 605.5 457.4 606.1 457.3 606.7 457.1 607.2 456.9 607.8 456.8 608.4 456.6 608.9 456.4 609.5 456.3 610.1 456.1 610.6 455.9 611.2 455.7 611.8 455.6 612.3 455.4 612.9 455.2 613.5 455.1 614 454.9 614.6 454.7 615.2 454.6 615.7 454.4 616.3 454.2 616.9 454.1 617.4 453.9 618 453.7 618.6 453.6 619.1 453.4 619.7 453.2 620.2 453 620.8 452.9 621.4 452.7 621.9 452.5 622.5 452.4 623.1 452.2 623.6 452 624.2 451.9 624.8 451.7 625.3 451.5 625.9 451.4 626.5 451.2 627 451 627.6 450.8 628.2 450.7 628.7 450.5 629.3 450.3 629.9 450.2 630.4 450 631 449.8 631.6 449.7 632.1 449.5 632.7 449.3 633.3 449.2 633.8 449 634.4 448.8 635 448.7 635.5 448.5 636.1 448.3 636.7 448.1 637.2 448 637.8 447.8 638.3 447.6 638.9 447.5 639.5 447.3 640 447.1 640.6 447 641.2 446.8 641.7 446.6 642.3 446.5 642.9 446.3 643.4 446.1 644 445.9 644.6 445.8 645.1 445.6 645.7 445.4 646.3 445.3 646.8 445.1 647.4 444.9 648 444.8 648.5 444.6 649.1 444.4 649.7 444.3 650.2 444.1 650.8 443.9 651.4 443.8 651.9 443.6 652.5 443.4 653.1 443.2 653.6 443.1 654.2 442.9 654.8 442.7 655.3 442.6 655.9 442.4 656.5 442.2 657 442.1 657.6 441.9 658.1 441.7 658.7 441.6 659.3 441.4 659.8 441.2 660.4 441 661 440.9 661.5 440.7 662.1 440.5 662.7 440.4 663.2 440.2 663.8 440 664.4 439.9 664.9 439.7 665.5 439.5 666.1 439.4 666.6 439.2 667.2 439 667.8 438.9 668.3 438.7 668.9 438.5 669.5 438.3 670 438.2 670.6 438 671.2 437.8 671.7 437.7 672.3 437.5 672.9 437.3 673.4 437.2 674 437 674.6 436.8 675.1 436.7 675.7 436.5 676.2 436.3 676.8 436.1 677.4 436 677.9 435.8 678.5 435.6 679.1 435.5 679.6 435.3 680.2 435.1 680.8 435 681.3 434.8 681.9 434.6 682.5 434.5 683 434.3 683.6 434.1 684.2 434 684.7 433.8 685.3 433.6 685.9 433.4 686.4 433.3 687 433.1 687.6 432.9 688.1 432.8 688.7 432.6 689.3 432.4 689.8 432.3 690.4 432.1 691 431.9 691.5 431.8 692.1 431.6 692.7 431.4 693.2 431.2 693.8 431.1 694.3 430.9 694.9 430.7 695.5 430.6 696 430.4 696.6 430.2 697.2 430.1 697.7 429.9 698.3 429.7 698.9 429.6 699.4 429.4 700 429.2 700.6 429 701.1 428.9 701.7 428.7 702.3 428.5 702.8 428.4 703.4 428.2 704 428 704.5 427.9 705.1 427.7 705.7 427.5 706.2 427.4 706.8 427.2 707.4 427 707.9 426.9 708.5 426.7 709.1 426.5 709.6 426.3 710.2 426.2 710.8 426 711.3 425.8 711.9 425.7 712.4 425.5 713 425.3 713.6 425.2 714.1 425 714.7 424.8 715.3 424.7 715.8 424.5 716.4 424.3 717 424.1 717.5 424 718.1 423.8 718.7 423.6 719.2 423.5 719.8 423.3 720.4 423.1 720.9 422.9 721.5 422.8 722.1 422.6 722.6 422.4 723.2 422.2 723.8 422.1 724.3 421.9 724.9 421.7 725.5 421.5 726 421.4 726.6 421.2 727.1 421 727.7 420.8 728.3 420.6 728.8 420.4 729.4 420.3 730 420.1 730.5 419.9 731.1 419.7 731.7 419.5 732.2 419.3 732.8 419.1 733.4 418.9 733.9 418.7 734.5 418.5 735 418.3 735.6 418.1 736.2 417.9 736.7 417.7 737.3 417.5 737.9 417.3 738.4 417.1 739 416.9 739.6 416.7 740.1 416.5 740.7 416.3 741.2 416.1 741.8 415.9 742.4 415.7 742.9 415.5 743.5 415.3 744.1 415.1 744.6 414.9 745.2 414.7 745.8 414.5 746.3 414.3 746.9 414.1 747.4 413.9 748 413.7 748.6 413.5 749.1 413.3 749.7 413.1 750.3 412.9 750.8 412.8 751.4 412.6 752 412.4 752.5 412.2 753.1 412 753.6 411.8 754.2 411.6 754.8 411.4 755.3 411.3 755.9 411.1 756.5 410.9 757 410.8 757.6 410.6 758.2 410.5 758.7 410.3 759.3 410.2 759.9 410 760.4 409.9 761 409.8 761.6 409.7 762.1 409.6 762.7 409.6 763.3 409.5 763.9 409.5 764.4 409.4 765 409.4 765.6 409.4 766.2 409.4 766.8 409.5 767.3 409.5 767.9 409.6 768.5 409.7 769.1 409.8 769.7 409.9 770.3 410 770.8 410.2 771.4 410.3 772 410.4 772.6 410.5 773.2 410.6 773.8 410.7 774.3 410.7 774.9 410.7 775.5 410.6 776.1 410.5 776.6 410.3 777.2 410 777.8 409.6 778.3 409.2 778.9 408.6 779.4 408 779.9 407.3 780.5 406.5 781 405.6 781.5 404.7 782 403.7 782.5 402.8 783 401.8 783.5 400.9 784 400 784.6 399.1 785.1 398.3 785.6 397.7 786.1 397.1 786.7 396.6 787.2 396.3 787.8 396 788.3 395.9 788.9 395.9 789.5 396.1 790.1 396.3 790.7 396.7 791.3 397.2 791.9 397.8 792.5 398.5 793.1 399.3 793.8 400.2 794.4 401.2 795 402.2 795.7 403.4 796.4 404.5 797 405.7 797.7 407 798.3 408.2 799 409.3 799.7 410.5 800.3 411.5 801 412.5 801.6 413.3 802.3 413.9 802.9 414.3 803.5 414.5 804.1 414.4 804.7 414 805.2 413.3 805.7 412.3 806.2 410.9 806.7 409.2 807.2 407.1 807.6 404.8 808 402.1 808.4 399.2 808.8 396.2 809.1 393 809.5 389.7 809.8 386.4 810.2 383.1 810.5 380 810.9 377 811.2 374.3 811.6 371.9 812 369.8 812.4 368.1 812.9 366.8 813.4 366 813.9 365.7 814.5 365.9 815.1 366.5 815.7 367.6 816.3 369.2 817 371.2 817.7 373.6 818.5 376.5 819.3 379.7 820.1 383.3 820.9 387.1 821.8 391.3 822.6 395.6 823.5 400 824.4 404.5 825.3 409.1 826.2 413.6 827.1 418 828 422.2 828.9 426.2 829.8 429.8 830.6 433 831.4 435.8 832.2 438 832.9 439.6 833.6 440.5 834.3 440.7 834.8 440.1 835.4 438.7 835.9 436.4 836.3 433.3 836.6 429.4 836.9 424.7 837.2 419.2 837.4 413 837.5 406.1 837.6 398.8 837.6 390.9 837.6 382.8 837.6 374.5 837.6 366.1 837.6 357.8 837.6 349.8 837.6 342.1 837.6 335 837.7 328.6 837.8 322.9 838 318.1 838.2 314.4 838.5 311.7 838.9 310.2 839.4 309.9 839.9 310.9 840.6 313.1 841.3 316.5 842.2 321.2 843.1 327 844.1 333.8 845.1 341.7 846.3 350.5 847.5 360 848.7 370.1 850 380.7 851.4 391.7 852.7 402.7 854.1 413.8 855.5 424.7 856.8 435.1 858.1 445.1 859.4 454.3 860.7 462.6 861.8 470 862.9 476.2 864 481.1 864.9 484.6 865.7 486.8 866.4 487.4 867.1 486.5 867.6 484.1 868 480.1 868.3 474.6 868.5 467.8 868.6 459.6 868.5 450.1 868.4 439.5 868.3 427.9 868 415.5 867.7 402.5 867.4 388.9 867 375.1 866.6 361.1 866.1 347.3 865.7 333.6 865.3 320.5 865 308 864.7 296.3 864.4 285.7 864.2 276.1 864.1 267.9 864.1 261.1 864.2 255.7 864.4 252 864.7 249.9 865.1 249.6 865.7 250.9 866.4 254 867.2 258.8 868.1 265.2 869.1 273.2 870.3 282.6 871.5 293.4 872.9 305.5 874.3 318.5 875.8 332.4 877.4 347.1 879 362.2 880.7 377.6 882.3 393 884 408.3 885.7 423.3 887.3 437.7 888.9 451.3 890.5 464 892 475.6 893.4 485.9 894.7 494.8 895.9 502.2 897 508 898 512 898.9 514.3 899.6 514.9 900.2 513.7 900.7 510.7 901.1 506.1 901.3 499.8 901.5 492 901.5 482.8 901.4 472.3 901.2 460.6 901 447.9 900.6 434.3 900.3 420.1 899.8 405.3 899.3 390.1 898.8 374.8 898.3 359.5 897.8 344.4 897.3 329.6 896.8 315.3 896.4 301.7 896 289 895.6 277.2 895.4 266.5 895.2 257 895.1 248.9 895.1 242.1 895.2 236.8 895.4 233.1 895.7 230.9 896.1 230.3 896.7 231.3 897.3 233.9 898.1 238.1 898.9 243.7 899.9 250.8 901 259.3 902.2 269 903.5 279.8 904.8 291.6 906.2 304.2 907.7 317.6 909.2 331.4 910.8 345.6 912.4 360 914 374.4 915.6 388.5 917.2 402.3 918.8 415.5 920.3 427.9 921.7 439.5 923.2 450.1 924.5 459.4 925.7 467.5 926.9 474.2 927.9 479.5 928.9 483.2 929.7 485.3 930.5 485.9 931.1 484.9 931.6 482.3 932 478.2 932.3 472.7 932.5 465.8 932.5 457.8 932.5 448.6 932.5 438.5 932.3 427.5 932.1 415.9 931.9 403.9 931.6 391.5 931.3 378.9 931 366.4 930.6 354 930.3 342 930.1 330.4 929.8 319.5 929.6 309.3 929.4 299.9 929.4 291.5 929.3 284 929.4 277.7 929.5 272.4 929.7 268.3 930 265.3 930.3 263.4 930.8 262.7 931.3 263.1 931.9 264.5 932.6 266.9 933.4 270.2 934.2 274.4 935 279.4 936 285.1 937 291.5 938 298.3 939.1 305.7 940.2 313.4 941.3 321.3 942.4 329.5 943.6 337.7 944.8 346 945.9 354.1 947.1 362.1 948.2 369.9 949.4 377.3 950.5 384.3 951.6 390.9 952.6 396.9 953.6 402.4 954.6 407.2 955.5 411.4 956.4 414.9 957.2 417.6 958 419.6 958.7 420.8 959.4 421.2 960 420.9 960.5 419.8 961 418 961.5 415.4 961.9 412.3 962.2 408.5 962.5 404.1 962.8 399.3 963 394 963.2 388.4 963.4 382.5 963.6 376.4 963.7 370.2 963.8 364 964 357.8 964.1 351.7 964.3 345.8 964.4 340.2 964.6 334.8 964.8 329.8 965 325.2 965.3 321.1 965.5 317.4 965.8 314.2 966.2 311.5 966.6 309.3 967 307.7 967.5 306.5 968 305.8 968.5 305.6 969 305.8 969.6 306.5 970.3 307.6 970.9 309 971.6 310.7 972.3 312.7 973 315 973.8 317.5 974.5 320.2 975.3 323.1 976.1 326 976.9 329 977.7 332.1 978.5 335.2 979.3 338.3 980.1 341.4 980.8 344.4 981.6 347.3 982.4 350 983.2 352.7 984 355.1 984.7 357.4 985.5 359.5 986.2 361.3 986.9 362.9 987.6 364.3 988.3 365.4 988.9 366.3 989.6 366.9 990.2 367.3 990.8 367.4 991.4 367.2 991.9 366.8 992.5 366.2 993 365.3 993.5 364.2 994 362.8 994.5 361.3 995 359.7 995.4 357.9 995.9 355.9 996.3 353.9 996.8 351.8 997.2 349.7 997.6 347.6 998 345.4 998.5 343.3 998.9 341.3 999.3 339.3 999.8 337.4 1000.2 335.7 1000.7 334 1001.1 332.5 1001.6 331.1 1002.1 329.9 1002.6 328.8 1003.1 327.9 1003.6 327.2 1004.1 326.5 1004.6 326.1 1005.2 325.8 1005.7 325.6 1006.3 325.5 1006.9 325.5 1007.4 325.7 1008 326 1008.6 326.3 1009.2 326.7 1009.8 327.2 1010.5 327.7 1011.1 328.2 1011.7 328.8 1012.3 329.4 1012.9 330.1 1013.5 330.7 1014.2 331.3 1014.8 331.9 1015.4 332.5 1016 333.1 1016.7 333.7 1017.3 334.2 1017.9 334.7 1018.5 335.2 1019.1 335.6 1019.7 336 1020.3 336.3 1020.9 336.6 1021.5 336.9 1022.1 337.1 1022.7 337.2 1023.3 337.3 1023.9 337.4 1024.5 337.4 1025 337.4 1025.6 337.3 1026.2 337.2 1026.8 337 1027.3 336.8 1027.9 336.6 1028.5 336.3 1029 336 1029.6 335.7 1030.1 335.3 1030.7 334.9 1031.2 334.5 1031.8 334 1032.3 333.5 1032.9 333.1 1033.4 332.6 1033.9 332.1 1034.5 331.6 1035 331.1 1035.6 330.6 1036.1 330.1 1036.7 329.7 1037.2 329.2 1037.8 328.8 1038.3 328.4 1038.8 328 1039.4 327.6 1039.9 327.3 1040.5 326.9 1041.1 326.6 1041.6 326.3 1042.2 326.1 1042.7 325.8 1043.3 325.6 1043.8 325.4 1044.4 325.2 1045 325 1045.5 324.9 1046.1 324.7 1046.7 324.6 1047.2 324.4 1047.8 324.3 1048.4 324.2 1048.9 324.1 1049.5 324 1050.1 323.9 1050.7 323.8 1051.2 323.7 1051.8 323.5 1052.4 323.4 1052.9 323.3 1053.5 323.2 1054.1 323.1 1054.6 323 1055.2 322.9 1055.8 322.7 1056.4 322.6 1056.9 322.5 1057.5 322.3 1058.1 322.2 1058.6 322 1059.2 321.9 1059.8 321.7 1060.3 321.6 1060.9 321.4 1061.5 321.3 1062 321.1 1062.6 320.9 1063.2 320.8 1063.7 320.6 1064.3 320.4 1064.9 320.3 1065.4 320.1 1066 319.9 1066.6 319.8 1067.1 319.6 1067.7 319.4 1068.2 319.2 1068.8 319.1 1069.4 318.9 1069.9 318.7 1070.5 318.6 1071.1 318.4 1071.6 318.2 1072.2 318 1072.8 317.9 1073.3 317.7 1073.9 317.5 1074.5 317.4 1075 317.2 1075.6 317 1076.2 316.8 1076.7 316.7 1077.3 316.5 1077.9 316.3 1078.4 316.2 1079 316 1079.6 315.8 1080.1 315.7 1080.7 315.5 1081.3 315.3 1081.8 315.2 1082.4 315 1083 314.8 1083.5 314.6 1084.1 314.5 1084.6 314.3 1085.2 314.1 1085.8 314 1086.3 313.8 1086.9 313.6 1087.5 313.5 1088 313.3 1088.6 313.1 1089.2 313 1089.7 312.8 1090.3 312.6 1090.9 312.4 1091.4 312.3 1092 312.1 1092.6 311.9 1093.1 311.8 1093.7 311.6 1094.3 311.4 1094.8 311.3 1095.4 311.1 1096 310.9 1096.5 310.8 1097.1 310.6 1097.7 310.4 1098.2 310.3 1098.8 310.1 1099.4 309.9 1099.9 309.7 1100.5 309.6 1101.1 309.4 1101.6 309.2 1102.2 309.1 1102.7 308.9 1103.3 308.7 1103.9 308.6 1104.4 308.4 1105 308.2 1105.6 308.1 1106.1 307.9 1106.7 307.7 1107.3 307.5 1107.8 307.4 1108.4 307.2 1109 307 1109.5 306.9 1110.1 306.7 1110.7 306.5 1111.2 306.4 1111.8 306.2 1112.4 306 1112.9 305.9 1113.5 305.7 1114.1 305.5 1114.6 305.4 1115.2 305.2 1115.8 305 1116.3 304.8 1116.9 304.7 1117.5 304.5 1118 304.3 1118.6 304.2 1119.2 304 1119.7 303.8 1120.3 303.7 1120.9 303.5 1121.4 303.3 1122 303.2 1122.5 303 1123.1 302.8 1123.7 302.6 1124.2 302.5 1124.8 302.3 1125.4 302.1 1125.9 302 1126.5 301.8 1127.1 301.6 1127.6 301.5 1128.2 301.3 1128.8 301.1 1129.3 301 1129.9 300.8 1130.5 300.6 1131 300.5 1131.6 300.3 1132.2 300.1 1132.7 299.9 1133.3 299.8 1133.9 299.6 1134.4 299.4 1135 299.3 1135.6 299.1 1136.1 298.9 1136.7 298.8 1137.3 298.6 1137.8 298.4 1138.4 298.3 1139 298.1 1139.5" stroke="#000" stroke-opacity="0.36" stroke-width="1.6" transform="translate(-1,0.5)"/></g>
<g transform="translate(163.85,297.6) rotate(-3.65)">
<rect x="-4.7" y="-96" width="9.4" height="192" fill="url(#shaft)"/>
<polygon points="0,-124.8 10.6,-94.5 -10.6,-94.5" fill="#2c2c2c"/>
<polygon points="0,122.4 10.2,94.5 -10.2,94.5" fill="#2c2c2c"/>
</g>
<g stroke="#000" stroke-width="0.9" stroke-linejoin="round">
<text x="277.6" y="140.6" font-size="55" textLength="155.4" lengthAdjust="spacingAndGlyphs">sample</text>
<text x="95" y="334.3" font-size="50" textLength="29" lengthAdjust="spacingAndGlyphs">B</text>
<text x="561" y="50" font-size="46" font-style="italic">ϑ</text>
<text x="1158.5" y="197.5" font-size="50" textLength="98.7" lengthAdjust="spacingAndGlyphs">CCD</text>
<text x="858.8" y="508.2" font-size="55" textLength="155.9" lengthAdjust="spacingAndGlyphs">grating</text>
</g>
<g stroke-width="0.7" stroke-linejoin="round">
<text x="106" y="1094.7" font-size="42" fill="#f00" stroke="#f00" textLength="28.5" lengthAdjust="spacingAndGlyphs">2</text>
<text x="136.5" y="1094.7" font-size="62" fill="#f00" stroke="#f00" textLength="84" lengthAdjust="spacingAndGlyphs">μm</text>
<text x="367" y="1084" font-size="61" fill="#00f" stroke="#00f" textLength="92" lengthAdjust="spacingAndGlyphs">soft</text>
<text x="367" y="1129.1" font-size="61" fill="#00f" stroke="#00f" textLength="134" lengthAdjust="spacingAndGlyphs">x-ray</text>
</g>
<rect x="714" y="581" width="114" height="137.8" fill="#228b22"/>
<rect x="828" y="581" width="7" height="137.8" fill="#800000"/>
<rect x="835" y="581" width="258" height="137.8" fill="#b22222"/>
<rect x="1093" y="581" width="96" height="137.8" fill="#191970"/>
<rect x="1189" y="581" width="86" height="137.8" fill="#228b22"/>
<rect x="1275" y="581" width="69" height="137.8" fill="#d3d3d3"/>
<g fill="#fff" stroke="#fff" stroke-width="0.45" stroke-linejoin="round" font-size="56">
<text x="742" y="666.3" textLength="57" lengthAdjust="spacingAndGlyphs">Ta</text>
<text x="897" y="666.3" textLength="130" lengthAdjust="spacingAndGlyphs">GdFe</text>
<text x="1117.5" y="666.3" textLength="49.5" lengthAdjust="spacingAndGlyphs">Pt</text>
<text x="1203" y="666.3" textLength="56.5" lengthAdjust="spacingAndGlyphs">Ta</text>
</g>
<text transform="translate(1332.5,720) rotate(-90)" font-size="56" stroke="#000" stroke-width="0.45" textLength="135" lengthAdjust="spacingAndGlyphs">Glass</text>
<g stroke="#000"><line x1="714" y1="1047" x2="714" y2="1026" stroke-width="4"/><line x1="768.8" y1="1047" x2="768.8" y2="1034.5" stroke-width="3.8"/><line x1="823.6" y1="1047" x2="823.6" y2="1034.5" stroke-width="3.8"/><line x1="878.4" y1="1047" x2="878.4" y2="1034.5" stroke-width="3.8"/><line x1="933.2" y1="1047" x2="933.2" y2="1034.5" stroke-width="3.8"/><line x1="988" y1="1047" x2="988" y2="1026" stroke-width="4"/><line x1="1042.8" y1="1047" x2="1042.8" y2="1034.5" stroke-width="3.8"/><line x1="1097.6" y1="1047" x2="1097.6" y2="1034.5" stroke-width="3.8"/><line x1="1152.4" y1="1047" x2="1152.4" y2="1034.5" stroke-width="3.8"/><line x1="1207.2" y1="1047" x2="1207.2" y2="1034.5" stroke-width="3.8"/><line x1="1262" y1="1047" x2="1262" y2="1026" stroke-width="4"/><line x1="1316.8" y1="1047" x2="1316.8" y2="1034.5" stroke-width="3.8"/><line x1="714" y1="994" x2="735" y2="994" stroke-width="4"/><line x1="714" y1="941.5" x2="726.5" y2="941.5" stroke-width="3.8"/><line x1="714" y1="889" x2="726.5" y2="889" stroke-width="3.8"/><line x1="714" y1="836.4" x2="726.5" y2="836.4" stroke-width="3.8"/><line x1="714" y1="783.9" x2="735" y2="783.9" stroke-width="4"/></g>
<polyline points="714,920.9 827.1,926.7 828.8,905.5 1092.6,915.9 1094.4,827.4 1187.9,829.6 1190.1,938.2 1274.8,938.2 1275.5,1047" fill="none" stroke="#000" stroke-width="4" stroke-linejoin="round"/>
<rect x="714" y="732" width="630" height="315" fill="none" stroke="#000" stroke-width="4"/>
<g font-size="56" text-anchor="middle" stroke="#000" stroke-width="0.5" stroke-linejoin="round">
<text x="714" y="1097.8">0</text><text x="987.7" y="1097.8" textLength="60" lengthAdjust="spacingAndGlyphs">10</text><text x="1261.3" y="1097.8" textLength="60" lengthAdjust="spacingAndGlyphs">20</text>
<text x="685.3" y="804">4</text><text x="685.3" y="1014">2</text>
</g>
<g font-size="56" stroke="#000" stroke-width="0.45" stroke-linejoin="round">
<text x="886.5" y="1147" textLength="150" lengthAdjust="spacingAndGlyphs">Depth</text>
<text x="1058" y="1147" textLength="113.5" lengthAdjust="spacingAndGlyphs">(nm)</text>
<text transform="translate(657,1086.5) rotate(-90)" font-size="57" textLength="102" lengthAdjust="spacingAndGlyphs">Diff.</text>
<text transform="translate(657,953) rotate(-90)" font-size="57" textLength="259" lengthAdjust="spacingAndGlyphs">absorption</text>
</g>
</svg></body></html>
